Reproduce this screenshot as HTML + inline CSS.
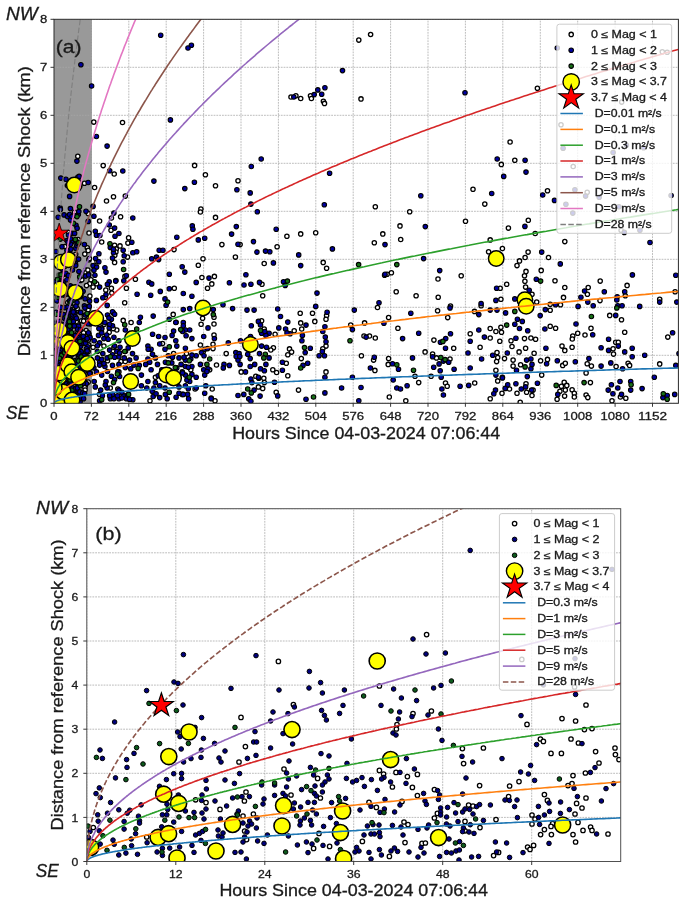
<!DOCTYPE html>
<html><head><meta charset="utf-8"><title>chart</title><style>html,body{margin:0;padding:0;background:#fff}svg{display:block;will-change:transform}</style></head><body>
<svg width="685" height="907" viewBox="0 0 685 907">
<rect width="685" height="907" fill="#fff"/>
<clipPath id="clipA"><rect x="54.0" y="19.3" width="624.4" height="384.0"/></clipPath>
<g clip-path="url(#clipA)">
<rect x="54.0" y="19.3" width="38.0" height="384.0" fill="#808080" opacity="0.8"/>
<line x1="54.0" y1="403.3" x2="54.0" y2="19.3" stroke="#a6a6a6" stroke-width="0.75" stroke-dasharray="1.8 1.0"/>
<line x1="91.4" y1="403.3" x2="91.4" y2="19.3" stroke="#a6a6a6" stroke-width="0.75" stroke-dasharray="1.8 1.0"/>
<line x1="128.8" y1="403.3" x2="128.8" y2="19.3" stroke="#a6a6a6" stroke-width="0.75" stroke-dasharray="1.8 1.0"/>
<line x1="166.2" y1="403.3" x2="166.2" y2="19.3" stroke="#a6a6a6" stroke-width="0.75" stroke-dasharray="1.8 1.0"/>
<line x1="203.6" y1="403.3" x2="203.6" y2="19.3" stroke="#a6a6a6" stroke-width="0.75" stroke-dasharray="1.8 1.0"/>
<line x1="241.0" y1="403.3" x2="241.0" y2="19.3" stroke="#a6a6a6" stroke-width="0.75" stroke-dasharray="1.8 1.0"/>
<line x1="278.4" y1="403.3" x2="278.4" y2="19.3" stroke="#a6a6a6" stroke-width="0.75" stroke-dasharray="1.8 1.0"/>
<line x1="315.8" y1="403.3" x2="315.8" y2="19.3" stroke="#a6a6a6" stroke-width="0.75" stroke-dasharray="1.8 1.0"/>
<line x1="353.2" y1="403.3" x2="353.2" y2="19.3" stroke="#a6a6a6" stroke-width="0.75" stroke-dasharray="1.8 1.0"/>
<line x1="390.6" y1="403.3" x2="390.6" y2="19.3" stroke="#a6a6a6" stroke-width="0.75" stroke-dasharray="1.8 1.0"/>
<line x1="428.0" y1="403.3" x2="428.0" y2="19.3" stroke="#a6a6a6" stroke-width="0.75" stroke-dasharray="1.8 1.0"/>
<line x1="465.4" y1="403.3" x2="465.4" y2="19.3" stroke="#a6a6a6" stroke-width="0.75" stroke-dasharray="1.8 1.0"/>
<line x1="502.8" y1="403.3" x2="502.8" y2="19.3" stroke="#a6a6a6" stroke-width="0.75" stroke-dasharray="1.8 1.0"/>
<line x1="540.3" y1="403.3" x2="540.3" y2="19.3" stroke="#a6a6a6" stroke-width="0.75" stroke-dasharray="1.8 1.0"/>
<line x1="577.7" y1="403.3" x2="577.7" y2="19.3" stroke="#a6a6a6" stroke-width="0.75" stroke-dasharray="1.8 1.0"/>
<line x1="615.1" y1="403.3" x2="615.1" y2="19.3" stroke="#a6a6a6" stroke-width="0.75" stroke-dasharray="1.8 1.0"/>
<line x1="652.5" y1="403.3" x2="652.5" y2="19.3" stroke="#a6a6a6" stroke-width="0.75" stroke-dasharray="1.8 1.0"/>
<line x1="54.0" y1="403.3" x2="678.4" y2="403.3" stroke="#a6a6a6" stroke-width="0.75" stroke-dasharray="1.8 1.0"/>
<line x1="54.0" y1="355.3" x2="678.4" y2="355.3" stroke="#a6a6a6" stroke-width="0.75" stroke-dasharray="1.8 1.0"/>
<line x1="54.0" y1="307.3" x2="678.4" y2="307.3" stroke="#a6a6a6" stroke-width="0.75" stroke-dasharray="1.8 1.0"/>
<line x1="54.0" y1="259.3" x2="678.4" y2="259.3" stroke="#a6a6a6" stroke-width="0.75" stroke-dasharray="1.8 1.0"/>
<line x1="54.0" y1="211.3" x2="678.4" y2="211.3" stroke="#a6a6a6" stroke-width="0.75" stroke-dasharray="1.8 1.0"/>
<line x1="54.0" y1="163.3" x2="678.4" y2="163.3" stroke="#a6a6a6" stroke-width="0.75" stroke-dasharray="1.8 1.0"/>
<line x1="54.0" y1="115.3" x2="678.4" y2="115.3" stroke="#a6a6a6" stroke-width="0.75" stroke-dasharray="1.8 1.0"/>
<line x1="54.0" y1="67.3" x2="678.4" y2="67.3" stroke="#a6a6a6" stroke-width="0.75" stroke-dasharray="1.8 1.0"/>
<line x1="54.0" y1="19.3" x2="678.4" y2="19.3" stroke="#a6a6a6" stroke-width="0.75" stroke-dasharray="1.8 1.0"/>
<circle cx="93.8" cy="122.1" r="2.15" fill="#fff" stroke="#000" stroke-width="1.3"/>
<circle cx="122.5" cy="122.5" r="2.15" fill="#fff" stroke="#000" stroke-width="1.3"/>
<circle cx="103.2" cy="165.6" r="2.15" fill="#fff" stroke="#000" stroke-width="1.3"/>
<circle cx="114.2" cy="174.0" r="2.15" fill="#fff" stroke="#000" stroke-width="1.3"/>
<circle cx="94.6" cy="187.5" r="2.15" fill="#fff" stroke="#000" stroke-width="1.3"/>
<circle cx="113.5" cy="196.8" r="2.15" fill="#fff" stroke="#000" stroke-width="1.3"/>
<circle cx="106.5" cy="201.0" r="2.15" fill="#fff" stroke="#000" stroke-width="1.3"/>
<circle cx="125.3" cy="196.1" r="2.15" fill="#fff" stroke="#000" stroke-width="1.3"/>
<circle cx="194.6" cy="165.4" r="2.15" fill="#fff" stroke="#000" stroke-width="1.3"/>
<circle cx="205.4" cy="174.7" r="2.15" fill="#fff" stroke="#000" stroke-width="1.3"/>
<circle cx="215.5" cy="185.8" r="2.15" fill="#fff" stroke="#000" stroke-width="1.3"/>
<circle cx="200.9" cy="209.0" r="2.15" fill="#fff" stroke="#000" stroke-width="1.3"/>
<circle cx="238.0" cy="180.7" r="2.15" fill="#fff" stroke="#000" stroke-width="1.3"/>
<circle cx="358.8" cy="40.1" r="2.15" fill="#fff" stroke="#000" stroke-width="1.3"/>
<circle cx="370.6" cy="34.5" r="2.15" fill="#fff" stroke="#000" stroke-width="1.3"/>
<circle cx="291.0" cy="97.0" r="2.15" fill="#fff" stroke="#000" stroke-width="1.3"/>
<circle cx="295.9" cy="95.7" r="2.15" fill="#fff" stroke="#000" stroke-width="1.3"/>
<circle cx="300.7" cy="98.5" r="2.15" fill="#fff" stroke="#000" stroke-width="1.3"/>
<circle cx="310.5" cy="95.7" r="2.15" fill="#fff" stroke="#000" stroke-width="1.3"/>
<circle cx="311.4" cy="98.5" r="2.15" fill="#fff" stroke="#000" stroke-width="1.3"/>
<circle cx="323.4" cy="101.3" r="2.15" fill="#fff" stroke="#000" stroke-width="1.3"/>
<circle cx="324.5" cy="103.4" r="2.15" fill="#fff" stroke="#000" stroke-width="1.3"/>
<circle cx="361.0" cy="98.9" r="2.15" fill="#fff" stroke="#000" stroke-width="1.3"/>
<circle cx="375.3" cy="206.8" r="2.15" fill="#fff" stroke="#000" stroke-width="1.3"/>
<circle cx="510.1" cy="142.0" r="2.15" fill="#fff" stroke="#000" stroke-width="1.3"/>
<circle cx="501.3" cy="164.4" r="2.15" fill="#fff" stroke="#000" stroke-width="1.3"/>
<circle cx="514.8" cy="160.3" r="2.15" fill="#fff" stroke="#000" stroke-width="1.3"/>
<circle cx="473.0" cy="189.2" r="2.15" fill="#fff" stroke="#000" stroke-width="1.3"/>
<circle cx="484.8" cy="204.1" r="2.15" fill="#fff" stroke="#000" stroke-width="1.3"/>
<circle cx="409.7" cy="211.8" r="2.15" fill="#fff" stroke="#000" stroke-width="1.3"/>
<circle cx="537.4" cy="88.2" r="2.15" fill="#fff" stroke="#000" stroke-width="1.3"/>
<circle cx="547.5" cy="190.7" r="2.15" fill="#fff" stroke="#000" stroke-width="1.3"/>
<circle cx="662.3" cy="51.7" r="2.15" fill="#fff" stroke="#000" stroke-width="1.3"/>
<circle cx="667.2" cy="52.3" r="2.15" fill="#fff" stroke="#000" stroke-width="1.3"/>
<circle cx="621.7" cy="102.1" r="2.15" fill="#fff" stroke="#000" stroke-width="1.3"/>
<circle cx="561.0" cy="124.7" r="2.15" fill="#fff" stroke="#000" stroke-width="1.3"/>
<circle cx="573.2" cy="166.5" r="2.15" fill="#fff" stroke="#000" stroke-width="1.3"/>
<circle cx="587.2" cy="192.2" r="2.15" fill="#fff" stroke="#000" stroke-width="1.3"/>
<circle cx="99.6" cy="221.0" r="2.15" fill="#fff" stroke="#000" stroke-width="1.3"/>
<circle cx="120.6" cy="216.7" r="2.15" fill="#fff" stroke="#000" stroke-width="1.3"/>
<circle cx="111.4" cy="218.0" r="2.15" fill="#fff" stroke="#000" stroke-width="1.3"/>
<circle cx="215.5" cy="217.4" r="2.15" fill="#fff" stroke="#000" stroke-width="1.3"/>
<circle cx="111.0" cy="230.2" r="2.15" fill="#fff" stroke="#000" stroke-width="1.3"/>
<circle cx="200.4" cy="212.0" r="2.15" fill="#fff" stroke="#000" stroke-width="1.3"/>
<circle cx="128.6" cy="237.8" r="2.15" fill="#fff" stroke="#000" stroke-width="1.3"/>
<circle cx="101.7" cy="242.0" r="2.15" fill="#fff" stroke="#000" stroke-width="1.3"/>
<circle cx="114.6" cy="245.3" r="2.15" fill="#fff" stroke="#000" stroke-width="1.3"/>
<circle cx="120.0" cy="245.9" r="2.15" fill="#fff" stroke="#000" stroke-width="1.3"/>
<circle cx="127.9" cy="243.1" r="2.15" fill="#fff" stroke="#000" stroke-width="1.3"/>
<circle cx="221.9" cy="244.6" r="2.15" fill="#fff" stroke="#000" stroke-width="1.3"/>
<circle cx="174.0" cy="249.6" r="2.15" fill="#fff" stroke="#000" stroke-width="1.3"/>
<circle cx="116.3" cy="248.9" r="2.15" fill="#fff" stroke="#000" stroke-width="1.3"/>
<circle cx="127.5" cy="257.1" r="2.15" fill="#fff" stroke="#000" stroke-width="1.3"/>
<circle cx="114.6" cy="262.4" r="2.15" fill="#fff" stroke="#000" stroke-width="1.3"/>
<circle cx="97.0" cy="261.8" r="2.15" fill="#fff" stroke="#000" stroke-width="1.3"/>
<circle cx="203.0" cy="258.8" r="2.15" fill="#fff" stroke="#000" stroke-width="1.3"/>
<circle cx="198.3" cy="265.2" r="2.15" fill="#fff" stroke="#000" stroke-width="1.3"/>
<circle cx="235.4" cy="257.1" r="2.15" fill="#fff" stroke="#000" stroke-width="1.3"/>
<circle cx="124.9" cy="276.4" r="2.15" fill="#fff" stroke="#000" stroke-width="1.3"/>
<circle cx="135.4" cy="279.2" r="2.15" fill="#fff" stroke="#000" stroke-width="1.3"/>
<circle cx="214.4" cy="276.4" r="2.15" fill="#fff" stroke="#000" stroke-width="1.3"/>
<circle cx="201.9" cy="277.5" r="2.15" fill="#fff" stroke="#000" stroke-width="1.3"/>
<circle cx="111.4" cy="288.2" r="2.15" fill="#fff" stroke="#000" stroke-width="1.3"/>
<circle cx="126.4" cy="288.2" r="2.15" fill="#fff" stroke="#000" stroke-width="1.3"/>
<circle cx="211.8" cy="283.9" r="2.15" fill="#fff" stroke="#000" stroke-width="1.3"/>
<circle cx="207.5" cy="288.2" r="2.15" fill="#fff" stroke="#000" stroke-width="1.3"/>
<circle cx="174.3" cy="288.2" r="2.15" fill="#fff" stroke="#000" stroke-width="1.3"/>
<circle cx="93.1" cy="287.1" r="2.15" fill="#fff" stroke="#000" stroke-width="1.3"/>
<circle cx="111.8" cy="293.1" r="2.15" fill="#fff" stroke="#000" stroke-width="1.3"/>
<circle cx="124.7" cy="302.8" r="2.15" fill="#fff" stroke="#000" stroke-width="1.3"/>
<circle cx="173.2" cy="314.4" r="2.15" fill="#fff" stroke="#000" stroke-width="1.3"/>
<circle cx="202.6" cy="318.2" r="2.15" fill="#fff" stroke="#000" stroke-width="1.3"/>
<circle cx="214.0" cy="317.2" r="2.15" fill="#fff" stroke="#000" stroke-width="1.3"/>
<circle cx="123.2" cy="320.4" r="2.15" fill="#fff" stroke="#000" stroke-width="1.3"/>
<circle cx="131.1" cy="322.5" r="2.15" fill="#fff" stroke="#000" stroke-width="1.3"/>
<circle cx="116.8" cy="330.0" r="2.15" fill="#fff" stroke="#000" stroke-width="1.3"/>
<circle cx="201.1" cy="324.2" r="2.15" fill="#fff" stroke="#000" stroke-width="1.3"/>
<circle cx="214.0" cy="324.0" r="2.15" fill="#fff" stroke="#000" stroke-width="1.3"/>
<circle cx="109.2" cy="332.2" r="2.15" fill="#fff" stroke="#000" stroke-width="1.3"/>
<circle cx="214.0" cy="335.0" r="2.15" fill="#fff" stroke="#000" stroke-width="1.3"/>
<circle cx="103.9" cy="346.1" r="2.15" fill="#fff" stroke="#000" stroke-width="1.3"/>
<circle cx="200.4" cy="345.0" r="2.15" fill="#fff" stroke="#000" stroke-width="1.3"/>
<circle cx="226.2" cy="353.6" r="2.15" fill="#fff" stroke="#000" stroke-width="1.3"/>
<circle cx="173.6" cy="353.6" r="2.15" fill="#fff" stroke="#000" stroke-width="1.3"/>
<circle cx="186.5" cy="353.6" r="2.15" fill="#fff" stroke="#000" stroke-width="1.3"/>
<circle cx="93.1" cy="347.2" r="2.15" fill="#fff" stroke="#000" stroke-width="1.3"/>
<circle cx="118.9" cy="371.9" r="2.15" fill="#fff" stroke="#000" stroke-width="1.3"/>
<circle cx="190.8" cy="369.7" r="2.15" fill="#fff" stroke="#000" stroke-width="1.3"/>
<circle cx="216.5" cy="365.0" r="2.15" fill="#fff" stroke="#000" stroke-width="1.3"/>
<circle cx="182.2" cy="371.9" r="2.15" fill="#fff" stroke="#000" stroke-width="1.3"/>
<circle cx="155.4" cy="377.2" r="2.15" fill="#fff" stroke="#000" stroke-width="1.3"/>
<circle cx="110.3" cy="388.0" r="2.15" fill="#fff" stroke="#000" stroke-width="1.3"/>
<circle cx="99.6" cy="394.4" r="2.15" fill="#fff" stroke="#000" stroke-width="1.3"/>
<circle cx="212.2" cy="389.0" r="2.15" fill="#fff" stroke="#000" stroke-width="1.3"/>
<circle cx="195.1" cy="389.0" r="2.15" fill="#fff" stroke="#000" stroke-width="1.3"/>
<circle cx="150.0" cy="400.8" r="2.15" fill="#fff" stroke="#000" stroke-width="1.3"/>
<circle cx="182.2" cy="394.4" r="2.15" fill="#fff" stroke="#000" stroke-width="1.3"/>
<circle cx="215.0" cy="400.8" r="2.15" fill="#fff" stroke="#000" stroke-width="1.3"/>
<circle cx="117.8" cy="389.0" r="2.15" fill="#fff" stroke="#000" stroke-width="1.3"/>
<circle cx="286.9" cy="236.2" r="2.15" fill="#fff" stroke="#000" stroke-width="1.3"/>
<circle cx="300.7" cy="233.9" r="2.15" fill="#fff" stroke="#000" stroke-width="1.3"/>
<circle cx="315.7" cy="232.8" r="2.15" fill="#fff" stroke="#000" stroke-width="1.3"/>
<circle cx="277.1" cy="246.8" r="2.15" fill="#fff" stroke="#000" stroke-width="1.3"/>
<circle cx="240.1" cy="244.6" r="2.15" fill="#fff" stroke="#000" stroke-width="1.3"/>
<circle cx="374.3" cy="242.7" r="2.15" fill="#fff" stroke="#000" stroke-width="1.3"/>
<circle cx="382.8" cy="233.9" r="2.15" fill="#fff" stroke="#000" stroke-width="1.3"/>
<circle cx="264.2" cy="263.5" r="2.15" fill="#fff" stroke="#000" stroke-width="1.3"/>
<circle cx="323.2" cy="262.4" r="2.15" fill="#fff" stroke="#000" stroke-width="1.3"/>
<circle cx="326.6" cy="268.2" r="2.15" fill="#fff" stroke="#000" stroke-width="1.3"/>
<circle cx="262.0" cy="284.3" r="2.15" fill="#fff" stroke="#000" stroke-width="1.3"/>
<circle cx="262.7" cy="295.7" r="2.15" fill="#fff" stroke="#000" stroke-width="1.3"/>
<circle cx="300.2" cy="313.3" r="2.15" fill="#fff" stroke="#000" stroke-width="1.3"/>
<circle cx="312.5" cy="313.3" r="2.15" fill="#fff" stroke="#000" stroke-width="1.3"/>
<circle cx="326.6" cy="315.6" r="2.15" fill="#fff" stroke="#000" stroke-width="1.3"/>
<circle cx="326.0" cy="319.3" r="2.15" fill="#fff" stroke="#000" stroke-width="1.3"/>
<circle cx="377.5" cy="307.5" r="2.15" fill="#fff" stroke="#000" stroke-width="1.3"/>
<circle cx="261.6" cy="320.8" r="2.15" fill="#fff" stroke="#000" stroke-width="1.3"/>
<circle cx="300.7" cy="322.9" r="2.15" fill="#fff" stroke="#000" stroke-width="1.3"/>
<circle cx="314.8" cy="321.4" r="2.15" fill="#fff" stroke="#000" stroke-width="1.3"/>
<circle cx="350.7" cy="325.1" r="2.15" fill="#fff" stroke="#000" stroke-width="1.3"/>
<circle cx="364.6" cy="322.9" r="2.15" fill="#fff" stroke="#000" stroke-width="1.3"/>
<circle cx="264.2" cy="329.0" r="2.15" fill="#fff" stroke="#000" stroke-width="1.3"/>
<circle cx="294.2" cy="330.7" r="2.15" fill="#fff" stroke="#000" stroke-width="1.3"/>
<circle cx="301.7" cy="329.0" r="2.15" fill="#fff" stroke="#000" stroke-width="1.3"/>
<circle cx="275.1" cy="334.3" r="2.15" fill="#fff" stroke="#000" stroke-width="1.3"/>
<circle cx="326.0" cy="346.1" r="2.15" fill="#fff" stroke="#000" stroke-width="1.3"/>
<circle cx="322.8" cy="348.7" r="2.15" fill="#fff" stroke="#000" stroke-width="1.3"/>
<circle cx="289.5" cy="348.9" r="2.15" fill="#fff" stroke="#000" stroke-width="1.3"/>
<circle cx="273.4" cy="347.8" r="2.15" fill="#fff" stroke="#000" stroke-width="1.3"/>
<circle cx="270.8" cy="350.0" r="2.15" fill="#fff" stroke="#000" stroke-width="1.3"/>
<circle cx="291.6" cy="352.1" r="2.15" fill="#fff" stroke="#000" stroke-width="1.3"/>
<circle cx="287.8" cy="354.7" r="2.15" fill="#fff" stroke="#000" stroke-width="1.3"/>
<circle cx="364.0" cy="336.0" r="2.15" fill="#fff" stroke="#000" stroke-width="1.3"/>
<circle cx="369.5" cy="336.0" r="2.15" fill="#fff" stroke="#000" stroke-width="1.3"/>
<circle cx="375.3" cy="338.0" r="2.15" fill="#fff" stroke="#000" stroke-width="1.3"/>
<circle cx="361.4" cy="355.8" r="2.15" fill="#fff" stroke="#000" stroke-width="1.3"/>
<circle cx="373.6" cy="360.1" r="2.15" fill="#fff" stroke="#000" stroke-width="1.3"/>
<circle cx="301.3" cy="358.6" r="2.15" fill="#fff" stroke="#000" stroke-width="1.3"/>
<circle cx="286.3" cy="363.3" r="2.15" fill="#fff" stroke="#000" stroke-width="1.3"/>
<circle cx="272.8" cy="369.7" r="2.15" fill="#fff" stroke="#000" stroke-width="1.3"/>
<circle cx="276.6" cy="372.5" r="2.15" fill="#fff" stroke="#000" stroke-width="1.3"/>
<circle cx="241.2" cy="371.9" r="2.15" fill="#fff" stroke="#000" stroke-width="1.3"/>
<circle cx="287.8" cy="375.7" r="2.15" fill="#fff" stroke="#000" stroke-width="1.3"/>
<circle cx="326.0" cy="371.9" r="2.15" fill="#fff" stroke="#000" stroke-width="1.3"/>
<circle cx="374.9" cy="370.4" r="2.15" fill="#fff" stroke="#000" stroke-width="1.3"/>
<circle cx="255.8" cy="376.2" r="2.15" fill="#fff" stroke="#000" stroke-width="1.3"/>
<circle cx="258.8" cy="378.3" r="2.15" fill="#fff" stroke="#000" stroke-width="1.3"/>
<circle cx="263.8" cy="378.3" r="2.15" fill="#fff" stroke="#000" stroke-width="1.3"/>
<circle cx="264.4" cy="382.6" r="2.15" fill="#fff" stroke="#000" stroke-width="1.3"/>
<circle cx="258.4" cy="386.9" r="2.15" fill="#fff" stroke="#000" stroke-width="1.3"/>
<circle cx="262.7" cy="388.4" r="2.15" fill="#fff" stroke="#000" stroke-width="1.3"/>
<circle cx="298.5" cy="390.1" r="2.15" fill="#fff" stroke="#000" stroke-width="1.3"/>
<circle cx="276.2" cy="392.3" r="2.15" fill="#fff" stroke="#000" stroke-width="1.3"/>
<circle cx="400.0" cy="225.9" r="2.15" fill="#fff" stroke="#000" stroke-width="1.3"/>
<circle cx="400.7" cy="239.5" r="2.15" fill="#fff" stroke="#000" stroke-width="1.3"/>
<circle cx="465.5" cy="221.2" r="2.15" fill="#fff" stroke="#000" stroke-width="1.3"/>
<circle cx="508.4" cy="228.1" r="2.15" fill="#fff" stroke="#000" stroke-width="1.3"/>
<circle cx="528.3" cy="220.2" r="2.15" fill="#fff" stroke="#000" stroke-width="1.3"/>
<circle cx="490.2" cy="239.9" r="2.15" fill="#fff" stroke="#000" stroke-width="1.3"/>
<circle cx="488.6" cy="251.7" r="2.15" fill="#fff" stroke="#000" stroke-width="1.3"/>
<circle cx="502.4" cy="248.5" r="2.15" fill="#fff" stroke="#000" stroke-width="1.3"/>
<circle cx="528.1" cy="252.1" r="2.15" fill="#fff" stroke="#000" stroke-width="1.3"/>
<circle cx="525.1" cy="257.5" r="2.15" fill="#fff" stroke="#000" stroke-width="1.3"/>
<circle cx="519.5" cy="260.9" r="2.15" fill="#fff" stroke="#000" stroke-width="1.3"/>
<circle cx="517.0" cy="265.6" r="2.15" fill="#fff" stroke="#000" stroke-width="1.3"/>
<circle cx="526.0" cy="271.4" r="2.15" fill="#fff" stroke="#000" stroke-width="1.3"/>
<circle cx="524.5" cy="275.7" r="2.15" fill="#fff" stroke="#000" stroke-width="1.3"/>
<circle cx="524.9" cy="281.3" r="2.15" fill="#fff" stroke="#000" stroke-width="1.3"/>
<circle cx="525.6" cy="287.1" r="2.15" fill="#fff" stroke="#000" stroke-width="1.3"/>
<circle cx="506.7" cy="284.3" r="2.15" fill="#fff" stroke="#000" stroke-width="1.3"/>
<circle cx="500.2" cy="288.2" r="2.15" fill="#fff" stroke="#000" stroke-width="1.3"/>
<circle cx="500.9" cy="299.3" r="2.15" fill="#fff" stroke="#000" stroke-width="1.3"/>
<circle cx="391.4" cy="272.7" r="2.15" fill="#fff" stroke="#000" stroke-width="1.3"/>
<circle cx="387.1" cy="274.2" r="2.15" fill="#fff" stroke="#000" stroke-width="1.3"/>
<circle cx="384.6" cy="275.3" r="2.15" fill="#fff" stroke="#000" stroke-width="1.3"/>
<circle cx="438.0" cy="279.0" r="2.15" fill="#fff" stroke="#000" stroke-width="1.3"/>
<circle cx="461.2" cy="275.7" r="2.15" fill="#fff" stroke="#000" stroke-width="1.3"/>
<circle cx="396.2" cy="291.8" r="2.15" fill="#fff" stroke="#000" stroke-width="1.3"/>
<circle cx="416.1" cy="295.7" r="2.15" fill="#fff" stroke="#000" stroke-width="1.3"/>
<circle cx="438.2" cy="297.2" r="2.15" fill="#fff" stroke="#000" stroke-width="1.3"/>
<circle cx="450.5" cy="306.0" r="2.15" fill="#fff" stroke="#000" stroke-width="1.3"/>
<circle cx="437.6" cy="310.7" r="2.15" fill="#fff" stroke="#000" stroke-width="1.3"/>
<circle cx="447.7" cy="317.6" r="2.15" fill="#fff" stroke="#000" stroke-width="1.3"/>
<circle cx="388.6" cy="317.6" r="2.15" fill="#fff" stroke="#000" stroke-width="1.3"/>
<circle cx="481.1" cy="305.8" r="2.15" fill="#fff" stroke="#000" stroke-width="1.3"/>
<circle cx="474.5" cy="311.4" r="2.15" fill="#fff" stroke="#000" stroke-width="1.3"/>
<circle cx="397.9" cy="328.3" r="2.15" fill="#fff" stroke="#000" stroke-width="1.3"/>
<circle cx="490.2" cy="328.5" r="2.15" fill="#fff" stroke="#000" stroke-width="1.3"/>
<circle cx="495.9" cy="331.5" r="2.15" fill="#fff" stroke="#000" stroke-width="1.3"/>
<circle cx="500.9" cy="327.2" r="2.15" fill="#fff" stroke="#000" stroke-width="1.3"/>
<circle cx="501.5" cy="332.2" r="2.15" fill="#fff" stroke="#000" stroke-width="1.3"/>
<circle cx="470.2" cy="333.7" r="2.15" fill="#fff" stroke="#000" stroke-width="1.3"/>
<circle cx="490.2" cy="338.0" r="2.15" fill="#fff" stroke="#000" stroke-width="1.3"/>
<circle cx="499.8" cy="341.2" r="2.15" fill="#fff" stroke="#000" stroke-width="1.3"/>
<circle cx="511.0" cy="340.8" r="2.15" fill="#fff" stroke="#000" stroke-width="1.3"/>
<circle cx="524.5" cy="338.6" r="2.15" fill="#fff" stroke="#000" stroke-width="1.3"/>
<circle cx="530.9" cy="338.0" r="2.15" fill="#fff" stroke="#000" stroke-width="1.3"/>
<circle cx="433.9" cy="340.1" r="2.15" fill="#fff" stroke="#000" stroke-width="1.3"/>
<circle cx="453.7" cy="348.3" r="2.15" fill="#fff" stroke="#000" stroke-width="1.3"/>
<circle cx="480.1" cy="347.2" r="2.15" fill="#fff" stroke="#000" stroke-width="1.3"/>
<circle cx="512.0" cy="346.5" r="2.15" fill="#fff" stroke="#000" stroke-width="1.3"/>
<circle cx="525.6" cy="348.3" r="2.15" fill="#fff" stroke="#000" stroke-width="1.3"/>
<circle cx="519.1" cy="351.9" r="2.15" fill="#fff" stroke="#000" stroke-width="1.3"/>
<circle cx="497.0" cy="352.6" r="2.15" fill="#fff" stroke="#000" stroke-width="1.3"/>
<circle cx="425.1" cy="351.9" r="2.15" fill="#fff" stroke="#000" stroke-width="1.3"/>
<circle cx="432.6" cy="354.1" r="2.15" fill="#fff" stroke="#000" stroke-width="1.3"/>
<circle cx="436.5" cy="357.9" r="2.15" fill="#fff" stroke="#000" stroke-width="1.3"/>
<circle cx="450.0" cy="359.0" r="2.15" fill="#fff" stroke="#000" stroke-width="1.3"/>
<circle cx="388.6" cy="358.6" r="2.15" fill="#fff" stroke="#000" stroke-width="1.3"/>
<circle cx="388.2" cy="364.4" r="2.15" fill="#fff" stroke="#000" stroke-width="1.3"/>
<circle cx="497.7" cy="357.5" r="2.15" fill="#fff" stroke="#000" stroke-width="1.3"/>
<circle cx="504.5" cy="358.6" r="2.15" fill="#fff" stroke="#000" stroke-width="1.3"/>
<circle cx="513.1" cy="360.1" r="2.15" fill="#fff" stroke="#000" stroke-width="1.3"/>
<circle cx="496.6" cy="361.6" r="2.15" fill="#fff" stroke="#000" stroke-width="1.3"/>
<circle cx="513.1" cy="366.1" r="2.15" fill="#fff" stroke="#000" stroke-width="1.3"/>
<circle cx="520.6" cy="364.8" r="2.15" fill="#fff" stroke="#000" stroke-width="1.3"/>
<circle cx="495.9" cy="370.2" r="2.15" fill="#fff" stroke="#000" stroke-width="1.3"/>
<circle cx="415.0" cy="376.2" r="2.15" fill="#fff" stroke="#000" stroke-width="1.3"/>
<circle cx="431.1" cy="376.2" r="2.15" fill="#fff" stroke="#000" stroke-width="1.3"/>
<circle cx="418.7" cy="382.6" r="2.15" fill="#fff" stroke="#000" stroke-width="1.3"/>
<circle cx="445.5" cy="383.0" r="2.15" fill="#fff" stroke="#000" stroke-width="1.3"/>
<circle cx="447.2" cy="386.2" r="2.15" fill="#fff" stroke="#000" stroke-width="1.3"/>
<circle cx="474.7" cy="383.0" r="2.15" fill="#fff" stroke="#000" stroke-width="1.3"/>
<circle cx="497.7" cy="380.9" r="2.15" fill="#fff" stroke="#000" stroke-width="1.3"/>
<circle cx="502.4" cy="377.2" r="2.15" fill="#fff" stroke="#000" stroke-width="1.3"/>
<circle cx="389.3" cy="397.0" r="2.15" fill="#fff" stroke="#000" stroke-width="1.3"/>
<circle cx="405.8" cy="400.8" r="2.15" fill="#fff" stroke="#000" stroke-width="1.3"/>
<circle cx="490.2" cy="398.7" r="2.15" fill="#fff" stroke="#000" stroke-width="1.3"/>
<circle cx="502.0" cy="393.3" r="2.15" fill="#fff" stroke="#000" stroke-width="1.3"/>
<circle cx="509.5" cy="389.0" r="2.15" fill="#fff" stroke="#000" stroke-width="1.3"/>
<circle cx="517.0" cy="393.3" r="2.15" fill="#fff" stroke="#000" stroke-width="1.3"/>
<circle cx="526.0" cy="383.7" r="2.15" fill="#fff" stroke="#000" stroke-width="1.3"/>
<circle cx="526.6" cy="392.3" r="2.15" fill="#fff" stroke="#000" stroke-width="1.3"/>
<circle cx="520.2" cy="402.3" r="2.15" fill="#fff" stroke="#000" stroke-width="1.3"/>
<circle cx="532.0" cy="395.5" r="2.15" fill="#fff" stroke="#000" stroke-width="1.3"/>
<circle cx="621.1" cy="230.2" r="2.15" fill="#fff" stroke="#000" stroke-width="1.3"/>
<circle cx="535.2" cy="233.5" r="2.15" fill="#fff" stroke="#000" stroke-width="1.3"/>
<circle cx="564.8" cy="241.6" r="2.15" fill="#fff" stroke="#000" stroke-width="1.3"/>
<circle cx="548.5" cy="257.5" r="2.15" fill="#fff" stroke="#000" stroke-width="1.3"/>
<circle cx="541.2" cy="270.4" r="2.15" fill="#fff" stroke="#000" stroke-width="1.3"/>
<circle cx="555.0" cy="280.7" r="2.15" fill="#fff" stroke="#000" stroke-width="1.3"/>
<circle cx="564.8" cy="287.5" r="2.15" fill="#fff" stroke="#000" stroke-width="1.3"/>
<circle cx="600.2" cy="281.1" r="2.15" fill="#fff" stroke="#000" stroke-width="1.3"/>
<circle cx="588.2" cy="287.5" r="2.15" fill="#fff" stroke="#000" stroke-width="1.3"/>
<circle cx="627.1" cy="285.4" r="2.15" fill="#fff" stroke="#000" stroke-width="1.3"/>
<circle cx="587.4" cy="294.2" r="2.15" fill="#fff" stroke="#000" stroke-width="1.3"/>
<circle cx="563.5" cy="297.4" r="2.15" fill="#fff" stroke="#000" stroke-width="1.3"/>
<circle cx="625.3" cy="295.7" r="2.15" fill="#fff" stroke="#000" stroke-width="1.3"/>
<circle cx="600.0" cy="300.6" r="2.15" fill="#fff" stroke="#000" stroke-width="1.3"/>
<circle cx="675.1" cy="291.8" r="2.15" fill="#fff" stroke="#000" stroke-width="1.3"/>
<circle cx="659.7" cy="299.3" r="2.15" fill="#fff" stroke="#000" stroke-width="1.3"/>
<circle cx="532.0" cy="294.2" r="2.15" fill="#fff" stroke="#000" stroke-width="1.3"/>
<circle cx="536.7" cy="302.1" r="2.15" fill="#fff" stroke="#000" stroke-width="1.3"/>
<circle cx="550.2" cy="304.3" r="2.15" fill="#fff" stroke="#000" stroke-width="1.3"/>
<circle cx="560.5" cy="304.7" r="2.15" fill="#fff" stroke="#000" stroke-width="1.3"/>
<circle cx="550.2" cy="310.3" r="2.15" fill="#fff" stroke="#000" stroke-width="1.3"/>
<circle cx="609.7" cy="315.4" r="2.15" fill="#fff" stroke="#000" stroke-width="1.3"/>
<circle cx="621.5" cy="319.7" r="2.15" fill="#fff" stroke="#000" stroke-width="1.3"/>
<circle cx="550.2" cy="326.2" r="2.15" fill="#fff" stroke="#000" stroke-width="1.3"/>
<circle cx="555.6" cy="328.3" r="2.15" fill="#fff" stroke="#000" stroke-width="1.3"/>
<circle cx="591.0" cy="328.3" r="2.15" fill="#fff" stroke="#000" stroke-width="1.3"/>
<circle cx="577.7" cy="333.2" r="2.15" fill="#fff" stroke="#000" stroke-width="1.3"/>
<circle cx="585.0" cy="335.0" r="2.15" fill="#fff" stroke="#000" stroke-width="1.3"/>
<circle cx="572.8" cy="336.0" r="2.15" fill="#fff" stroke="#000" stroke-width="1.3"/>
<circle cx="572.3" cy="339.0" r="2.15" fill="#fff" stroke="#000" stroke-width="1.3"/>
<circle cx="624.7" cy="332.2" r="2.15" fill="#fff" stroke="#000" stroke-width="1.3"/>
<circle cx="535.6" cy="339.3" r="2.15" fill="#fff" stroke="#000" stroke-width="1.3"/>
<circle cx="667.8" cy="337.1" r="2.15" fill="#fff" stroke="#000" stroke-width="1.3"/>
<circle cx="562.0" cy="346.1" r="2.15" fill="#fff" stroke="#000" stroke-width="1.3"/>
<circle cx="564.8" cy="350.4" r="2.15" fill="#fff" stroke="#000" stroke-width="1.3"/>
<circle cx="572.1" cy="347.2" r="2.15" fill="#fff" stroke="#000" stroke-width="1.3"/>
<circle cx="615.7" cy="342.3" r="2.15" fill="#fff" stroke="#000" stroke-width="1.3"/>
<circle cx="618.3" cy="342.3" r="2.15" fill="#fff" stroke="#000" stroke-width="1.3"/>
<circle cx="613.1" cy="348.7" r="2.15" fill="#fff" stroke="#000" stroke-width="1.3"/>
<circle cx="613.5" cy="354.1" r="2.15" fill="#fff" stroke="#000" stroke-width="1.3"/>
<circle cx="534.1" cy="353.2" r="2.15" fill="#fff" stroke="#000" stroke-width="1.3"/>
<circle cx="540.6" cy="360.7" r="2.15" fill="#fff" stroke="#000" stroke-width="1.3"/>
<circle cx="547.5" cy="359.4" r="2.15" fill="#fff" stroke="#000" stroke-width="1.3"/>
<circle cx="562.7" cy="365.4" r="2.15" fill="#fff" stroke="#000" stroke-width="1.3"/>
<circle cx="565.3" cy="363.3" r="2.15" fill="#fff" stroke="#000" stroke-width="1.3"/>
<circle cx="587.2" cy="363.7" r="2.15" fill="#fff" stroke="#000" stroke-width="1.3"/>
<circle cx="591.4" cy="366.1" r="2.15" fill="#fff" stroke="#000" stroke-width="1.3"/>
<circle cx="616.1" cy="366.5" r="2.15" fill="#fff" stroke="#000" stroke-width="1.3"/>
<circle cx="628.1" cy="363.3" r="2.15" fill="#fff" stroke="#000" stroke-width="1.3"/>
<circle cx="629.6" cy="365.4" r="2.15" fill="#fff" stroke="#000" stroke-width="1.3"/>
<circle cx="659.7" cy="363.9" r="2.15" fill="#fff" stroke="#000" stroke-width="1.3"/>
<circle cx="586.1" cy="372.9" r="2.15" fill="#fff" stroke="#000" stroke-width="1.3"/>
<circle cx="541.7" cy="375.1" r="2.15" fill="#fff" stroke="#000" stroke-width="1.3"/>
<circle cx="564.2" cy="382.2" r="2.15" fill="#fff" stroke="#000" stroke-width="1.3"/>
<circle cx="566.8" cy="385.4" r="2.15" fill="#fff" stroke="#000" stroke-width="1.3"/>
<circle cx="561.4" cy="386.2" r="2.15" fill="#fff" stroke="#000" stroke-width="1.3"/>
<circle cx="565.3" cy="390.1" r="2.15" fill="#fff" stroke="#000" stroke-width="1.3"/>
<circle cx="559.9" cy="391.2" r="2.15" fill="#fff" stroke="#000" stroke-width="1.3"/>
<circle cx="572.1" cy="389.7" r="2.15" fill="#fff" stroke="#000" stroke-width="1.3"/>
<circle cx="590.4" cy="382.6" r="2.15" fill="#fff" stroke="#000" stroke-width="1.3"/>
<circle cx="574.3" cy="393.3" r="2.15" fill="#fff" stroke="#000" stroke-width="1.3"/>
<circle cx="564.6" cy="396.1" r="2.15" fill="#fff" stroke="#000" stroke-width="1.3"/>
<circle cx="574.3" cy="397.0" r="2.15" fill="#fff" stroke="#000" stroke-width="1.3"/>
<circle cx="586.1" cy="395.0" r="2.15" fill="#fff" stroke="#000" stroke-width="1.3"/>
<circle cx="587.8" cy="397.6" r="2.15" fill="#fff" stroke="#000" stroke-width="1.3"/>
<circle cx="557.1" cy="399.3" r="2.15" fill="#fff" stroke="#000" stroke-width="1.3"/>
<circle cx="533.1" cy="390.1" r="2.15" fill="#fff" stroke="#000" stroke-width="1.3"/>
<circle cx="620.4" cy="397.0" r="2.15" fill="#fff" stroke="#000" stroke-width="1.3"/>
<circle cx="625.8" cy="398.3" r="2.15" fill="#fff" stroke="#000" stroke-width="1.3"/>
<circle cx="612.0" cy="400.8" r="2.15" fill="#fff" stroke="#000" stroke-width="1.3"/>
<circle cx="176.1" cy="322.2" r="2.15" fill="#fff" stroke="#000" stroke-width="1.3"/>
<circle cx="113.2" cy="328.6" r="2.15" fill="#fff" stroke="#000" stroke-width="1.3"/>
<circle cx="113.9" cy="347.5" r="2.15" fill="#fff" stroke="#000" stroke-width="1.3"/>
<circle cx="113.2" cy="312.9" r="2.15" fill="#fff" stroke="#000" stroke-width="1.3"/>
<circle cx="101.7" cy="327.9" r="2.15" fill="#fff" stroke="#000" stroke-width="1.3"/>
<circle cx="104.2" cy="324.3" r="2.15" fill="#fff" stroke="#000" stroke-width="1.3"/>
<circle cx="162.5" cy="343.6" r="2.15" fill="#fff" stroke="#000" stroke-width="1.3"/>
<circle cx="121.0" cy="361.5" r="2.15" fill="#fff" stroke="#000" stroke-width="1.3"/>
<circle cx="125.3" cy="361.5" r="2.15" fill="#fff" stroke="#000" stroke-width="1.3"/>
<circle cx="107.5" cy="360.8" r="2.15" fill="#fff" stroke="#000" stroke-width="1.3"/>
<circle cx="213.0" cy="344.3" r="2.15" fill="#fff" stroke="#000" stroke-width="1.3"/>
<circle cx="213.0" cy="348.6" r="2.15" fill="#fff" stroke="#000" stroke-width="1.3"/>
<circle cx="203.3" cy="351.5" r="2.15" fill="#fff" stroke="#000" stroke-width="1.3"/>
<circle cx="209.7" cy="369.8" r="2.15" fill="#fff" stroke="#000" stroke-width="1.3"/>
<circle cx="211.2" cy="398.0" r="2.15" fill="#fff" stroke="#000" stroke-width="1.3"/>
<circle cx="115.9" cy="252.0" r="2.15" fill="#fff" stroke="#000" stroke-width="1.3"/>
<circle cx="114.8" cy="255.2" r="2.15" fill="#fff" stroke="#000" stroke-width="1.3"/>
<circle cx="115.9" cy="280.6" r="2.15" fill="#fff" stroke="#000" stroke-width="1.3"/>
<circle cx="105.8" cy="290.0" r="2.15" fill="#fff" stroke="#000" stroke-width="1.3"/>
<circle cx="105.3" cy="297.3" r="2.15" fill="#fff" stroke="#000" stroke-width="1.3"/>
<circle cx="96.6" cy="283.8" r="2.15" fill="#fff" stroke="#000" stroke-width="1.3"/>
<circle cx="67.4" cy="185.5" r="2.15" fill="#fff" stroke="#000" stroke-width="1.3"/>
<circle cx="77.8" cy="156.3" r="2.15" fill="#fff" stroke="#000" stroke-width="1.3"/>
<circle cx="84.5" cy="183.3" r="2.15" fill="#fff" stroke="#000" stroke-width="1.3"/>
<circle cx="88.2" cy="213.4" r="2.15" fill="#fff" stroke="#000" stroke-width="1.3"/>
<circle cx="89.0" cy="233.0" r="2.15" fill="#fff" stroke="#000" stroke-width="1.3"/>
<circle cx="84.8" cy="254.1" r="2.15" fill="#fff" stroke="#000" stroke-width="1.3"/>
<circle cx="87.3" cy="247.8" r="2.15" fill="#fff" stroke="#000" stroke-width="1.3"/>
<circle cx="88.2" cy="250.4" r="2.15" fill="#fff" stroke="#000" stroke-width="1.3"/>
<circle cx="61.6" cy="336.1" r="2.15" fill="#fff" stroke="#000" stroke-width="1.3"/>
<circle cx="62.4" cy="339.2" r="2.15" fill="#fff" stroke="#000" stroke-width="1.3"/>
<circle cx="63.3" cy="346.6" r="2.15" fill="#fff" stroke="#000" stroke-width="1.3"/>
<circle cx="54.5" cy="366.3" r="2.15" fill="#fff" stroke="#000" stroke-width="1.3"/>
<circle cx="58.2" cy="376.7" r="2.15" fill="#fff" stroke="#000" stroke-width="1.3"/>
<circle cx="64.8" cy="246.5" r="2.15" fill="#fff" stroke="#000" stroke-width="1.3"/>
<circle cx="68.5" cy="232.5" r="2.15" fill="#fff" stroke="#000" stroke-width="1.3"/>
<circle cx="65.1" cy="278.2" r="2.15" fill="#fff" stroke="#000" stroke-width="1.3"/>
<circle cx="64.7" cy="295.0" r="2.15" fill="#fff" stroke="#000" stroke-width="1.3"/>
<circle cx="67.8" cy="302.6" r="2.15" fill="#fff" stroke="#000" stroke-width="1.3"/>
<circle cx="70.2" cy="312.9" r="2.15" fill="#fff" stroke="#000" stroke-width="1.3"/>
<circle cx="65.2" cy="327.7" r="2.15" fill="#fff" stroke="#000" stroke-width="1.3"/>
<circle cx="65.0" cy="337.4" r="2.15" fill="#fff" stroke="#000" stroke-width="1.3"/>
<circle cx="68.3" cy="330.9" r="2.15" fill="#fff" stroke="#000" stroke-width="1.3"/>
<circle cx="70.4" cy="334.2" r="2.15" fill="#fff" stroke="#000" stroke-width="1.3"/>
<circle cx="65.7" cy="351.6" r="2.15" fill="#fff" stroke="#000" stroke-width="1.3"/>
<circle cx="64.9" cy="353.8" r="2.15" fill="#fff" stroke="#000" stroke-width="1.3"/>
<circle cx="65.1" cy="370.1" r="2.15" fill="#fff" stroke="#000" stroke-width="1.3"/>
<circle cx="65.2" cy="379.5" r="2.15" fill="#fff" stroke="#000" stroke-width="1.3"/>
<circle cx="70.3" cy="372.7" r="2.15" fill="#fff" stroke="#000" stroke-width="1.3"/>
<circle cx="69.9" cy="389.0" r="2.15" fill="#fff" stroke="#000" stroke-width="1.3"/>
<circle cx="71.0" cy="386.9" r="2.15" fill="#fff" stroke="#000" stroke-width="1.3"/>
<circle cx="74.5" cy="212.3" r="2.15" fill="#fff" stroke="#000" stroke-width="1.3"/>
<circle cx="78.1" cy="239.5" r="2.15" fill="#fff" stroke="#000" stroke-width="1.3"/>
<circle cx="76.9" cy="242.3" r="2.15" fill="#fff" stroke="#000" stroke-width="1.3"/>
<circle cx="75.7" cy="254.3" r="2.15" fill="#fff" stroke="#000" stroke-width="1.3"/>
<circle cx="75.7" cy="259.1" r="2.15" fill="#fff" stroke="#000" stroke-width="1.3"/>
<circle cx="80.3" cy="280.4" r="2.15" fill="#fff" stroke="#000" stroke-width="1.3"/>
<circle cx="81.8" cy="279.8" r="2.15" fill="#fff" stroke="#000" stroke-width="1.3"/>
<circle cx="80.4" cy="296.7" r="2.15" fill="#fff" stroke="#000" stroke-width="1.3"/>
<circle cx="74.5" cy="304.1" r="2.15" fill="#fff" stroke="#000" stroke-width="1.3"/>
<circle cx="74.8" cy="308.1" r="2.15" fill="#fff" stroke="#000" stroke-width="1.3"/>
<circle cx="75.7" cy="306.3" r="2.15" fill="#fff" stroke="#000" stroke-width="1.3"/>
<circle cx="76.5" cy="310.9" r="2.15" fill="#fff" stroke="#000" stroke-width="1.3"/>
<circle cx="77.2" cy="308.5" r="2.15" fill="#fff" stroke="#000" stroke-width="1.3"/>
<circle cx="75.4" cy="322.2" r="2.15" fill="#fff" stroke="#000" stroke-width="1.3"/>
<circle cx="76.8" cy="322.6" r="2.15" fill="#fff" stroke="#000" stroke-width="1.3"/>
<circle cx="78.4" cy="325.0" r="2.15" fill="#fff" stroke="#000" stroke-width="1.3"/>
<circle cx="81.5" cy="320.7" r="2.15" fill="#fff" stroke="#000" stroke-width="1.3"/>
<circle cx="77.2" cy="331.6" r="2.15" fill="#fff" stroke="#000" stroke-width="1.3"/>
<circle cx="76.1" cy="337.9" r="2.15" fill="#fff" stroke="#000" stroke-width="1.3"/>
<circle cx="73.8" cy="339.0" r="2.15" fill="#fff" stroke="#000" stroke-width="1.3"/>
<circle cx="74.3" cy="344.4" r="2.15" fill="#fff" stroke="#000" stroke-width="1.3"/>
<circle cx="80.7" cy="341.8" r="2.15" fill="#fff" stroke="#000" stroke-width="1.3"/>
<circle cx="78.6" cy="350.9" r="2.15" fill="#fff" stroke="#000" stroke-width="1.3"/>
<circle cx="78.4" cy="356.0" r="2.15" fill="#fff" stroke="#000" stroke-width="1.3"/>
<circle cx="76.2" cy="360.3" r="2.15" fill="#fff" stroke="#000" stroke-width="1.3"/>
<circle cx="76.5" cy="363.1" r="2.15" fill="#fff" stroke="#000" stroke-width="1.3"/>
<circle cx="80.5" cy="359.7" r="2.15" fill="#fff" stroke="#000" stroke-width="1.3"/>
<circle cx="81.5" cy="366.4" r="2.15" fill="#fff" stroke="#000" stroke-width="1.3"/>
<circle cx="82.7" cy="357.7" r="2.15" fill="#fff" stroke="#000" stroke-width="1.3"/>
<circle cx="73.3" cy="381.4" r="2.15" fill="#fff" stroke="#000" stroke-width="1.3"/>
<circle cx="76.3" cy="382.7" r="2.15" fill="#fff" stroke="#000" stroke-width="1.3"/>
<circle cx="77.5" cy="383.6" r="2.15" fill="#fff" stroke="#000" stroke-width="1.3"/>
<circle cx="75.2" cy="397.7" r="2.15" fill="#fff" stroke="#000" stroke-width="1.3"/>
<circle cx="82.5" cy="396.9" r="2.15" fill="#fff" stroke="#000" stroke-width="1.3"/>
<circle cx="88.9" cy="259.7" r="2.15" fill="#fff" stroke="#000" stroke-width="1.3"/>
<circle cx="89.4" cy="258.6" r="2.15" fill="#fff" stroke="#000" stroke-width="1.3"/>
<circle cx="85.8" cy="270.0" r="2.15" fill="#fff" stroke="#000" stroke-width="1.3"/>
<circle cx="86.0" cy="272.6" r="2.15" fill="#fff" stroke="#000" stroke-width="1.3"/>
<circle cx="87.9" cy="270.0" r="2.15" fill="#fff" stroke="#000" stroke-width="1.3"/>
<circle cx="88.4" cy="274.3" r="2.15" fill="#fff" stroke="#000" stroke-width="1.3"/>
<circle cx="91.0" cy="279.8" r="2.15" fill="#fff" stroke="#000" stroke-width="1.3"/>
<circle cx="89.6" cy="283.7" r="2.15" fill="#fff" stroke="#000" stroke-width="1.3"/>
<circle cx="86.5" cy="285.6" r="2.15" fill="#fff" stroke="#000" stroke-width="1.3"/>
<circle cx="89.9" cy="296.1" r="2.15" fill="#fff" stroke="#000" stroke-width="1.3"/>
<circle cx="88.9" cy="307.0" r="2.15" fill="#fff" stroke="#000" stroke-width="1.3"/>
<circle cx="88.1" cy="309.8" r="2.15" fill="#fff" stroke="#000" stroke-width="1.3"/>
<circle cx="88.0" cy="318.5" r="2.15" fill="#fff" stroke="#000" stroke-width="1.3"/>
<circle cx="87.7" cy="320.7" r="2.15" fill="#fff" stroke="#000" stroke-width="1.3"/>
<circle cx="84.3" cy="316.3" r="2.15" fill="#fff" stroke="#000" stroke-width="1.3"/>
<circle cx="83.6" cy="321.1" r="2.15" fill="#fff" stroke="#000" stroke-width="1.3"/>
<circle cx="86.1" cy="330.5" r="2.15" fill="#fff" stroke="#000" stroke-width="1.3"/>
<circle cx="83.6" cy="332.7" r="2.15" fill="#fff" stroke="#000" stroke-width="1.3"/>
<circle cx="86.3" cy="336.8" r="2.15" fill="#fff" stroke="#000" stroke-width="1.3"/>
<circle cx="89.0" cy="334.2" r="2.15" fill="#fff" stroke="#000" stroke-width="1.3"/>
<circle cx="88.3" cy="340.1" r="2.15" fill="#fff" stroke="#000" stroke-width="1.3"/>
<circle cx="88.7" cy="345.1" r="2.15" fill="#fff" stroke="#000" stroke-width="1.3"/>
<circle cx="88.2" cy="351.6" r="2.15" fill="#fff" stroke="#000" stroke-width="1.3"/>
<circle cx="85.2" cy="352.7" r="2.15" fill="#fff" stroke="#000" stroke-width="1.3"/>
<circle cx="85.4" cy="357.0" r="2.15" fill="#fff" stroke="#000" stroke-width="1.3"/>
<circle cx="85.2" cy="362.5" r="2.15" fill="#fff" stroke="#000" stroke-width="1.3"/>
<circle cx="88.4" cy="360.7" r="2.15" fill="#fff" stroke="#000" stroke-width="1.3"/>
<circle cx="86.6" cy="362.0" r="2.15" fill="#fff" stroke="#000" stroke-width="1.3"/>
<circle cx="86.5" cy="365.1" r="2.15" fill="#fff" stroke="#000" stroke-width="1.3"/>
<circle cx="86.1" cy="368.6" r="2.15" fill="#fff" stroke="#000" stroke-width="1.3"/>
<circle cx="85.8" cy="374.0" r="2.15" fill="#fff" stroke="#000" stroke-width="1.3"/>
<circle cx="88.1" cy="374.0" r="2.15" fill="#fff" stroke="#000" stroke-width="1.3"/>
<circle cx="88.8" cy="369.4" r="2.15" fill="#fff" stroke="#000" stroke-width="1.3"/>
<circle cx="89.3" cy="365.7" r="2.15" fill="#fff" stroke="#000" stroke-width="1.3"/>
<circle cx="90.5" cy="373.4" r="2.15" fill="#fff" stroke="#000" stroke-width="1.3"/>
<circle cx="88.2" cy="382.1" r="2.15" fill="#fff" stroke="#000" stroke-width="1.3"/>
<circle cx="85.3" cy="385.8" r="2.15" fill="#fff" stroke="#000" stroke-width="1.3"/>
<circle cx="84.9" cy="387.5" r="2.15" fill="#fff" stroke="#000" stroke-width="1.3"/>
<circle cx="85.1" cy="390.1" r="2.15" fill="#fff" stroke="#000" stroke-width="1.3"/>
<circle cx="82.9" cy="393.4" r="2.15" fill="#fff" stroke="#000" stroke-width="1.3"/>
<circle cx="80.5" cy="369.9" r="2.15" fill="#fff" stroke="#000" stroke-width="1.3"/>
<circle cx="160.7" cy="35.2" r="2.25" fill="#0000a4" stroke="#000" stroke-width="1.1"/>
<circle cx="191.4" cy="45.3" r="2.25" fill="#0000a4" stroke="#000" stroke-width="1.1"/>
<circle cx="188.0" cy="48.0" r="2.25" fill="#0000a4" stroke="#000" stroke-width="1.1"/>
<circle cx="91.6" cy="86.0" r="2.25" fill="#0000a4" stroke="#000" stroke-width="1.1"/>
<circle cx="170.4" cy="119.9" r="2.25" fill="#0000a4" stroke="#000" stroke-width="1.1"/>
<circle cx="96.4" cy="136.5" r="2.25" fill="#0000a4" stroke="#000" stroke-width="1.1"/>
<circle cx="107.1" cy="146.1" r="2.25" fill="#0000a4" stroke="#000" stroke-width="1.1"/>
<circle cx="109.7" cy="170.8" r="2.25" fill="#0000a4" stroke="#000" stroke-width="1.1"/>
<circle cx="122.8" cy="171.0" r="2.25" fill="#0000a4" stroke="#000" stroke-width="1.1"/>
<circle cx="153.9" cy="181.1" r="2.25" fill="#0000a4" stroke="#000" stroke-width="1.1"/>
<circle cx="184.8" cy="188.6" r="2.25" fill="#0000a4" stroke="#000" stroke-width="1.1"/>
<circle cx="194.4" cy="182.2" r="2.25" fill="#0000a4" stroke="#000" stroke-width="1.1"/>
<circle cx="236.9" cy="189.7" r="2.25" fill="#0000a4" stroke="#000" stroke-width="1.1"/>
<circle cx="93.1" cy="206.4" r="2.25" fill="#0000a4" stroke="#000" stroke-width="1.1"/>
<circle cx="342.5" cy="70.6" r="2.25" fill="#0000a4" stroke="#000" stroke-width="1.1"/>
<circle cx="324.9" cy="87.7" r="2.25" fill="#0000a4" stroke="#000" stroke-width="1.1"/>
<circle cx="317.8" cy="89.9" r="2.25" fill="#0000a4" stroke="#000" stroke-width="1.1"/>
<circle cx="321.7" cy="94.2" r="2.25" fill="#0000a4" stroke="#000" stroke-width="1.1"/>
<circle cx="314.2" cy="94.6" r="2.25" fill="#0000a4" stroke="#000" stroke-width="1.1"/>
<circle cx="293.8" cy="97.0" r="2.25" fill="#0000a4" stroke="#000" stroke-width="1.1"/>
<circle cx="261.2" cy="159.0" r="2.25" fill="#0000a4" stroke="#000" stroke-width="1.1"/>
<circle cx="251.3" cy="166.5" r="2.25" fill="#0000a4" stroke="#000" stroke-width="1.1"/>
<circle cx="329.6" cy="173.2" r="2.25" fill="#0000a4" stroke="#000" stroke-width="1.1"/>
<circle cx="250.2" cy="192.9" r="2.25" fill="#0000a4" stroke="#000" stroke-width="1.1"/>
<circle cx="250.9" cy="204.1" r="2.25" fill="#0000a4" stroke="#000" stroke-width="1.1"/>
<circle cx="324.3" cy="204.7" r="2.25" fill="#0000a4" stroke="#000" stroke-width="1.1"/>
<circle cx="257.3" cy="211.8" r="2.25" fill="#0000a4" stroke="#000" stroke-width="1.1"/>
<circle cx="465.0" cy="92.7" r="2.25" fill="#0000a4" stroke="#000" stroke-width="1.1"/>
<circle cx="497.2" cy="159.0" r="2.25" fill="#0000a4" stroke="#000" stroke-width="1.1"/>
<circle cx="525.1" cy="160.3" r="2.25" fill="#0000a4" stroke="#000" stroke-width="1.1"/>
<circle cx="526.0" cy="172.1" r="2.25" fill="#0000a4" stroke="#000" stroke-width="1.1"/>
<circle cx="503.7" cy="176.4" r="2.25" fill="#0000a4" stroke="#000" stroke-width="1.1"/>
<circle cx="491.7" cy="193.5" r="2.25" fill="#0000a4" stroke="#000" stroke-width="1.1"/>
<circle cx="420.8" cy="195.7" r="2.25" fill="#0000a4" stroke="#000" stroke-width="1.1"/>
<circle cx="542.7" cy="195.0" r="2.25" fill="#0000a4" stroke="#000" stroke-width="1.1"/>
<circle cx="554.5" cy="200.4" r="2.25" fill="#0000a4" stroke="#000" stroke-width="1.1"/>
<circle cx="671.1" cy="195.5" r="2.25" fill="#0000a4" stroke="#000" stroke-width="1.1"/>
<circle cx="557.3" cy="48.0" r="2.25" fill="#0000a4" stroke="#000" stroke-width="1.1"/>
<circle cx="563.1" cy="148.3" r="2.25" fill="#0000a4" stroke="#000" stroke-width="1.1"/>
<circle cx="613.1" cy="152.5" r="2.25" fill="#0000a4" stroke="#000" stroke-width="1.1"/>
<circle cx="626.4" cy="145.3" r="2.25" fill="#0000a4" stroke="#000" stroke-width="1.1"/>
<circle cx="643.6" cy="147.8" r="2.25" fill="#0000a4" stroke="#000" stroke-width="1.1"/>
<circle cx="574.9" cy="189.7" r="2.25" fill="#0000a4" stroke="#000" stroke-width="1.1"/>
<circle cx="585.6" cy="196.1" r="2.25" fill="#0000a4" stroke="#000" stroke-width="1.1"/>
<circle cx="599.2" cy="197.2" r="2.25" fill="#0000a4" stroke="#000" stroke-width="1.1"/>
<circle cx="565.9" cy="204.3" r="2.25" fill="#0000a4" stroke="#000" stroke-width="1.1"/>
<circle cx="618.9" cy="206.8" r="2.25" fill="#0000a4" stroke="#000" stroke-width="1.1"/>
<circle cx="132.8" cy="218.0" r="2.25" fill="#0000a4" stroke="#000" stroke-width="1.1"/>
<circle cx="114.6" cy="228.1" r="2.25" fill="#0000a4" stroke="#000" stroke-width="1.1"/>
<circle cx="95.3" cy="231.3" r="2.25" fill="#0000a4" stroke="#000" stroke-width="1.1"/>
<circle cx="118.9" cy="233.5" r="2.25" fill="#0000a4" stroke="#000" stroke-width="1.1"/>
<circle cx="192.3" cy="225.9" r="2.25" fill="#0000a4" stroke="#000" stroke-width="1.1"/>
<circle cx="192.9" cy="229.2" r="2.25" fill="#0000a4" stroke="#000" stroke-width="1.1"/>
<circle cx="236.3" cy="226.6" r="2.25" fill="#0000a4" stroke="#000" stroke-width="1.1"/>
<circle cx="231.6" cy="234.1" r="2.25" fill="#0000a4" stroke="#000" stroke-width="1.1"/>
<circle cx="96.4" cy="235.2" r="2.25" fill="#0000a4" stroke="#000" stroke-width="1.1"/>
<circle cx="176.8" cy="237.3" r="2.25" fill="#0000a4" stroke="#000" stroke-width="1.1"/>
<circle cx="198.3" cy="239.9" r="2.25" fill="#0000a4" stroke="#000" stroke-width="1.1"/>
<circle cx="204.7" cy="238.2" r="2.25" fill="#0000a4" stroke="#000" stroke-width="1.1"/>
<circle cx="110.3" cy="247.4" r="2.25" fill="#0000a4" stroke="#000" stroke-width="1.1"/>
<circle cx="123.2" cy="250.2" r="2.25" fill="#0000a4" stroke="#000" stroke-width="1.1"/>
<circle cx="113.5" cy="252.8" r="2.25" fill="#0000a4" stroke="#000" stroke-width="1.1"/>
<circle cx="98.9" cy="253.8" r="2.25" fill="#0000a4" stroke="#000" stroke-width="1.1"/>
<circle cx="132.8" cy="252.8" r="2.25" fill="#0000a4" stroke="#000" stroke-width="1.1"/>
<circle cx="136.7" cy="251.7" r="2.25" fill="#0000a4" stroke="#000" stroke-width="1.1"/>
<circle cx="159.2" cy="250.2" r="2.25" fill="#0000a4" stroke="#000" stroke-width="1.1"/>
<circle cx="162.9" cy="250.2" r="2.25" fill="#0000a4" stroke="#000" stroke-width="1.1"/>
<circle cx="238.0" cy="244.2" r="2.25" fill="#0000a4" stroke="#000" stroke-width="1.1"/>
<circle cx="112.5" cy="258.1" r="2.25" fill="#0000a4" stroke="#000" stroke-width="1.1"/>
<circle cx="123.2" cy="261.8" r="2.25" fill="#0000a4" stroke="#000" stroke-width="1.1"/>
<circle cx="151.7" cy="258.8" r="2.25" fill="#0000a4" stroke="#000" stroke-width="1.1"/>
<circle cx="156.5" cy="257.1" r="2.25" fill="#0000a4" stroke="#000" stroke-width="1.1"/>
<circle cx="158.6" cy="259.6" r="2.25" fill="#0000a4" stroke="#000" stroke-width="1.1"/>
<circle cx="93.1" cy="265.6" r="2.25" fill="#0000a4" stroke="#000" stroke-width="1.1"/>
<circle cx="104.9" cy="267.8" r="2.25" fill="#0000a4" stroke="#000" stroke-width="1.1"/>
<circle cx="106.0" cy="272.1" r="2.25" fill="#0000a4" stroke="#000" stroke-width="1.1"/>
<circle cx="182.2" cy="266.7" r="2.25" fill="#0000a4" stroke="#000" stroke-width="1.1"/>
<circle cx="184.8" cy="272.1" r="2.25" fill="#0000a4" stroke="#000" stroke-width="1.1"/>
<circle cx="94.9" cy="275.3" r="2.25" fill="#0000a4" stroke="#000" stroke-width="1.1"/>
<circle cx="169.3" cy="274.2" r="2.25" fill="#0000a4" stroke="#000" stroke-width="1.1"/>
<circle cx="123.8" cy="280.7" r="2.25" fill="#0000a4" stroke="#000" stroke-width="1.1"/>
<circle cx="109.2" cy="281.7" r="2.25" fill="#0000a4" stroke="#000" stroke-width="1.1"/>
<circle cx="115.7" cy="281.1" r="2.25" fill="#0000a4" stroke="#000" stroke-width="1.1"/>
<circle cx="148.9" cy="282.2" r="2.25" fill="#0000a4" stroke="#000" stroke-width="1.1"/>
<circle cx="151.7" cy="283.9" r="2.25" fill="#0000a4" stroke="#000" stroke-width="1.1"/>
<circle cx="196.2" cy="282.4" r="2.25" fill="#0000a4" stroke="#000" stroke-width="1.1"/>
<circle cx="209.0" cy="278.1" r="2.25" fill="#0000a4" stroke="#000" stroke-width="1.1"/>
<circle cx="229.4" cy="282.8" r="2.25" fill="#0000a4" stroke="#000" stroke-width="1.1"/>
<circle cx="99.6" cy="287.1" r="2.25" fill="#0000a4" stroke="#000" stroke-width="1.1"/>
<circle cx="169.3" cy="288.8" r="2.25" fill="#0000a4" stroke="#000" stroke-width="1.1"/>
<circle cx="160.3" cy="291.4" r="2.25" fill="#0000a4" stroke="#000" stroke-width="1.1"/>
<circle cx="137.1" cy="294.2" r="2.25" fill="#0000a4" stroke="#000" stroke-width="1.1"/>
<circle cx="150.7" cy="295.3" r="2.25" fill="#0000a4" stroke="#000" stroke-width="1.1"/>
<circle cx="183.3" cy="293.5" r="2.25" fill="#0000a4" stroke="#000" stroke-width="1.1"/>
<circle cx="191.9" cy="296.3" r="2.25" fill="#0000a4" stroke="#000" stroke-width="1.1"/>
<circle cx="106.0" cy="294.6" r="2.25" fill="#0000a4" stroke="#000" stroke-width="1.1"/>
<circle cx="96.4" cy="300.4" r="2.25" fill="#0000a4" stroke="#000" stroke-width="1.1"/>
<circle cx="102.8" cy="297.8" r="2.25" fill="#0000a4" stroke="#000" stroke-width="1.1"/>
<circle cx="165.0" cy="298.9" r="2.25" fill="#0000a4" stroke="#000" stroke-width="1.1"/>
<circle cx="166.1" cy="305.3" r="2.25" fill="#0000a4" stroke="#000" stroke-width="1.1"/>
<circle cx="183.3" cy="309.6" r="2.25" fill="#0000a4" stroke="#000" stroke-width="1.1"/>
<circle cx="189.7" cy="308.6" r="2.25" fill="#0000a4" stroke="#000" stroke-width="1.1"/>
<circle cx="223.0" cy="304.7" r="2.25" fill="#0000a4" stroke="#000" stroke-width="1.1"/>
<circle cx="232.6" cy="308.6" r="2.25" fill="#0000a4" stroke="#000" stroke-width="1.1"/>
<circle cx="112.5" cy="311.8" r="2.25" fill="#0000a4" stroke="#000" stroke-width="1.1"/>
<circle cx="107.5" cy="315.0" r="2.25" fill="#0000a4" stroke="#000" stroke-width="1.1"/>
<circle cx="140.4" cy="317.2" r="2.25" fill="#0000a4" stroke="#000" stroke-width="1.1"/>
<circle cx="153.2" cy="316.1" r="2.25" fill="#0000a4" stroke="#000" stroke-width="1.1"/>
<circle cx="213.3" cy="309.6" r="2.25" fill="#0000a4" stroke="#000" stroke-width="1.1"/>
<circle cx="111.4" cy="319.3" r="2.25" fill="#0000a4" stroke="#000" stroke-width="1.1"/>
<circle cx="104.9" cy="322.5" r="2.25" fill="#0000a4" stroke="#000" stroke-width="1.1"/>
<circle cx="139.3" cy="322.5" r="2.25" fill="#0000a4" stroke="#000" stroke-width="1.1"/>
<circle cx="169.3" cy="319.3" r="2.25" fill="#0000a4" stroke="#000" stroke-width="1.1"/>
<circle cx="175.8" cy="322.5" r="2.25" fill="#0000a4" stroke="#000" stroke-width="1.1"/>
<circle cx="183.3" cy="322.5" r="2.25" fill="#0000a4" stroke="#000" stroke-width="1.1"/>
<circle cx="183.3" cy="325.7" r="2.25" fill="#0000a4" stroke="#000" stroke-width="1.1"/>
<circle cx="208.0" cy="327.9" r="2.25" fill="#0000a4" stroke="#000" stroke-width="1.1"/>
<circle cx="101.7" cy="329.0" r="2.25" fill="#0000a4" stroke="#000" stroke-width="1.1"/>
<circle cx="109.2" cy="327.9" r="2.25" fill="#0000a4" stroke="#000" stroke-width="1.1"/>
<circle cx="112.5" cy="325.7" r="2.25" fill="#0000a4" stroke="#000" stroke-width="1.1"/>
<circle cx="185.4" cy="330.0" r="2.25" fill="#0000a4" stroke="#000" stroke-width="1.1"/>
<circle cx="189.7" cy="330.0" r="2.25" fill="#0000a4" stroke="#000" stroke-width="1.1"/>
<circle cx="173.6" cy="331.1" r="2.25" fill="#0000a4" stroke="#000" stroke-width="1.1"/>
<circle cx="152.6" cy="334.3" r="2.25" fill="#0000a4" stroke="#000" stroke-width="1.1"/>
<circle cx="158.6" cy="336.5" r="2.25" fill="#0000a4" stroke="#000" stroke-width="1.1"/>
<circle cx="165.0" cy="337.5" r="2.25" fill="#0000a4" stroke="#000" stroke-width="1.1"/>
<circle cx="98.5" cy="335.4" r="2.25" fill="#0000a4" stroke="#000" stroke-width="1.1"/>
<circle cx="103.9" cy="338.6" r="2.25" fill="#0000a4" stroke="#000" stroke-width="1.1"/>
<circle cx="203.7" cy="336.5" r="2.25" fill="#0000a4" stroke="#000" stroke-width="1.1"/>
<circle cx="214.4" cy="338.6" r="2.25" fill="#0000a4" stroke="#000" stroke-width="1.1"/>
<circle cx="191.9" cy="338.6" r="2.25" fill="#0000a4" stroke="#000" stroke-width="1.1"/>
<circle cx="175.8" cy="340.8" r="2.25" fill="#0000a4" stroke="#000" stroke-width="1.1"/>
<circle cx="172.1" cy="335.4" r="2.25" fill="#0000a4" stroke="#000" stroke-width="1.1"/>
<circle cx="118.9" cy="340.8" r="2.25" fill="#0000a4" stroke="#000" stroke-width="1.1"/>
<circle cx="94.2" cy="340.8" r="2.25" fill="#0000a4" stroke="#000" stroke-width="1.1"/>
<circle cx="99.6" cy="342.9" r="2.25" fill="#0000a4" stroke="#000" stroke-width="1.1"/>
<circle cx="114.6" cy="346.1" r="2.25" fill="#0000a4" stroke="#000" stroke-width="1.1"/>
<circle cx="120.0" cy="347.2" r="2.25" fill="#0000a4" stroke="#000" stroke-width="1.1"/>
<circle cx="147.9" cy="346.1" r="2.25" fill="#0000a4" stroke="#000" stroke-width="1.1"/>
<circle cx="151.1" cy="349.3" r="2.25" fill="#0000a4" stroke="#000" stroke-width="1.1"/>
<circle cx="159.7" cy="344.0" r="2.25" fill="#0000a4" stroke="#000" stroke-width="1.1"/>
<circle cx="165.0" cy="349.3" r="2.25" fill="#0000a4" stroke="#000" stroke-width="1.1"/>
<circle cx="176.8" cy="346.1" r="2.25" fill="#0000a4" stroke="#000" stroke-width="1.1"/>
<circle cx="185.4" cy="348.3" r="2.25" fill="#0000a4" stroke="#000" stroke-width="1.1"/>
<circle cx="201.5" cy="352.6" r="2.25" fill="#0000a4" stroke="#000" stroke-width="1.1"/>
<circle cx="204.7" cy="349.3" r="2.25" fill="#0000a4" stroke="#000" stroke-width="1.1"/>
<circle cx="97.4" cy="351.5" r="2.25" fill="#0000a4" stroke="#000" stroke-width="1.1"/>
<circle cx="102.8" cy="353.6" r="2.25" fill="#0000a4" stroke="#000" stroke-width="1.1"/>
<circle cx="107.1" cy="357.9" r="2.25" fill="#0000a4" stroke="#000" stroke-width="1.1"/>
<circle cx="112.5" cy="354.7" r="2.25" fill="#0000a4" stroke="#000" stroke-width="1.1"/>
<circle cx="118.9" cy="356.8" r="2.25" fill="#0000a4" stroke="#000" stroke-width="1.1"/>
<circle cx="124.3" cy="357.9" r="2.25" fill="#0000a4" stroke="#000" stroke-width="1.1"/>
<circle cx="129.6" cy="360.1" r="2.25" fill="#0000a4" stroke="#000" stroke-width="1.1"/>
<circle cx="136.1" cy="357.9" r="2.25" fill="#0000a4" stroke="#000" stroke-width="1.1"/>
<circle cx="147.9" cy="359.0" r="2.25" fill="#0000a4" stroke="#000" stroke-width="1.1"/>
<circle cx="155.4" cy="357.9" r="2.25" fill="#0000a4" stroke="#000" stroke-width="1.1"/>
<circle cx="168.3" cy="355.8" r="2.25" fill="#0000a4" stroke="#000" stroke-width="1.1"/>
<circle cx="179.0" cy="357.9" r="2.25" fill="#0000a4" stroke="#000" stroke-width="1.1"/>
<circle cx="185.4" cy="360.1" r="2.25" fill="#0000a4" stroke="#000" stroke-width="1.1"/>
<circle cx="190.8" cy="359.0" r="2.25" fill="#0000a4" stroke="#000" stroke-width="1.1"/>
<circle cx="196.2" cy="355.8" r="2.25" fill="#0000a4" stroke="#000" stroke-width="1.1"/>
<circle cx="228.3" cy="342.9" r="2.25" fill="#0000a4" stroke="#000" stroke-width="1.1"/>
<circle cx="235.8" cy="352.6" r="2.25" fill="#0000a4" stroke="#000" stroke-width="1.1"/>
<circle cx="238.0" cy="360.1" r="2.25" fill="#0000a4" stroke="#000" stroke-width="1.1"/>
<circle cx="99.6" cy="362.2" r="2.25" fill="#0000a4" stroke="#000" stroke-width="1.1"/>
<circle cx="104.9" cy="366.5" r="2.25" fill="#0000a4" stroke="#000" stroke-width="1.1"/>
<circle cx="112.5" cy="365.4" r="2.25" fill="#0000a4" stroke="#000" stroke-width="1.1"/>
<circle cx="118.9" cy="364.4" r="2.25" fill="#0000a4" stroke="#000" stroke-width="1.1"/>
<circle cx="125.3" cy="367.6" r="2.25" fill="#0000a4" stroke="#000" stroke-width="1.1"/>
<circle cx="130.7" cy="368.7" r="2.25" fill="#0000a4" stroke="#000" stroke-width="1.1"/>
<circle cx="139.3" cy="365.4" r="2.25" fill="#0000a4" stroke="#000" stroke-width="1.1"/>
<circle cx="145.7" cy="364.4" r="2.25" fill="#0000a4" stroke="#000" stroke-width="1.1"/>
<circle cx="151.1" cy="369.7" r="2.25" fill="#0000a4" stroke="#000" stroke-width="1.1"/>
<circle cx="157.5" cy="364.4" r="2.25" fill="#0000a4" stroke="#000" stroke-width="1.1"/>
<circle cx="161.8" cy="369.7" r="2.25" fill="#0000a4" stroke="#000" stroke-width="1.1"/>
<circle cx="181.1" cy="364.4" r="2.25" fill="#0000a4" stroke="#000" stroke-width="1.1"/>
<circle cx="185.4" cy="366.5" r="2.25" fill="#0000a4" stroke="#000" stroke-width="1.1"/>
<circle cx="191.9" cy="366.5" r="2.25" fill="#0000a4" stroke="#000" stroke-width="1.1"/>
<circle cx="200.4" cy="364.4" r="2.25" fill="#0000a4" stroke="#000" stroke-width="1.1"/>
<circle cx="203.7" cy="369.7" r="2.25" fill="#0000a4" stroke="#000" stroke-width="1.1"/>
<circle cx="208.0" cy="368.7" r="2.25" fill="#0000a4" stroke="#000" stroke-width="1.1"/>
<circle cx="224.0" cy="364.4" r="2.25" fill="#0000a4" stroke="#000" stroke-width="1.1"/>
<circle cx="229.4" cy="365.4" r="2.25" fill="#0000a4" stroke="#000" stroke-width="1.1"/>
<circle cx="96.4" cy="371.9" r="2.25" fill="#0000a4" stroke="#000" stroke-width="1.1"/>
<circle cx="101.7" cy="375.1" r="2.25" fill="#0000a4" stroke="#000" stroke-width="1.1"/>
<circle cx="111.4" cy="376.2" r="2.25" fill="#0000a4" stroke="#000" stroke-width="1.1"/>
<circle cx="117.8" cy="371.9" r="2.25" fill="#0000a4" stroke="#000" stroke-width="1.1"/>
<circle cx="141.4" cy="375.1" r="2.25" fill="#0000a4" stroke="#000" stroke-width="1.1"/>
<circle cx="147.9" cy="381.5" r="2.25" fill="#0000a4" stroke="#000" stroke-width="1.1"/>
<circle cx="155.4" cy="382.6" r="2.25" fill="#0000a4" stroke="#000" stroke-width="1.1"/>
<circle cx="185.4" cy="375.1" r="2.25" fill="#0000a4" stroke="#000" stroke-width="1.1"/>
<circle cx="189.7" cy="381.5" r="2.25" fill="#0000a4" stroke="#000" stroke-width="1.1"/>
<circle cx="196.2" cy="377.2" r="2.25" fill="#0000a4" stroke="#000" stroke-width="1.1"/>
<circle cx="204.7" cy="375.1" r="2.25" fill="#0000a4" stroke="#000" stroke-width="1.1"/>
<circle cx="94.2" cy="381.5" r="2.25" fill="#0000a4" stroke="#000" stroke-width="1.1"/>
<circle cx="106.0" cy="381.5" r="2.25" fill="#0000a4" stroke="#000" stroke-width="1.1"/>
<circle cx="114.6" cy="379.4" r="2.25" fill="#0000a4" stroke="#000" stroke-width="1.1"/>
<circle cx="95.3" cy="386.9" r="2.25" fill="#0000a4" stroke="#000" stroke-width="1.1"/>
<circle cx="100.7" cy="390.1" r="2.25" fill="#0000a4" stroke="#000" stroke-width="1.1"/>
<circle cx="107.1" cy="388.0" r="2.25" fill="#0000a4" stroke="#000" stroke-width="1.1"/>
<circle cx="112.5" cy="394.4" r="2.25" fill="#0000a4" stroke="#000" stroke-width="1.1"/>
<circle cx="118.9" cy="390.1" r="2.25" fill="#0000a4" stroke="#000" stroke-width="1.1"/>
<circle cx="123.2" cy="395.5" r="2.25" fill="#0000a4" stroke="#000" stroke-width="1.1"/>
<circle cx="141.4" cy="385.8" r="2.25" fill="#0000a4" stroke="#000" stroke-width="1.1"/>
<circle cx="146.8" cy="388.0" r="2.25" fill="#0000a4" stroke="#000" stroke-width="1.1"/>
<circle cx="152.2" cy="391.2" r="2.25" fill="#0000a4" stroke="#000" stroke-width="1.1"/>
<circle cx="159.7" cy="385.8" r="2.25" fill="#0000a4" stroke="#000" stroke-width="1.1"/>
<circle cx="165.0" cy="388.0" r="2.25" fill="#0000a4" stroke="#000" stroke-width="1.1"/>
<circle cx="153.2" cy="396.5" r="2.25" fill="#0000a4" stroke="#000" stroke-width="1.1"/>
<circle cx="159.7" cy="397.6" r="2.25" fill="#0000a4" stroke="#000" stroke-width="1.1"/>
<circle cx="167.2" cy="398.7" r="2.25" fill="#0000a4" stroke="#000" stroke-width="1.1"/>
<circle cx="179.0" cy="386.9" r="2.25" fill="#0000a4" stroke="#000" stroke-width="1.1"/>
<circle cx="185.4" cy="385.8" r="2.25" fill="#0000a4" stroke="#000" stroke-width="1.1"/>
<circle cx="196.2" cy="388.0" r="2.25" fill="#0000a4" stroke="#000" stroke-width="1.1"/>
<circle cx="205.8" cy="385.8" r="2.25" fill="#0000a4" stroke="#000" stroke-width="1.1"/>
<circle cx="179.0" cy="393.3" r="2.25" fill="#0000a4" stroke="#000" stroke-width="1.1"/>
<circle cx="187.6" cy="394.4" r="2.25" fill="#0000a4" stroke="#000" stroke-width="1.1"/>
<circle cx="204.7" cy="393.3" r="2.25" fill="#0000a4" stroke="#000" stroke-width="1.1"/>
<circle cx="110.3" cy="398.7" r="2.25" fill="#0000a4" stroke="#000" stroke-width="1.1"/>
<circle cx="118.9" cy="398.7" r="2.25" fill="#0000a4" stroke="#000" stroke-width="1.1"/>
<circle cx="132.8" cy="399.8" r="2.25" fill="#0000a4" stroke="#000" stroke-width="1.1"/>
<circle cx="126.4" cy="398.7" r="2.25" fill="#0000a4" stroke="#000" stroke-width="1.1"/>
<circle cx="188.6" cy="398.7" r="2.25" fill="#0000a4" stroke="#000" stroke-width="1.1"/>
<circle cx="238.0" cy="395.5" r="2.25" fill="#0000a4" stroke="#000" stroke-width="1.1"/>
<circle cx="211.2" cy="398.7" r="2.25" fill="#0000a4" stroke="#000" stroke-width="1.1"/>
<circle cx="276.2" cy="229.2" r="2.25" fill="#0000a4" stroke="#000" stroke-width="1.1"/>
<circle cx="253.5" cy="241.6" r="2.25" fill="#0000a4" stroke="#000" stroke-width="1.1"/>
<circle cx="256.9" cy="252.1" r="2.25" fill="#0000a4" stroke="#000" stroke-width="1.1"/>
<circle cx="265.5" cy="251.1" r="2.25" fill="#0000a4" stroke="#000" stroke-width="1.1"/>
<circle cx="269.8" cy="251.7" r="2.25" fill="#0000a4" stroke="#000" stroke-width="1.1"/>
<circle cx="332.4" cy="248.9" r="2.25" fill="#0000a4" stroke="#000" stroke-width="1.1"/>
<circle cx="298.7" cy="254.9" r="2.25" fill="#0000a4" stroke="#000" stroke-width="1.1"/>
<circle cx="273.4" cy="262.9" r="2.25" fill="#0000a4" stroke="#000" stroke-width="1.1"/>
<circle cx="300.7" cy="265.6" r="2.25" fill="#0000a4" stroke="#000" stroke-width="1.1"/>
<circle cx="245.9" cy="274.7" r="2.25" fill="#0000a4" stroke="#000" stroke-width="1.1"/>
<circle cx="385.0" cy="274.2" r="2.25" fill="#0000a4" stroke="#000" stroke-width="1.1"/>
<circle cx="244.0" cy="285.0" r="2.25" fill="#0000a4" stroke="#000" stroke-width="1.1"/>
<circle cx="250.9" cy="284.3" r="2.25" fill="#0000a4" stroke="#000" stroke-width="1.1"/>
<circle cx="259.5" cy="282.4" r="2.25" fill="#0000a4" stroke="#000" stroke-width="1.1"/>
<circle cx="283.5" cy="281.7" r="2.25" fill="#0000a4" stroke="#000" stroke-width="1.1"/>
<circle cx="285.2" cy="285.4" r="2.25" fill="#0000a4" stroke="#000" stroke-width="1.1"/>
<circle cx="317.0" cy="293.1" r="2.25" fill="#0000a4" stroke="#000" stroke-width="1.1"/>
<circle cx="385.0" cy="244.6" r="2.25" fill="#0000a4" stroke="#000" stroke-width="1.1"/>
<circle cx="247.0" cy="310.1" r="2.25" fill="#0000a4" stroke="#000" stroke-width="1.1"/>
<circle cx="254.1" cy="310.1" r="2.25" fill="#0000a4" stroke="#000" stroke-width="1.1"/>
<circle cx="277.7" cy="309.0" r="2.25" fill="#0000a4" stroke="#000" stroke-width="1.1"/>
<circle cx="315.7" cy="306.4" r="2.25" fill="#0000a4" stroke="#000" stroke-width="1.1"/>
<circle cx="354.3" cy="310.1" r="2.25" fill="#0000a4" stroke="#000" stroke-width="1.1"/>
<circle cx="379.0" cy="302.8" r="2.25" fill="#0000a4" stroke="#000" stroke-width="1.1"/>
<circle cx="280.5" cy="316.5" r="2.25" fill="#0000a4" stroke="#000" stroke-width="1.1"/>
<circle cx="327.1" cy="312.2" r="2.25" fill="#0000a4" stroke="#000" stroke-width="1.1"/>
<circle cx="258.4" cy="321.4" r="2.25" fill="#0000a4" stroke="#000" stroke-width="1.1"/>
<circle cx="287.8" cy="322.1" r="2.25" fill="#0000a4" stroke="#000" stroke-width="1.1"/>
<circle cx="251.3" cy="325.7" r="2.25" fill="#0000a4" stroke="#000" stroke-width="1.1"/>
<circle cx="306.0" cy="325.1" r="2.25" fill="#0000a4" stroke="#000" stroke-width="1.1"/>
<circle cx="278.8" cy="327.9" r="2.25" fill="#0000a4" stroke="#000" stroke-width="1.1"/>
<circle cx="285.6" cy="329.0" r="2.25" fill="#0000a4" stroke="#000" stroke-width="1.1"/>
<circle cx="324.9" cy="326.8" r="2.25" fill="#0000a4" stroke="#000" stroke-width="1.1"/>
<circle cx="322.8" cy="331.5" r="2.25" fill="#0000a4" stroke="#000" stroke-width="1.1"/>
<circle cx="352.4" cy="329.6" r="2.25" fill="#0000a4" stroke="#000" stroke-width="1.1"/>
<circle cx="383.9" cy="323.2" r="2.25" fill="#0000a4" stroke="#000" stroke-width="1.1"/>
<circle cx="261.6" cy="333.2" r="2.25" fill="#0000a4" stroke="#000" stroke-width="1.1"/>
<circle cx="269.1" cy="333.2" r="2.25" fill="#0000a4" stroke="#000" stroke-width="1.1"/>
<circle cx="265.9" cy="335.4" r="2.25" fill="#0000a4" stroke="#000" stroke-width="1.1"/>
<circle cx="290.1" cy="333.7" r="2.25" fill="#0000a4" stroke="#000" stroke-width="1.1"/>
<circle cx="302.4" cy="335.4" r="2.25" fill="#0000a4" stroke="#000" stroke-width="1.1"/>
<circle cx="325.3" cy="337.1" r="2.25" fill="#0000a4" stroke="#000" stroke-width="1.1"/>
<circle cx="366.1" cy="337.1" r="2.25" fill="#0000a4" stroke="#000" stroke-width="1.1"/>
<circle cx="301.9" cy="340.8" r="2.25" fill="#0000a4" stroke="#000" stroke-width="1.1"/>
<circle cx="326.0" cy="341.8" r="2.25" fill="#0000a4" stroke="#000" stroke-width="1.1"/>
<circle cx="261.6" cy="346.1" r="2.25" fill="#0000a4" stroke="#000" stroke-width="1.1"/>
<circle cx="266.5" cy="347.2" r="2.25" fill="#0000a4" stroke="#000" stroke-width="1.1"/>
<circle cx="310.3" cy="348.3" r="2.25" fill="#0000a4" stroke="#000" stroke-width="1.1"/>
<circle cx="305.2" cy="352.6" r="2.25" fill="#0000a4" stroke="#000" stroke-width="1.1"/>
<circle cx="322.3" cy="351.5" r="2.25" fill="#0000a4" stroke="#000" stroke-width="1.1"/>
<circle cx="319.1" cy="355.8" r="2.25" fill="#0000a4" stroke="#000" stroke-width="1.1"/>
<circle cx="324.5" cy="355.8" r="2.25" fill="#0000a4" stroke="#000" stroke-width="1.1"/>
<circle cx="239.1" cy="353.6" r="2.25" fill="#0000a4" stroke="#000" stroke-width="1.1"/>
<circle cx="250.2" cy="358.6" r="2.25" fill="#0000a4" stroke="#000" stroke-width="1.1"/>
<circle cx="259.5" cy="353.6" r="2.25" fill="#0000a4" stroke="#000" stroke-width="1.1"/>
<circle cx="269.1" cy="357.9" r="2.25" fill="#0000a4" stroke="#000" stroke-width="1.1"/>
<circle cx="282.4" cy="362.2" r="2.25" fill="#0000a4" stroke="#000" stroke-width="1.1"/>
<circle cx="240.1" cy="364.4" r="2.25" fill="#0000a4" stroke="#000" stroke-width="1.1"/>
<circle cx="254.7" cy="364.4" r="2.25" fill="#0000a4" stroke="#000" stroke-width="1.1"/>
<circle cx="250.2" cy="366.5" r="2.25" fill="#0000a4" stroke="#000" stroke-width="1.1"/>
<circle cx="265.9" cy="364.4" r="2.25" fill="#0000a4" stroke="#000" stroke-width="1.1"/>
<circle cx="260.5" cy="368.7" r="2.25" fill="#0000a4" stroke="#000" stroke-width="1.1"/>
<circle cx="264.4" cy="370.8" r="2.25" fill="#0000a4" stroke="#000" stroke-width="1.1"/>
<circle cx="303.0" cy="365.4" r="2.25" fill="#0000a4" stroke="#000" stroke-width="1.1"/>
<circle cx="307.7" cy="363.3" r="2.25" fill="#0000a4" stroke="#000" stroke-width="1.1"/>
<circle cx="282.4" cy="370.2" r="2.25" fill="#0000a4" stroke="#000" stroke-width="1.1"/>
<circle cx="245.5" cy="371.9" r="2.25" fill="#0000a4" stroke="#000" stroke-width="1.1"/>
<circle cx="374.3" cy="357.3" r="2.25" fill="#0000a4" stroke="#000" stroke-width="1.1"/>
<circle cx="370.4" cy="368.0" r="2.25" fill="#0000a4" stroke="#000" stroke-width="1.1"/>
<circle cx="250.9" cy="379.0" r="2.25" fill="#0000a4" stroke="#000" stroke-width="1.1"/>
<circle cx="251.9" cy="382.6" r="2.25" fill="#0000a4" stroke="#000" stroke-width="1.1"/>
<circle cx="274.5" cy="382.2" r="2.25" fill="#0000a4" stroke="#000" stroke-width="1.1"/>
<circle cx="324.9" cy="377.2" r="2.25" fill="#0000a4" stroke="#000" stroke-width="1.1"/>
<circle cx="352.4" cy="377.2" r="2.25" fill="#0000a4" stroke="#000" stroke-width="1.1"/>
<circle cx="341.6" cy="388.0" r="2.25" fill="#0000a4" stroke="#000" stroke-width="1.1"/>
<circle cx="361.0" cy="387.5" r="2.25" fill="#0000a4" stroke="#000" stroke-width="1.1"/>
<circle cx="324.9" cy="392.9" r="2.25" fill="#0000a4" stroke="#000" stroke-width="1.1"/>
<circle cx="243.8" cy="394.4" r="2.25" fill="#0000a4" stroke="#000" stroke-width="1.1"/>
<circle cx="260.1" cy="396.1" r="2.25" fill="#0000a4" stroke="#000" stroke-width="1.1"/>
<circle cx="277.7" cy="395.9" r="2.25" fill="#0000a4" stroke="#000" stroke-width="1.1"/>
<circle cx="248.7" cy="398.7" r="2.25" fill="#0000a4" stroke="#000" stroke-width="1.1"/>
<circle cx="250.9" cy="401.3" r="2.25" fill="#0000a4" stroke="#000" stroke-width="1.1"/>
<circle cx="306.0" cy="399.3" r="2.25" fill="#0000a4" stroke="#000" stroke-width="1.1"/>
<circle cx="358.8" cy="400.8" r="2.25" fill="#0000a4" stroke="#000" stroke-width="1.1"/>
<circle cx="254.1" cy="390.1" r="2.25" fill="#0000a4" stroke="#000" stroke-width="1.1"/>
<circle cx="425.3" cy="226.6" r="2.25" fill="#0000a4" stroke="#000" stroke-width="1.1"/>
<circle cx="524.9" cy="226.4" r="2.25" fill="#0000a4" stroke="#000" stroke-width="1.1"/>
<circle cx="423.6" cy="258.6" r="2.25" fill="#0000a4" stroke="#000" stroke-width="1.1"/>
<circle cx="439.7" cy="270.6" r="2.25" fill="#0000a4" stroke="#000" stroke-width="1.1"/>
<circle cx="410.8" cy="313.3" r="2.25" fill="#0000a4" stroke="#000" stroke-width="1.1"/>
<circle cx="450.0" cy="307.9" r="2.25" fill="#0000a4" stroke="#000" stroke-width="1.1"/>
<circle cx="481.1" cy="303.6" r="2.25" fill="#0000a4" stroke="#000" stroke-width="1.1"/>
<circle cx="478.8" cy="314.6" r="2.25" fill="#0000a4" stroke="#000" stroke-width="1.1"/>
<circle cx="496.6" cy="288.2" r="2.25" fill="#0000a4" stroke="#000" stroke-width="1.1"/>
<circle cx="495.9" cy="300.4" r="2.25" fill="#0000a4" stroke="#000" stroke-width="1.1"/>
<circle cx="497.0" cy="310.1" r="2.25" fill="#0000a4" stroke="#000" stroke-width="1.1"/>
<circle cx="505.6" cy="312.9" r="2.25" fill="#0000a4" stroke="#000" stroke-width="1.1"/>
<circle cx="514.8" cy="298.9" r="2.25" fill="#0000a4" stroke="#000" stroke-width="1.1"/>
<circle cx="490.2" cy="310.1" r="2.25" fill="#0000a4" stroke="#000" stroke-width="1.1"/>
<circle cx="529.2" cy="290.3" r="2.25" fill="#0000a4" stroke="#000" stroke-width="1.1"/>
<circle cx="517.4" cy="319.3" r="2.25" fill="#0000a4" stroke="#000" stroke-width="1.1"/>
<circle cx="522.3" cy="321.4" r="2.25" fill="#0000a4" stroke="#000" stroke-width="1.1"/>
<circle cx="514.8" cy="324.2" r="2.25" fill="#0000a4" stroke="#000" stroke-width="1.1"/>
<circle cx="519.5" cy="328.5" r="2.25" fill="#0000a4" stroke="#000" stroke-width="1.1"/>
<circle cx="418.7" cy="333.2" r="2.25" fill="#0000a4" stroke="#000" stroke-width="1.1"/>
<circle cx="402.6" cy="338.6" r="2.25" fill="#0000a4" stroke="#000" stroke-width="1.1"/>
<circle cx="450.5" cy="333.7" r="2.25" fill="#0000a4" stroke="#000" stroke-width="1.1"/>
<circle cx="445.7" cy="338.6" r="2.25" fill="#0000a4" stroke="#000" stroke-width="1.1"/>
<circle cx="440.4" cy="342.3" r="2.25" fill="#0000a4" stroke="#000" stroke-width="1.1"/>
<circle cx="445.5" cy="348.3" r="2.25" fill="#0000a4" stroke="#000" stroke-width="1.1"/>
<circle cx="478.8" cy="330.0" r="2.25" fill="#0000a4" stroke="#000" stroke-width="1.1"/>
<circle cx="470.2" cy="341.2" r="2.25" fill="#0000a4" stroke="#000" stroke-width="1.1"/>
<circle cx="484.4" cy="337.1" r="2.25" fill="#0000a4" stroke="#000" stroke-width="1.1"/>
<circle cx="468.0" cy="353.0" r="2.25" fill="#0000a4" stroke="#000" stroke-width="1.1"/>
<circle cx="515.9" cy="338.2" r="2.25" fill="#0000a4" stroke="#000" stroke-width="1.1"/>
<circle cx="527.7" cy="330.7" r="2.25" fill="#0000a4" stroke="#000" stroke-width="1.1"/>
<circle cx="507.3" cy="353.0" r="2.25" fill="#0000a4" stroke="#000" stroke-width="1.1"/>
<circle cx="492.7" cy="355.3" r="2.25" fill="#0000a4" stroke="#000" stroke-width="1.1"/>
<circle cx="481.6" cy="359.0" r="2.25" fill="#0000a4" stroke="#000" stroke-width="1.1"/>
<circle cx="412.5" cy="357.9" r="2.25" fill="#0000a4" stroke="#000" stroke-width="1.1"/>
<circle cx="432.6" cy="356.8" r="2.25" fill="#0000a4" stroke="#000" stroke-width="1.1"/>
<circle cx="439.1" cy="363.9" r="2.25" fill="#0000a4" stroke="#000" stroke-width="1.1"/>
<circle cx="443.4" cy="361.1" r="2.25" fill="#0000a4" stroke="#000" stroke-width="1.1"/>
<circle cx="448.7" cy="362.2" r="2.25" fill="#0000a4" stroke="#000" stroke-width="1.1"/>
<circle cx="433.7" cy="367.2" r="2.25" fill="#0000a4" stroke="#000" stroke-width="1.1"/>
<circle cx="440.2" cy="370.8" r="2.25" fill="#0000a4" stroke="#000" stroke-width="1.1"/>
<circle cx="454.1" cy="369.3" r="2.25" fill="#0000a4" stroke="#000" stroke-width="1.1"/>
<circle cx="470.2" cy="368.0" r="2.25" fill="#0000a4" stroke="#000" stroke-width="1.1"/>
<circle cx="392.5" cy="363.7" r="2.25" fill="#0000a4" stroke="#000" stroke-width="1.1"/>
<circle cx="398.5" cy="369.3" r="2.25" fill="#0000a4" stroke="#000" stroke-width="1.1"/>
<circle cx="393.2" cy="380.0" r="2.25" fill="#0000a4" stroke="#000" stroke-width="1.1"/>
<circle cx="441.2" cy="377.2" r="2.25" fill="#0000a4" stroke="#000" stroke-width="1.1"/>
<circle cx="495.9" cy="375.1" r="2.25" fill="#0000a4" stroke="#000" stroke-width="1.1"/>
<circle cx="516.5" cy="370.2" r="2.25" fill="#0000a4" stroke="#000" stroke-width="1.1"/>
<circle cx="502.4" cy="377.9" r="2.25" fill="#0000a4" stroke="#000" stroke-width="1.1"/>
<circle cx="527.3" cy="376.6" r="2.25" fill="#0000a4" stroke="#000" stroke-width="1.1"/>
<circle cx="526.6" cy="360.1" r="2.25" fill="#0000a4" stroke="#000" stroke-width="1.1"/>
<circle cx="530.9" cy="359.0" r="2.25" fill="#0000a4" stroke="#000" stroke-width="1.1"/>
<circle cx="396.8" cy="388.0" r="2.25" fill="#0000a4" stroke="#000" stroke-width="1.1"/>
<circle cx="400.5" cy="389.0" r="2.25" fill="#0000a4" stroke="#000" stroke-width="1.1"/>
<circle cx="407.1" cy="385.8" r="2.25" fill="#0000a4" stroke="#000" stroke-width="1.1"/>
<circle cx="441.9" cy="389.0" r="2.25" fill="#0000a4" stroke="#000" stroke-width="1.1"/>
<circle cx="443.4" cy="395.0" r="2.25" fill="#0000a4" stroke="#000" stroke-width="1.1"/>
<circle cx="460.1" cy="386.2" r="2.25" fill="#0000a4" stroke="#000" stroke-width="1.1"/>
<circle cx="468.7" cy="385.4" r="2.25" fill="#0000a4" stroke="#000" stroke-width="1.1"/>
<circle cx="495.5" cy="390.1" r="2.25" fill="#0000a4" stroke="#000" stroke-width="1.1"/>
<circle cx="493.8" cy="393.8" r="2.25" fill="#0000a4" stroke="#000" stroke-width="1.1"/>
<circle cx="507.7" cy="384.7" r="2.25" fill="#0000a4" stroke="#000" stroke-width="1.1"/>
<circle cx="505.2" cy="388.4" r="2.25" fill="#0000a4" stroke="#000" stroke-width="1.1"/>
<circle cx="515.9" cy="383.7" r="2.25" fill="#0000a4" stroke="#000" stroke-width="1.1"/>
<circle cx="525.6" cy="386.9" r="2.25" fill="#0000a4" stroke="#000" stroke-width="1.1"/>
<circle cx="521.3" cy="389.0" r="2.25" fill="#0000a4" stroke="#000" stroke-width="1.1"/>
<circle cx="531.6" cy="390.1" r="2.25" fill="#0000a4" stroke="#000" stroke-width="1.1"/>
<circle cx="530.9" cy="368.7" r="2.25" fill="#0000a4" stroke="#000" stroke-width="1.1"/>
<circle cx="572.8" cy="213.1" r="2.25" fill="#0000a4" stroke="#000" stroke-width="1.1"/>
<circle cx="624.3" cy="232.4" r="2.25" fill="#0000a4" stroke="#000" stroke-width="1.1"/>
<circle cx="639.9" cy="230.2" r="2.25" fill="#0000a4" stroke="#000" stroke-width="1.1"/>
<circle cx="541.7" cy="252.1" r="2.25" fill="#0000a4" stroke="#000" stroke-width="1.1"/>
<circle cx="560.3" cy="263.9" r="2.25" fill="#0000a4" stroke="#000" stroke-width="1.1"/>
<circle cx="650.0" cy="242.5" r="2.25" fill="#0000a4" stroke="#000" stroke-width="1.1"/>
<circle cx="632.4" cy="274.9" r="2.25" fill="#0000a4" stroke="#000" stroke-width="1.1"/>
<circle cx="675.8" cy="275.3" r="2.25" fill="#0000a4" stroke="#000" stroke-width="1.1"/>
<circle cx="536.3" cy="279.2" r="2.25" fill="#0000a4" stroke="#000" stroke-width="1.1"/>
<circle cx="584.6" cy="291.0" r="2.25" fill="#0000a4" stroke="#000" stroke-width="1.1"/>
<circle cx="604.3" cy="291.8" r="2.25" fill="#0000a4" stroke="#000" stroke-width="1.1"/>
<circle cx="624.7" cy="291.8" r="2.25" fill="#0000a4" stroke="#000" stroke-width="1.1"/>
<circle cx="617.2" cy="296.8" r="2.25" fill="#0000a4" stroke="#000" stroke-width="1.1"/>
<circle cx="580.9" cy="297.2" r="2.25" fill="#0000a4" stroke="#000" stroke-width="1.1"/>
<circle cx="587.8" cy="302.1" r="2.25" fill="#0000a4" stroke="#000" stroke-width="1.1"/>
<circle cx="593.2" cy="305.8" r="2.25" fill="#0000a4" stroke="#000" stroke-width="1.1"/>
<circle cx="616.8" cy="300.0" r="2.25" fill="#0000a4" stroke="#000" stroke-width="1.1"/>
<circle cx="617.8" cy="305.8" r="2.25" fill="#0000a4" stroke="#000" stroke-width="1.1"/>
<circle cx="622.1" cy="305.8" r="2.25" fill="#0000a4" stroke="#000" stroke-width="1.1"/>
<circle cx="639.7" cy="306.4" r="2.25" fill="#0000a4" stroke="#000" stroke-width="1.1"/>
<circle cx="659.7" cy="302.1" r="2.25" fill="#0000a4" stroke="#000" stroke-width="1.1"/>
<circle cx="676.8" cy="302.1" r="2.25" fill="#0000a4" stroke="#000" stroke-width="1.1"/>
<circle cx="545.3" cy="309.6" r="2.25" fill="#0000a4" stroke="#000" stroke-width="1.1"/>
<circle cx="555.6" cy="304.7" r="2.25" fill="#0000a4" stroke="#000" stroke-width="1.1"/>
<circle cx="578.1" cy="306.4" r="2.25" fill="#0000a4" stroke="#000" stroke-width="1.1"/>
<circle cx="540.2" cy="315.6" r="2.25" fill="#0000a4" stroke="#000" stroke-width="1.1"/>
<circle cx="615.7" cy="315.4" r="2.25" fill="#0000a4" stroke="#000" stroke-width="1.1"/>
<circle cx="576.0" cy="324.0" r="2.25" fill="#0000a4" stroke="#000" stroke-width="1.1"/>
<circle cx="544.9" cy="329.0" r="2.25" fill="#0000a4" stroke="#000" stroke-width="1.1"/>
<circle cx="592.7" cy="334.7" r="2.25" fill="#0000a4" stroke="#000" stroke-width="1.1"/>
<circle cx="608.6" cy="339.3" r="2.25" fill="#0000a4" stroke="#000" stroke-width="1.1"/>
<circle cx="672.6" cy="332.8" r="2.25" fill="#0000a4" stroke="#000" stroke-width="1.1"/>
<circle cx="545.9" cy="348.3" r="2.25" fill="#0000a4" stroke="#000" stroke-width="1.1"/>
<circle cx="601.1" cy="347.8" r="2.25" fill="#0000a4" stroke="#000" stroke-width="1.1"/>
<circle cx="608.6" cy="350.4" r="2.25" fill="#0000a4" stroke="#000" stroke-width="1.1"/>
<circle cx="618.3" cy="346.1" r="2.25" fill="#0000a4" stroke="#000" stroke-width="1.1"/>
<circle cx="632.2" cy="348.3" r="2.25" fill="#0000a4" stroke="#000" stroke-width="1.1"/>
<circle cx="624.7" cy="351.9" r="2.25" fill="#0000a4" stroke="#000" stroke-width="1.1"/>
<circle cx="632.2" cy="356.8" r="2.25" fill="#0000a4" stroke="#000" stroke-width="1.1"/>
<circle cx="644.7" cy="355.3" r="2.25" fill="#0000a4" stroke="#000" stroke-width="1.1"/>
<circle cx="588.9" cy="358.6" r="2.25" fill="#0000a4" stroke="#000" stroke-width="1.1"/>
<circle cx="557.3" cy="360.7" r="2.25" fill="#0000a4" stroke="#000" stroke-width="1.1"/>
<circle cx="546.6" cy="363.7" r="2.25" fill="#0000a4" stroke="#000" stroke-width="1.1"/>
<circle cx="575.3" cy="361.8" r="2.25" fill="#0000a4" stroke="#000" stroke-width="1.1"/>
<circle cx="601.1" cy="366.1" r="2.25" fill="#0000a4" stroke="#000" stroke-width="1.1"/>
<circle cx="610.8" cy="362.9" r="2.25" fill="#0000a4" stroke="#000" stroke-width="1.1"/>
<circle cx="622.6" cy="368.7" r="2.25" fill="#0000a4" stroke="#000" stroke-width="1.1"/>
<circle cx="675.8" cy="365.4" r="2.25" fill="#0000a4" stroke="#000" stroke-width="1.1"/>
<circle cx="654.3" cy="377.2" r="2.25" fill="#0000a4" stroke="#000" stroke-width="1.1"/>
<circle cx="537.4" cy="383.2" r="2.25" fill="#0000a4" stroke="#000" stroke-width="1.1"/>
<circle cx="611.4" cy="384.7" r="2.25" fill="#0000a4" stroke="#000" stroke-width="1.1"/>
<circle cx="620.0" cy="381.5" r="2.25" fill="#0000a4" stroke="#000" stroke-width="1.1"/>
<circle cx="630.7" cy="381.5" r="2.25" fill="#0000a4" stroke="#000" stroke-width="1.1"/>
<circle cx="617.8" cy="388.0" r="2.25" fill="#0000a4" stroke="#000" stroke-width="1.1"/>
<circle cx="608.2" cy="390.1" r="2.25" fill="#0000a4" stroke="#000" stroke-width="1.1"/>
<circle cx="612.9" cy="393.8" r="2.25" fill="#0000a4" stroke="#000" stroke-width="1.1"/>
<circle cx="630.7" cy="390.1" r="2.25" fill="#0000a4" stroke="#000" stroke-width="1.1"/>
<circle cx="642.1" cy="388.6" r="2.25" fill="#0000a4" stroke="#000" stroke-width="1.1"/>
<circle cx="557.8" cy="394.4" r="2.25" fill="#0000a4" stroke="#000" stroke-width="1.1"/>
<circle cx="621.5" cy="394.4" r="2.25" fill="#0000a4" stroke="#000" stroke-width="1.1"/>
<circle cx="674.7" cy="394.4" r="2.25" fill="#0000a4" stroke="#000" stroke-width="1.1"/>
<circle cx="662.9" cy="397.6" r="2.25" fill="#0000a4" stroke="#000" stroke-width="1.1"/>
<circle cx="667.2" cy="395.5" r="2.25" fill="#0000a4" stroke="#000" stroke-width="1.1"/>
<circle cx="532.0" cy="364.4" r="2.25" fill="#0000a4" stroke="#000" stroke-width="1.1"/>
<circle cx="679.0" cy="353.6" r="2.25" fill="#0000a4" stroke="#000" stroke-width="1.1"/>
<circle cx="108.9" cy="317.9" r="2.25" fill="#0000a4" stroke="#000" stroke-width="1.1"/>
<circle cx="114.6" cy="314.3" r="2.25" fill="#0000a4" stroke="#000" stroke-width="1.1"/>
<circle cx="109.6" cy="324.3" r="2.25" fill="#0000a4" stroke="#000" stroke-width="1.1"/>
<circle cx="98.9" cy="328.6" r="2.25" fill="#0000a4" stroke="#000" stroke-width="1.1"/>
<circle cx="125.3" cy="330.0" r="2.25" fill="#0000a4" stroke="#000" stroke-width="1.1"/>
<circle cx="101.7" cy="332.9" r="2.25" fill="#0000a4" stroke="#000" stroke-width="1.1"/>
<circle cx="106.7" cy="335.0" r="2.25" fill="#0000a4" stroke="#000" stroke-width="1.1"/>
<circle cx="182.6" cy="331.5" r="2.25" fill="#0000a4" stroke="#000" stroke-width="1.1"/>
<circle cx="186.1" cy="335.8" r="2.25" fill="#0000a4" stroke="#000" stroke-width="1.1"/>
<circle cx="113.9" cy="337.2" r="2.25" fill="#0000a4" stroke="#000" stroke-width="1.1"/>
<circle cx="108.2" cy="339.3" r="2.25" fill="#0000a4" stroke="#000" stroke-width="1.1"/>
<circle cx="97.4" cy="345.8" r="2.25" fill="#0000a4" stroke="#000" stroke-width="1.1"/>
<circle cx="148.2" cy="349.3" r="2.25" fill="#0000a4" stroke="#000" stroke-width="1.1"/>
<circle cx="109.6" cy="350.1" r="2.25" fill="#0000a4" stroke="#000" stroke-width="1.1"/>
<circle cx="116.8" cy="351.5" r="2.25" fill="#0000a4" stroke="#000" stroke-width="1.1"/>
<circle cx="119.6" cy="352.9" r="2.25" fill="#0000a4" stroke="#000" stroke-width="1.1"/>
<circle cx="125.3" cy="351.5" r="2.25" fill="#0000a4" stroke="#000" stroke-width="1.1"/>
<circle cx="132.5" cy="353.6" r="2.25" fill="#0000a4" stroke="#000" stroke-width="1.1"/>
<circle cx="152.5" cy="354.3" r="2.25" fill="#0000a4" stroke="#000" stroke-width="1.1"/>
<circle cx="128.2" cy="347.9" r="2.25" fill="#0000a4" stroke="#000" stroke-width="1.1"/>
<circle cx="97.4" cy="357.9" r="2.25" fill="#0000a4" stroke="#000" stroke-width="1.1"/>
<circle cx="101.7" cy="359.4" r="2.25" fill="#0000a4" stroke="#000" stroke-width="1.1"/>
<circle cx="114.6" cy="357.2" r="2.25" fill="#0000a4" stroke="#000" stroke-width="1.1"/>
<circle cx="172.5" cy="357.2" r="2.25" fill="#0000a4" stroke="#000" stroke-width="1.1"/>
<circle cx="184.0" cy="357.2" r="2.25" fill="#0000a4" stroke="#000" stroke-width="1.1"/>
<circle cx="103.9" cy="363.6" r="2.25" fill="#0000a4" stroke="#000" stroke-width="1.1"/>
<circle cx="99.6" cy="365.1" r="2.25" fill="#0000a4" stroke="#000" stroke-width="1.1"/>
<circle cx="133.9" cy="365.1" r="2.25" fill="#0000a4" stroke="#000" stroke-width="1.1"/>
<circle cx="149.7" cy="362.2" r="2.25" fill="#0000a4" stroke="#000" stroke-width="1.1"/>
<circle cx="165.4" cy="362.2" r="2.25" fill="#0000a4" stroke="#000" stroke-width="1.1"/>
<circle cx="171.8" cy="362.9" r="2.25" fill="#0000a4" stroke="#000" stroke-width="1.1"/>
<circle cx="188.3" cy="367.2" r="2.25" fill="#0000a4" stroke="#000" stroke-width="1.1"/>
<circle cx="93.9" cy="367.9" r="2.25" fill="#0000a4" stroke="#000" stroke-width="1.1"/>
<circle cx="107.5" cy="371.5" r="2.25" fill="#0000a4" stroke="#000" stroke-width="1.1"/>
<circle cx="119.6" cy="376.5" r="2.25" fill="#0000a4" stroke="#000" stroke-width="1.1"/>
<circle cx="158.2" cy="375.8" r="2.25" fill="#0000a4" stroke="#000" stroke-width="1.1"/>
<circle cx="176.8" cy="367.9" r="2.25" fill="#0000a4" stroke="#000" stroke-width="1.1"/>
<circle cx="182.6" cy="372.9" r="2.25" fill="#0000a4" stroke="#000" stroke-width="1.1"/>
<circle cx="186.9" cy="380.1" r="2.25" fill="#0000a4" stroke="#000" stroke-width="1.1"/>
<circle cx="105.3" cy="385.1" r="2.25" fill="#0000a4" stroke="#000" stroke-width="1.1"/>
<circle cx="121.8" cy="392.3" r="2.25" fill="#0000a4" stroke="#000" stroke-width="1.1"/>
<circle cx="153.9" cy="388.0" r="2.25" fill="#0000a4" stroke="#000" stroke-width="1.1"/>
<circle cx="156.1" cy="393.7" r="2.25" fill="#0000a4" stroke="#000" stroke-width="1.1"/>
<circle cx="188.3" cy="388.7" r="2.25" fill="#0000a4" stroke="#000" stroke-width="1.1"/>
<circle cx="183.3" cy="394.4" r="2.25" fill="#0000a4" stroke="#000" stroke-width="1.1"/>
<circle cx="165.4" cy="394.4" r="2.25" fill="#0000a4" stroke="#000" stroke-width="1.1"/>
<circle cx="109.6" cy="395.8" r="2.25" fill="#0000a4" stroke="#000" stroke-width="1.1"/>
<circle cx="117.5" cy="395.8" r="2.25" fill="#0000a4" stroke="#000" stroke-width="1.1"/>
<circle cx="127.5" cy="395.1" r="2.25" fill="#0000a4" stroke="#000" stroke-width="1.1"/>
<circle cx="102.4" cy="395.8" r="2.25" fill="#0000a4" stroke="#000" stroke-width="1.1"/>
<circle cx="113.9" cy="398.7" r="2.25" fill="#0000a4" stroke="#000" stroke-width="1.1"/>
<circle cx="121.8" cy="398.0" r="2.25" fill="#0000a4" stroke="#000" stroke-width="1.1"/>
<circle cx="129.6" cy="399.4" r="2.25" fill="#0000a4" stroke="#000" stroke-width="1.1"/>
<circle cx="176.1" cy="397.3" r="2.25" fill="#0000a4" stroke="#000" stroke-width="1.1"/>
<circle cx="99.6" cy="400.8" r="2.25" fill="#0000a4" stroke="#000" stroke-width="1.1"/>
<circle cx="260.5" cy="325.0" r="2.25" fill="#0000a4" stroke="#000" stroke-width="1.1"/>
<circle cx="264.8" cy="331.5" r="2.25" fill="#0000a4" stroke="#000" stroke-width="1.1"/>
<circle cx="240.5" cy="340.8" r="2.25" fill="#0000a4" stroke="#000" stroke-width="1.1"/>
<circle cx="250.5" cy="336.5" r="2.25" fill="#0000a4" stroke="#000" stroke-width="1.1"/>
<circle cx="207.6" cy="348.6" r="2.25" fill="#0000a4" stroke="#000" stroke-width="1.1"/>
<circle cx="204.0" cy="355.8" r="2.25" fill="#0000a4" stroke="#000" stroke-width="1.1"/>
<circle cx="236.2" cy="356.5" r="2.25" fill="#0000a4" stroke="#000" stroke-width="1.1"/>
<circle cx="239.8" cy="356.5" r="2.25" fill="#0000a4" stroke="#000" stroke-width="1.1"/>
<circle cx="247.7" cy="354.3" r="2.25" fill="#0000a4" stroke="#000" stroke-width="1.1"/>
<circle cx="191.9" cy="355.1" r="2.25" fill="#0000a4" stroke="#000" stroke-width="1.1"/>
<circle cx="223.3" cy="367.9" r="2.25" fill="#0000a4" stroke="#000" stroke-width="1.1"/>
<circle cx="206.9" cy="371.5" r="2.25" fill="#0000a4" stroke="#000" stroke-width="1.1"/>
<circle cx="191.9" cy="374.4" r="2.25" fill="#0000a4" stroke="#000" stroke-width="1.1"/>
<circle cx="258.4" cy="377.2" r="2.25" fill="#0000a4" stroke="#000" stroke-width="1.1"/>
<circle cx="287.0" cy="332.9" r="2.25" fill="#0000a4" stroke="#000" stroke-width="1.1"/>
<circle cx="93.9" cy="216.3" r="2.25" fill="#0000a4" stroke="#000" stroke-width="1.1"/>
<circle cx="109.3" cy="225.0" r="2.25" fill="#0000a4" stroke="#000" stroke-width="1.1"/>
<circle cx="99.9" cy="235.5" r="2.25" fill="#0000a4" stroke="#000" stroke-width="1.1"/>
<circle cx="115.0" cy="236.3" r="2.25" fill="#0000a4" stroke="#000" stroke-width="1.1"/>
<circle cx="131.8" cy="242.2" r="2.25" fill="#0000a4" stroke="#000" stroke-width="1.1"/>
<circle cx="113.4" cy="249.3" r="2.25" fill="#0000a4" stroke="#000" stroke-width="1.1"/>
<circle cx="124.2" cy="255.8" r="2.25" fill="#0000a4" stroke="#000" stroke-width="1.1"/>
<circle cx="95.6" cy="258.5" r="2.25" fill="#0000a4" stroke="#000" stroke-width="1.1"/>
<circle cx="98.8" cy="261.7" r="2.25" fill="#0000a4" stroke="#000" stroke-width="1.1"/>
<circle cx="96.6" cy="267.1" r="2.25" fill="#0000a4" stroke="#000" stroke-width="1.1"/>
<circle cx="93.9" cy="270.3" r="2.25" fill="#0000a4" stroke="#000" stroke-width="1.1"/>
<circle cx="126.3" cy="275.7" r="2.25" fill="#0000a4" stroke="#000" stroke-width="1.1"/>
<circle cx="107.4" cy="284.4" r="2.25" fill="#0000a4" stroke="#000" stroke-width="1.1"/>
<circle cx="107.2" cy="305.4" r="2.25" fill="#0000a4" stroke="#000" stroke-width="1.1"/>
<circle cx="113.9" cy="213.1" r="2.25" fill="#0000a4" stroke="#000" stroke-width="1.1"/>
<circle cx="60.8" cy="178.1" r="2.25" fill="#0000a4" stroke="#000" stroke-width="1.1"/>
<circle cx="65.9" cy="179.2" r="2.25" fill="#0000a4" stroke="#000" stroke-width="1.1"/>
<circle cx="69.6" cy="196.4" r="2.25" fill="#0000a4" stroke="#000" stroke-width="1.1"/>
<circle cx="80.9" cy="64.7" r="2.25" fill="#0000a4" stroke="#000" stroke-width="1.1"/>
<circle cx="76.9" cy="161.1" r="2.25" fill="#0000a4" stroke="#000" stroke-width="1.1"/>
<circle cx="77.8" cy="177.4" r="2.25" fill="#0000a4" stroke="#000" stroke-width="1.1"/>
<circle cx="79.1" cy="176.4" r="2.25" fill="#0000a4" stroke="#000" stroke-width="1.1"/>
<circle cx="88.2" cy="182.5" r="2.25" fill="#0000a4" stroke="#000" stroke-width="1.1"/>
<circle cx="86.0" cy="211.2" r="2.25" fill="#0000a4" stroke="#000" stroke-width="1.1"/>
<circle cx="88.2" cy="221.4" r="2.25" fill="#0000a4" stroke="#000" stroke-width="1.1"/>
<circle cx="84.4" cy="244.5" r="2.25" fill="#0000a4" stroke="#000" stroke-width="1.1"/>
<circle cx="60.1" cy="207.9" r="2.25" fill="#0000a4" stroke="#000" stroke-width="1.1"/>
<circle cx="60.4" cy="209.4" r="2.25" fill="#0000a4" stroke="#000" stroke-width="1.1"/>
<circle cx="58.2" cy="217.3" r="2.25" fill="#0000a4" stroke="#000" stroke-width="1.1"/>
<circle cx="60.7" cy="233.0" r="2.25" fill="#0000a4" stroke="#000" stroke-width="1.1"/>
<circle cx="55.9" cy="251.5" r="2.25" fill="#0000a4" stroke="#000" stroke-width="1.1"/>
<circle cx="62.0" cy="246.7" r="2.25" fill="#0000a4" stroke="#000" stroke-width="1.1"/>
<circle cx="61.6" cy="257.3" r="2.25" fill="#0000a4" stroke="#000" stroke-width="1.1"/>
<circle cx="60.4" cy="262.3" r="2.25" fill="#0000a4" stroke="#000" stroke-width="1.1"/>
<circle cx="60.5" cy="267.4" r="2.25" fill="#0000a4" stroke="#000" stroke-width="1.1"/>
<circle cx="62.2" cy="269.3" r="2.25" fill="#0000a4" stroke="#000" stroke-width="1.1"/>
<circle cx="63.0" cy="274.8" r="2.25" fill="#0000a4" stroke="#000" stroke-width="1.1"/>
<circle cx="54.9" cy="281.9" r="2.25" fill="#0000a4" stroke="#000" stroke-width="1.1"/>
<circle cx="55.1" cy="291.1" r="2.25" fill="#0000a4" stroke="#000" stroke-width="1.1"/>
<circle cx="57.3" cy="285.6" r="2.25" fill="#0000a4" stroke="#000" stroke-width="1.1"/>
<circle cx="56.8" cy="292.4" r="2.25" fill="#0000a4" stroke="#000" stroke-width="1.1"/>
<circle cx="56.8" cy="300.9" r="2.25" fill="#0000a4" stroke="#000" stroke-width="1.1"/>
<circle cx="60.6" cy="280.9" r="2.25" fill="#0000a4" stroke="#000" stroke-width="1.1"/>
<circle cx="62.0" cy="281.9" r="2.25" fill="#0000a4" stroke="#000" stroke-width="1.1"/>
<circle cx="62.0" cy="290.0" r="2.25" fill="#0000a4" stroke="#000" stroke-width="1.1"/>
<circle cx="63.3" cy="290.6" r="2.25" fill="#0000a4" stroke="#000" stroke-width="1.1"/>
<circle cx="63.4" cy="295.0" r="2.25" fill="#0000a4" stroke="#000" stroke-width="1.1"/>
<circle cx="60.8" cy="295.0" r="2.25" fill="#0000a4" stroke="#000" stroke-width="1.1"/>
<circle cx="61.3" cy="291.3" r="2.25" fill="#0000a4" stroke="#000" stroke-width="1.1"/>
<circle cx="60.6" cy="307.4" r="2.25" fill="#0000a4" stroke="#000" stroke-width="1.1"/>
<circle cx="60.6" cy="313.1" r="2.25" fill="#0000a4" stroke="#000" stroke-width="1.1"/>
<circle cx="62.4" cy="315.0" r="2.25" fill="#0000a4" stroke="#000" stroke-width="1.1"/>
<circle cx="62.4" cy="324.4" r="2.25" fill="#0000a4" stroke="#000" stroke-width="1.1"/>
<circle cx="60.4" cy="330.9" r="2.25" fill="#0000a4" stroke="#000" stroke-width="1.1"/>
<circle cx="62.1" cy="330.9" r="2.25" fill="#0000a4" stroke="#000" stroke-width="1.1"/>
<circle cx="62.0" cy="336.8" r="2.25" fill="#0000a4" stroke="#000" stroke-width="1.1"/>
<circle cx="60.9" cy="348.3" r="2.25" fill="#0000a4" stroke="#000" stroke-width="1.1"/>
<circle cx="61.5" cy="349.9" r="2.25" fill="#0000a4" stroke="#000" stroke-width="1.1"/>
<circle cx="62.4" cy="346.2" r="2.25" fill="#0000a4" stroke="#000" stroke-width="1.1"/>
<circle cx="62.2" cy="357.0" r="2.25" fill="#0000a4" stroke="#000" stroke-width="1.1"/>
<circle cx="60.6" cy="370.5" r="2.25" fill="#0000a4" stroke="#000" stroke-width="1.1"/>
<circle cx="61.6" cy="374.5" r="2.25" fill="#0000a4" stroke="#000" stroke-width="1.1"/>
<circle cx="61.9" cy="372.7" r="2.25" fill="#0000a4" stroke="#000" stroke-width="1.1"/>
<circle cx="62.1" cy="370.5" r="2.25" fill="#0000a4" stroke="#000" stroke-width="1.1"/>
<circle cx="63.2" cy="369.0" r="2.25" fill="#0000a4" stroke="#000" stroke-width="1.1"/>
<circle cx="62.0" cy="380.3" r="2.25" fill="#0000a4" stroke="#000" stroke-width="1.1"/>
<circle cx="63.2" cy="375.5" r="2.25" fill="#0000a4" stroke="#000" stroke-width="1.1"/>
<circle cx="60.5" cy="387.5" r="2.25" fill="#0000a4" stroke="#000" stroke-width="1.1"/>
<circle cx="61.4" cy="385.8" r="2.25" fill="#0000a4" stroke="#000" stroke-width="1.1"/>
<circle cx="61.5" cy="393.4" r="2.25" fill="#0000a4" stroke="#000" stroke-width="1.1"/>
<circle cx="56.0" cy="312.3" r="2.25" fill="#0000a4" stroke="#000" stroke-width="1.1"/>
<circle cx="54.9" cy="323.2" r="2.25" fill="#0000a4" stroke="#000" stroke-width="1.1"/>
<circle cx="54.6" cy="329.4" r="2.25" fill="#0000a4" stroke="#000" stroke-width="1.1"/>
<circle cx="54.9" cy="333.7" r="2.25" fill="#0000a4" stroke="#000" stroke-width="1.1"/>
<circle cx="55.7" cy="339.1" r="2.25" fill="#0000a4" stroke="#000" stroke-width="1.1"/>
<circle cx="56.2" cy="347.0" r="2.25" fill="#0000a4" stroke="#000" stroke-width="1.1"/>
<circle cx="57.8" cy="341.7" r="2.25" fill="#0000a4" stroke="#000" stroke-width="1.1"/>
<circle cx="56.8" cy="350.8" r="2.25" fill="#0000a4" stroke="#000" stroke-width="1.1"/>
<circle cx="55.5" cy="350.8" r="2.25" fill="#0000a4" stroke="#000" stroke-width="1.1"/>
<circle cx="54.8" cy="352.5" r="2.25" fill="#0000a4" stroke="#000" stroke-width="1.1"/>
<circle cx="54.8" cy="359.5" r="2.25" fill="#0000a4" stroke="#000" stroke-width="1.1"/>
<circle cx="57.6" cy="354.0" r="2.25" fill="#0000a4" stroke="#000" stroke-width="1.1"/>
<circle cx="57.7" cy="359.0" r="2.25" fill="#0000a4" stroke="#000" stroke-width="1.1"/>
<circle cx="57.7" cy="361.5" r="2.25" fill="#0000a4" stroke="#000" stroke-width="1.1"/>
<circle cx="56.6" cy="359.7" r="2.25" fill="#0000a4" stroke="#000" stroke-width="1.1"/>
<circle cx="56.6" cy="368.0" r="2.25" fill="#0000a4" stroke="#000" stroke-width="1.1"/>
<circle cx="54.9" cy="369.9" r="2.25" fill="#0000a4" stroke="#000" stroke-width="1.1"/>
<circle cx="57.4" cy="373.0" r="2.25" fill="#0000a4" stroke="#000" stroke-width="1.1"/>
<circle cx="57.1" cy="378.8" r="2.25" fill="#0000a4" stroke="#000" stroke-width="1.1"/>
<circle cx="55.8" cy="380.0" r="2.25" fill="#0000a4" stroke="#000" stroke-width="1.1"/>
<circle cx="55.9" cy="384.6" r="2.25" fill="#0000a4" stroke="#000" stroke-width="1.1"/>
<circle cx="57.1" cy="386.1" r="2.25" fill="#0000a4" stroke="#000" stroke-width="1.1"/>
<circle cx="58.2" cy="382.9" r="2.25" fill="#0000a4" stroke="#000" stroke-width="1.1"/>
<circle cx="56.7" cy="394.2" r="2.25" fill="#0000a4" stroke="#000" stroke-width="1.1"/>
<circle cx="56.2" cy="396.2" r="2.25" fill="#0000a4" stroke="#000" stroke-width="1.1"/>
<circle cx="57.6" cy="395.5" r="2.25" fill="#0000a4" stroke="#000" stroke-width="1.1"/>
<circle cx="58.9" cy="393.0" r="2.25" fill="#0000a4" stroke="#000" stroke-width="1.1"/>
<circle cx="59.3" cy="389.0" r="2.25" fill="#0000a4" stroke="#000" stroke-width="1.1"/>
<circle cx="59.3" cy="396.6" r="2.25" fill="#0000a4" stroke="#000" stroke-width="1.1"/>
<circle cx="59.6" cy="314.2" r="2.25" fill="#0000a4" stroke="#000" stroke-width="1.1"/>
<circle cx="59.1" cy="321.4" r="2.25" fill="#0000a4" stroke="#000" stroke-width="1.1"/>
<circle cx="59.6" cy="340.9" r="2.25" fill="#0000a4" stroke="#000" stroke-width="1.1"/>
<circle cx="59.7" cy="346.7" r="2.25" fill="#0000a4" stroke="#000" stroke-width="1.1"/>
<circle cx="59.3" cy="352.5" r="2.25" fill="#0000a4" stroke="#000" stroke-width="1.1"/>
<circle cx="60.1" cy="360.5" r="2.25" fill="#0000a4" stroke="#000" stroke-width="1.1"/>
<circle cx="59.2" cy="365.5" r="2.25" fill="#0000a4" stroke="#000" stroke-width="1.1"/>
<circle cx="54.1" cy="377.1" r="2.25" fill="#0000a4" stroke="#000" stroke-width="1.1"/>
<circle cx="64.1" cy="214.9" r="2.25" fill="#0000a4" stroke="#000" stroke-width="1.1"/>
<circle cx="67.5" cy="216.6" r="2.25" fill="#0000a4" stroke="#000" stroke-width="1.1"/>
<circle cx="69.6" cy="214.5" r="2.25" fill="#0000a4" stroke="#000" stroke-width="1.1"/>
<circle cx="70.4" cy="208.6" r="2.25" fill="#0000a4" stroke="#000" stroke-width="1.1"/>
<circle cx="70.5" cy="219.9" r="2.25" fill="#0000a4" stroke="#000" stroke-width="1.1"/>
<circle cx="72.0" cy="216.6" r="2.25" fill="#0000a4" stroke="#000" stroke-width="1.1"/>
<circle cx="71.9" cy="233.4" r="2.25" fill="#0000a4" stroke="#000" stroke-width="1.1"/>
<circle cx="71.7" cy="242.1" r="2.25" fill="#0000a4" stroke="#000" stroke-width="1.1"/>
<circle cx="70.5" cy="238.8" r="2.25" fill="#0000a4" stroke="#000" stroke-width="1.1"/>
<circle cx="70.6" cy="244.3" r="2.25" fill="#0000a4" stroke="#000" stroke-width="1.1"/>
<circle cx="70.8" cy="249.3" r="2.25" fill="#0000a4" stroke="#000" stroke-width="1.1"/>
<circle cx="68.5" cy="235.1" r="2.25" fill="#0000a4" stroke="#000" stroke-width="1.1"/>
<circle cx="67.0" cy="240.6" r="2.25" fill="#0000a4" stroke="#000" stroke-width="1.1"/>
<circle cx="68.1" cy="242.3" r="2.25" fill="#0000a4" stroke="#000" stroke-width="1.1"/>
<circle cx="66.9" cy="250.4" r="2.25" fill="#0000a4" stroke="#000" stroke-width="1.1"/>
<circle cx="65.8" cy="261.9" r="2.25" fill="#0000a4" stroke="#000" stroke-width="1.1"/>
<circle cx="65.7" cy="273.2" r="2.25" fill="#0000a4" stroke="#000" stroke-width="1.1"/>
<circle cx="67.7" cy="264.1" r="2.25" fill="#0000a4" stroke="#000" stroke-width="1.1"/>
<circle cx="68.4" cy="275.4" r="2.25" fill="#0000a4" stroke="#000" stroke-width="1.1"/>
<circle cx="66.9" cy="279.8" r="2.25" fill="#0000a4" stroke="#000" stroke-width="1.1"/>
<circle cx="63.7" cy="283.0" r="2.25" fill="#0000a4" stroke="#000" stroke-width="1.1"/>
<circle cx="65.9" cy="287.8" r="2.25" fill="#0000a4" stroke="#000" stroke-width="1.1"/>
<circle cx="65.3" cy="291.1" r="2.25" fill="#0000a4" stroke="#000" stroke-width="1.1"/>
<circle cx="68.2" cy="293.9" r="2.25" fill="#0000a4" stroke="#000" stroke-width="1.1"/>
<circle cx="70.4" cy="285.9" r="2.25" fill="#0000a4" stroke="#000" stroke-width="1.1"/>
<circle cx="71.0" cy="288.5" r="2.25" fill="#0000a4" stroke="#000" stroke-width="1.1"/>
<circle cx="72.5" cy="270.0" r="2.25" fill="#0000a4" stroke="#000" stroke-width="1.1"/>
<circle cx="72.2" cy="296.5" r="2.25" fill="#0000a4" stroke="#000" stroke-width="1.1"/>
<circle cx="64.7" cy="307.6" r="2.25" fill="#0000a4" stroke="#000" stroke-width="1.1"/>
<circle cx="69.7" cy="300.9" r="2.25" fill="#0000a4" stroke="#000" stroke-width="1.1"/>
<circle cx="69.9" cy="309.2" r="2.25" fill="#0000a4" stroke="#000" stroke-width="1.1"/>
<circle cx="68.0" cy="307.0" r="2.25" fill="#0000a4" stroke="#000" stroke-width="1.1"/>
<circle cx="68.1" cy="313.5" r="2.25" fill="#0000a4" stroke="#000" stroke-width="1.1"/>
<circle cx="68.7" cy="310.2" r="2.25" fill="#0000a4" stroke="#000" stroke-width="1.1"/>
<circle cx="71.0" cy="313.5" r="2.25" fill="#0000a4" stroke="#000" stroke-width="1.1"/>
<circle cx="70.7" cy="316.8" r="2.25" fill="#0000a4" stroke="#000" stroke-width="1.1"/>
<circle cx="70.5" cy="320.0" r="2.25" fill="#0000a4" stroke="#000" stroke-width="1.1"/>
<circle cx="72.2" cy="312.9" r="2.25" fill="#0000a4" stroke="#000" stroke-width="1.1"/>
<circle cx="72.6" cy="316.8" r="2.25" fill="#0000a4" stroke="#000" stroke-width="1.1"/>
<circle cx="72.9" cy="315.0" r="2.25" fill="#0000a4" stroke="#000" stroke-width="1.1"/>
<circle cx="63.7" cy="314.6" r="2.25" fill="#0000a4" stroke="#000" stroke-width="1.1"/>
<circle cx="64.3" cy="318.3" r="2.25" fill="#0000a4" stroke="#000" stroke-width="1.1"/>
<circle cx="66.2" cy="320.0" r="2.25" fill="#0000a4" stroke="#000" stroke-width="1.1"/>
<circle cx="68.0" cy="322.2" r="2.25" fill="#0000a4" stroke="#000" stroke-width="1.1"/>
<circle cx="69.0" cy="325.0" r="2.25" fill="#0000a4" stroke="#000" stroke-width="1.1"/>
<circle cx="70.0" cy="321.1" r="2.25" fill="#0000a4" stroke="#000" stroke-width="1.1"/>
<circle cx="69.9" cy="329.2" r="2.25" fill="#0000a4" stroke="#000" stroke-width="1.1"/>
<circle cx="70.1" cy="332.0" r="2.25" fill="#0000a4" stroke="#000" stroke-width="1.1"/>
<circle cx="70.5" cy="327.7" r="2.25" fill="#0000a4" stroke="#000" stroke-width="1.1"/>
<circle cx="67.2" cy="331.4" r="2.25" fill="#0000a4" stroke="#000" stroke-width="1.1"/>
<circle cx="67.7" cy="329.2" r="2.25" fill="#0000a4" stroke="#000" stroke-width="1.1"/>
<circle cx="64.2" cy="334.2" r="2.25" fill="#0000a4" stroke="#000" stroke-width="1.1"/>
<circle cx="64.9" cy="332.7" r="2.25" fill="#0000a4" stroke="#000" stroke-width="1.1"/>
<circle cx="66.4" cy="335.3" r="2.25" fill="#0000a4" stroke="#000" stroke-width="1.1"/>
<circle cx="66.3" cy="340.7" r="2.25" fill="#0000a4" stroke="#000" stroke-width="1.1"/>
<circle cx="63.8" cy="342.9" r="2.25" fill="#0000a4" stroke="#000" stroke-width="1.1"/>
<circle cx="64.6" cy="348.3" r="2.25" fill="#0000a4" stroke="#000" stroke-width="1.1"/>
<circle cx="64.5" cy="351.6" r="2.25" fill="#0000a4" stroke="#000" stroke-width="1.1"/>
<circle cx="68.5" cy="339.6" r="2.25" fill="#0000a4" stroke="#000" stroke-width="1.1"/>
<circle cx="68.5" cy="346.2" r="2.25" fill="#0000a4" stroke="#000" stroke-width="1.1"/>
<circle cx="69.0" cy="344.0" r="2.25" fill="#0000a4" stroke="#000" stroke-width="1.1"/>
<circle cx="69.9" cy="339.0" r="2.25" fill="#0000a4" stroke="#000" stroke-width="1.1"/>
<circle cx="69.8" cy="347.2" r="2.25" fill="#0000a4" stroke="#000" stroke-width="1.1"/>
<circle cx="70.1" cy="351.6" r="2.25" fill="#0000a4" stroke="#000" stroke-width="1.1"/>
<circle cx="71.2" cy="339.2" r="2.25" fill="#0000a4" stroke="#000" stroke-width="1.1"/>
<circle cx="72.1" cy="334.6" r="2.25" fill="#0000a4" stroke="#000" stroke-width="1.1"/>
<circle cx="71.1" cy="355.5" r="2.25" fill="#0000a4" stroke="#000" stroke-width="1.1"/>
<circle cx="73.1" cy="347.2" r="2.25" fill="#0000a4" stroke="#000" stroke-width="1.1"/>
<circle cx="65.9" cy="356.0" r="2.25" fill="#0000a4" stroke="#000" stroke-width="1.1"/>
<circle cx="65.4" cy="359.2" r="2.25" fill="#0000a4" stroke="#000" stroke-width="1.1"/>
<circle cx="65.5" cy="362.5" r="2.25" fill="#0000a4" stroke="#000" stroke-width="1.1"/>
<circle cx="65.3" cy="364.7" r="2.25" fill="#0000a4" stroke="#000" stroke-width="1.1"/>
<circle cx="65.9" cy="366.8" r="2.25" fill="#0000a4" stroke="#000" stroke-width="1.1"/>
<circle cx="64.9" cy="361.4" r="2.25" fill="#0000a4" stroke="#000" stroke-width="1.1"/>
<circle cx="69.0" cy="359.2" r="2.25" fill="#0000a4" stroke="#000" stroke-width="1.1"/>
<circle cx="68.9" cy="363.6" r="2.25" fill="#0000a4" stroke="#000" stroke-width="1.1"/>
<circle cx="69.2" cy="356.0" r="2.25" fill="#0000a4" stroke="#000" stroke-width="1.1"/>
<circle cx="70.6" cy="365.1" r="2.25" fill="#0000a4" stroke="#000" stroke-width="1.1"/>
<circle cx="71.5" cy="362.0" r="2.25" fill="#0000a4" stroke="#000" stroke-width="1.1"/>
<circle cx="65.2" cy="371.2" r="2.25" fill="#0000a4" stroke="#000" stroke-width="1.1"/>
<circle cx="65.1" cy="376.6" r="2.25" fill="#0000a4" stroke="#000" stroke-width="1.1"/>
<circle cx="64.9" cy="382.1" r="2.25" fill="#0000a4" stroke="#000" stroke-width="1.1"/>
<circle cx="66.7" cy="374.5" r="2.25" fill="#0000a4" stroke="#000" stroke-width="1.1"/>
<circle cx="68.1" cy="375.5" r="2.25" fill="#0000a4" stroke="#000" stroke-width="1.1"/>
<circle cx="66.0" cy="381.0" r="2.25" fill="#0000a4" stroke="#000" stroke-width="1.1"/>
<circle cx="66.4" cy="383.6" r="2.25" fill="#0000a4" stroke="#000" stroke-width="1.1"/>
<circle cx="69.4" cy="382.1" r="2.25" fill="#0000a4" stroke="#000" stroke-width="1.1"/>
<circle cx="69.8" cy="384.3" r="2.25" fill="#0000a4" stroke="#000" stroke-width="1.1"/>
<circle cx="68.8" cy="385.3" r="2.25" fill="#0000a4" stroke="#000" stroke-width="1.1"/>
<circle cx="70.5" cy="385.8" r="2.25" fill="#0000a4" stroke="#000" stroke-width="1.1"/>
<circle cx="71.5" cy="383.2" r="2.25" fill="#0000a4" stroke="#000" stroke-width="1.1"/>
<circle cx="64.4" cy="393.4" r="2.25" fill="#0000a4" stroke="#000" stroke-width="1.1"/>
<circle cx="65.2" cy="400.6" r="2.25" fill="#0000a4" stroke="#000" stroke-width="1.1"/>
<circle cx="69.5" cy="393.6" r="2.25" fill="#0000a4" stroke="#000" stroke-width="1.1"/>
<circle cx="70.9" cy="400.6" r="2.25" fill="#0000a4" stroke="#000" stroke-width="1.1"/>
<circle cx="72.9" cy="388.0" r="2.25" fill="#0000a4" stroke="#000" stroke-width="1.1"/>
<circle cx="73.1" cy="391.9" r="2.25" fill="#0000a4" stroke="#000" stroke-width="1.1"/>
<circle cx="63.5" cy="372.3" r="2.25" fill="#0000a4" stroke="#000" stroke-width="1.1"/>
<circle cx="75.5" cy="215.5" r="2.25" fill="#0000a4" stroke="#000" stroke-width="1.1"/>
<circle cx="76.0" cy="225.3" r="2.25" fill="#0000a4" stroke="#000" stroke-width="1.1"/>
<circle cx="77.1" cy="228.2" r="2.25" fill="#0000a4" stroke="#000" stroke-width="1.1"/>
<circle cx="78.3" cy="214.5" r="2.25" fill="#0000a4" stroke="#000" stroke-width="1.1"/>
<circle cx="78.8" cy="211.6" r="2.25" fill="#0000a4" stroke="#000" stroke-width="1.1"/>
<circle cx="74.6" cy="233.4" r="2.25" fill="#0000a4" stroke="#000" stroke-width="1.1"/>
<circle cx="75.9" cy="240.6" r="2.25" fill="#0000a4" stroke="#000" stroke-width="1.1"/>
<circle cx="75.8" cy="248.2" r="2.25" fill="#0000a4" stroke="#000" stroke-width="1.1"/>
<circle cx="76.8" cy="245.6" r="2.25" fill="#0000a4" stroke="#000" stroke-width="1.1"/>
<circle cx="77.9" cy="243.8" r="2.25" fill="#0000a4" stroke="#000" stroke-width="1.1"/>
<circle cx="78.6" cy="259.1" r="2.25" fill="#0000a4" stroke="#000" stroke-width="1.1"/>
<circle cx="75.5" cy="263.4" r="2.25" fill="#0000a4" stroke="#000" stroke-width="1.1"/>
<circle cx="75.7" cy="265.6" r="2.25" fill="#0000a4" stroke="#000" stroke-width="1.1"/>
<circle cx="78.9" cy="271.5" r="2.25" fill="#0000a4" stroke="#000" stroke-width="1.1"/>
<circle cx="76.4" cy="291.3" r="2.25" fill="#0000a4" stroke="#000" stroke-width="1.1"/>
<circle cx="80.3" cy="288.9" r="2.25" fill="#0000a4" stroke="#000" stroke-width="1.1"/>
<circle cx="81.0" cy="295.0" r="2.25" fill="#0000a4" stroke="#000" stroke-width="1.1"/>
<circle cx="77.0" cy="302.6" r="2.25" fill="#0000a4" stroke="#000" stroke-width="1.1"/>
<circle cx="75.9" cy="306.3" r="2.25" fill="#0000a4" stroke="#000" stroke-width="1.1"/>
<circle cx="74.8" cy="311.8" r="2.25" fill="#0000a4" stroke="#000" stroke-width="1.1"/>
<circle cx="74.7" cy="313.5" r="2.25" fill="#0000a4" stroke="#000" stroke-width="1.1"/>
<circle cx="73.3" cy="312.0" r="2.25" fill="#0000a4" stroke="#000" stroke-width="1.1"/>
<circle cx="75.3" cy="316.8" r="2.25" fill="#0000a4" stroke="#000" stroke-width="1.1"/>
<circle cx="76.4" cy="318.3" r="2.25" fill="#0000a4" stroke="#000" stroke-width="1.1"/>
<circle cx="73.4" cy="321.6" r="2.25" fill="#0000a4" stroke="#000" stroke-width="1.1"/>
<circle cx="74.4" cy="325.9" r="2.25" fill="#0000a4" stroke="#000" stroke-width="1.1"/>
<circle cx="80.6" cy="312.4" r="2.25" fill="#0000a4" stroke="#000" stroke-width="1.1"/>
<circle cx="78.6" cy="326.1" r="2.25" fill="#0000a4" stroke="#000" stroke-width="1.1"/>
<circle cx="78.7" cy="330.9" r="2.25" fill="#0000a4" stroke="#000" stroke-width="1.1"/>
<circle cx="78.6" cy="335.7" r="2.25" fill="#0000a4" stroke="#000" stroke-width="1.1"/>
<circle cx="77.6" cy="329.2" r="2.25" fill="#0000a4" stroke="#000" stroke-width="1.1"/>
<circle cx="80.3" cy="329.8" r="2.25" fill="#0000a4" stroke="#000" stroke-width="1.1"/>
<circle cx="77.7" cy="337.4" r="2.25" fill="#0000a4" stroke="#000" stroke-width="1.1"/>
<circle cx="77.8" cy="341.2" r="2.25" fill="#0000a4" stroke="#000" stroke-width="1.1"/>
<circle cx="74.9" cy="335.7" r="2.25" fill="#0000a4" stroke="#000" stroke-width="1.1"/>
<circle cx="73.9" cy="343.3" r="2.25" fill="#0000a4" stroke="#000" stroke-width="1.1"/>
<circle cx="74.5" cy="349.9" r="2.25" fill="#0000a4" stroke="#000" stroke-width="1.1"/>
<circle cx="74.9" cy="346.2" r="2.25" fill="#0000a4" stroke="#000" stroke-width="1.1"/>
<circle cx="75.9" cy="341.8" r="2.25" fill="#0000a4" stroke="#000" stroke-width="1.1"/>
<circle cx="78.8" cy="345.1" r="2.25" fill="#0000a4" stroke="#000" stroke-width="1.1"/>
<circle cx="78.8" cy="349.4" r="2.25" fill="#0000a4" stroke="#000" stroke-width="1.1"/>
<circle cx="79.2" cy="354.9" r="2.25" fill="#0000a4" stroke="#000" stroke-width="1.1"/>
<circle cx="79.7" cy="339.2" r="2.25" fill="#0000a4" stroke="#000" stroke-width="1.1"/>
<circle cx="79.8" cy="350.5" r="2.25" fill="#0000a4" stroke="#000" stroke-width="1.1"/>
<circle cx="80.5" cy="346.2" r="2.25" fill="#0000a4" stroke="#000" stroke-width="1.1"/>
<circle cx="81.1" cy="351.6" r="2.25" fill="#0000a4" stroke="#000" stroke-width="1.1"/>
<circle cx="81.3" cy="343.5" r="2.25" fill="#0000a4" stroke="#000" stroke-width="1.1"/>
<circle cx="81.5" cy="341.4" r="2.25" fill="#0000a4" stroke="#000" stroke-width="1.1"/>
<circle cx="81.8" cy="358.6" r="2.25" fill="#0000a4" stroke="#000" stroke-width="1.1"/>
<circle cx="80.0" cy="359.9" r="2.25" fill="#0000a4" stroke="#000" stroke-width="1.1"/>
<circle cx="79.2" cy="362.5" r="2.25" fill="#0000a4" stroke="#000" stroke-width="1.1"/>
<circle cx="79.4" cy="364.7" r="2.25" fill="#0000a4" stroke="#000" stroke-width="1.1"/>
<circle cx="73.7" cy="364.7" r="2.25" fill="#0000a4" stroke="#000" stroke-width="1.1"/>
<circle cx="74.1" cy="363.1" r="2.25" fill="#0000a4" stroke="#000" stroke-width="1.1"/>
<circle cx="75.4" cy="364.0" r="2.25" fill="#0000a4" stroke="#000" stroke-width="1.1"/>
<circle cx="76.0" cy="365.7" r="2.25" fill="#0000a4" stroke="#000" stroke-width="1.1"/>
<circle cx="77.2" cy="368.4" r="2.25" fill="#0000a4" stroke="#000" stroke-width="1.1"/>
<circle cx="77.8" cy="366.8" r="2.25" fill="#0000a4" stroke="#000" stroke-width="1.1"/>
<circle cx="77.9" cy="363.6" r="2.25" fill="#0000a4" stroke="#000" stroke-width="1.1"/>
<circle cx="80.4" cy="366.8" r="2.25" fill="#0000a4" stroke="#000" stroke-width="1.1"/>
<circle cx="80.3" cy="370.8" r="2.25" fill="#0000a4" stroke="#000" stroke-width="1.1"/>
<circle cx="81.1" cy="372.7" r="2.25" fill="#0000a4" stroke="#000" stroke-width="1.1"/>
<circle cx="73.4" cy="374.5" r="2.25" fill="#0000a4" stroke="#000" stroke-width="1.1"/>
<circle cx="74.1" cy="373.4" r="2.25" fill="#0000a4" stroke="#000" stroke-width="1.1"/>
<circle cx="74.5" cy="371.8" r="2.25" fill="#0000a4" stroke="#000" stroke-width="1.1"/>
<circle cx="74.5" cy="376.2" r="2.25" fill="#0000a4" stroke="#000" stroke-width="1.1"/>
<circle cx="76.2" cy="374.5" r="2.25" fill="#0000a4" stroke="#000" stroke-width="1.1"/>
<circle cx="79.4" cy="378.8" r="2.25" fill="#0000a4" stroke="#000" stroke-width="1.1"/>
<circle cx="80.1" cy="381.6" r="2.25" fill="#0000a4" stroke="#000" stroke-width="1.1"/>
<circle cx="82.6" cy="382.1" r="2.25" fill="#0000a4" stroke="#000" stroke-width="1.1"/>
<circle cx="74.5" cy="390.3" r="2.25" fill="#0000a4" stroke="#000" stroke-width="1.1"/>
<circle cx="75.3" cy="391.9" r="2.25" fill="#0000a4" stroke="#000" stroke-width="1.1"/>
<circle cx="75.6" cy="388.6" r="2.25" fill="#0000a4" stroke="#000" stroke-width="1.1"/>
<circle cx="76.6" cy="393.0" r="2.25" fill="#0000a4" stroke="#000" stroke-width="1.1"/>
<circle cx="77.4" cy="388.0" r="2.25" fill="#0000a4" stroke="#000" stroke-width="1.1"/>
<circle cx="77.6" cy="394.0" r="2.25" fill="#0000a4" stroke="#000" stroke-width="1.1"/>
<circle cx="77.2" cy="398.4" r="2.25" fill="#0000a4" stroke="#000" stroke-width="1.1"/>
<circle cx="73.8" cy="393.4" r="2.25" fill="#0000a4" stroke="#000" stroke-width="1.1"/>
<circle cx="74.6" cy="396.2" r="2.25" fill="#0000a4" stroke="#000" stroke-width="1.1"/>
<circle cx="73.9" cy="400.6" r="2.25" fill="#0000a4" stroke="#000" stroke-width="1.1"/>
<circle cx="79.2" cy="393.4" r="2.25" fill="#0000a4" stroke="#000" stroke-width="1.1"/>
<circle cx="79.9" cy="391.9" r="2.25" fill="#0000a4" stroke="#000" stroke-width="1.1"/>
<circle cx="78.7" cy="397.7" r="2.25" fill="#0000a4" stroke="#000" stroke-width="1.1"/>
<circle cx="80.1" cy="401.7" r="2.25" fill="#0000a4" stroke="#000" stroke-width="1.1"/>
<circle cx="81.0" cy="398.4" r="2.25" fill="#0000a4" stroke="#000" stroke-width="1.1"/>
<circle cx="82.7" cy="393.0" r="2.25" fill="#0000a4" stroke="#000" stroke-width="1.1"/>
<circle cx="85.5" cy="276.1" r="2.25" fill="#0000a4" stroke="#000" stroke-width="1.1"/>
<circle cx="88.7" cy="275.0" r="2.25" fill="#0000a4" stroke="#000" stroke-width="1.1"/>
<circle cx="83.1" cy="291.3" r="2.25" fill="#0000a4" stroke="#000" stroke-width="1.1"/>
<circle cx="85.1" cy="298.7" r="2.25" fill="#0000a4" stroke="#000" stroke-width="1.1"/>
<circle cx="84.4" cy="305.9" r="2.25" fill="#0000a4" stroke="#000" stroke-width="1.1"/>
<circle cx="84.9" cy="308.1" r="2.25" fill="#0000a4" stroke="#000" stroke-width="1.1"/>
<circle cx="85.4" cy="315.0" r="2.25" fill="#0000a4" stroke="#000" stroke-width="1.1"/>
<circle cx="89.6" cy="301.1" r="2.25" fill="#0000a4" stroke="#000" stroke-width="1.1"/>
<circle cx="89.3" cy="306.3" r="2.25" fill="#0000a4" stroke="#000" stroke-width="1.1"/>
<circle cx="90.9" cy="318.5" r="2.25" fill="#0000a4" stroke="#000" stroke-width="1.1"/>
<circle cx="90.4" cy="324.0" r="2.25" fill="#0000a4" stroke="#000" stroke-width="1.1"/>
<circle cx="88.1" cy="323.7" r="2.25" fill="#0000a4" stroke="#000" stroke-width="1.1"/>
<circle cx="88.4" cy="332.7" r="2.25" fill="#0000a4" stroke="#000" stroke-width="1.1"/>
<circle cx="90.1" cy="337.4" r="2.25" fill="#0000a4" stroke="#000" stroke-width="1.1"/>
<circle cx="83.3" cy="336.4" r="2.25" fill="#0000a4" stroke="#000" stroke-width="1.1"/>
<circle cx="84.0" cy="343.5" r="2.25" fill="#0000a4" stroke="#000" stroke-width="1.1"/>
<circle cx="85.6" cy="343.3" r="2.25" fill="#0000a4" stroke="#000" stroke-width="1.1"/>
<circle cx="86.4" cy="339.6" r="2.25" fill="#0000a4" stroke="#000" stroke-width="1.1"/>
<circle cx="87.2" cy="338.5" r="2.25" fill="#0000a4" stroke="#000" stroke-width="1.1"/>
<circle cx="87.8" cy="346.8" r="2.25" fill="#0000a4" stroke="#000" stroke-width="1.1"/>
<circle cx="86.4" cy="348.8" r="2.25" fill="#0000a4" stroke="#000" stroke-width="1.1"/>
<circle cx="86.1" cy="352.7" r="2.25" fill="#0000a4" stroke="#000" stroke-width="1.1"/>
<circle cx="87.2" cy="350.9" r="2.25" fill="#0000a4" stroke="#000" stroke-width="1.1"/>
<circle cx="85.7" cy="355.3" r="2.25" fill="#0000a4" stroke="#000" stroke-width="1.1"/>
<circle cx="84.2" cy="355.5" r="2.25" fill="#0000a4" stroke="#000" stroke-width="1.1"/>
<circle cx="85.7" cy="362.9" r="2.25" fill="#0000a4" stroke="#000" stroke-width="1.1"/>
<circle cx="89.7" cy="373.4" r="2.25" fill="#0000a4" stroke="#000" stroke-width="1.1"/>
<circle cx="86.4" cy="383.6" r="2.25" fill="#0000a4" stroke="#000" stroke-width="1.1"/>
<circle cx="83.4" cy="383.2" r="2.25" fill="#0000a4" stroke="#000" stroke-width="1.1"/>
<circle cx="84.6" cy="393.6" r="2.25" fill="#0000a4" stroke="#000" stroke-width="1.1"/>
<circle cx="83.6" cy="398.8" r="2.25" fill="#0000a4" stroke="#000" stroke-width="1.1"/>
<circle cx="78.8" cy="352.7" r="2.25" fill="#0000a4" stroke="#000" stroke-width="1.1"/>
<circle cx="80.9" cy="363.2" r="2.25" fill="#0000a4" stroke="#000" stroke-width="1.1"/>
<circle cx="109.9" cy="243.8" r="2.25" fill="#167016" stroke="#000" stroke-width="1.1"/>
<circle cx="123.6" cy="269.5" r="2.25" fill="#167016" stroke="#000" stroke-width="1.1"/>
<circle cx="94.6" cy="281.7" r="2.25" fill="#167016" stroke="#000" stroke-width="1.1"/>
<circle cx="167.6" cy="302.1" r="2.25" fill="#167016" stroke="#000" stroke-width="1.1"/>
<circle cx="213.3" cy="314.6" r="2.25" fill="#167016" stroke="#000" stroke-width="1.1"/>
<circle cx="124.7" cy="324.7" r="2.25" fill="#167016" stroke="#000" stroke-width="1.1"/>
<circle cx="136.7" cy="329.0" r="2.25" fill="#167016" stroke="#000" stroke-width="1.1"/>
<circle cx="180.7" cy="329.6" r="2.25" fill="#167016" stroke="#000" stroke-width="1.1"/>
<circle cx="169.3" cy="346.8" r="2.25" fill="#167016" stroke="#000" stroke-width="1.1"/>
<circle cx="124.7" cy="351.5" r="2.25" fill="#167016" stroke="#000" stroke-width="1.1"/>
<circle cx="110.3" cy="356.8" r="2.25" fill="#167016" stroke="#000" stroke-width="1.1"/>
<circle cx="189.3" cy="360.7" r="2.25" fill="#167016" stroke="#000" stroke-width="1.1"/>
<circle cx="209.7" cy="359.0" r="2.25" fill="#167016" stroke="#000" stroke-width="1.1"/>
<circle cx="175.3" cy="367.6" r="2.25" fill="#167016" stroke="#000" stroke-width="1.1"/>
<circle cx="206.9" cy="364.4" r="2.25" fill="#167016" stroke="#000" stroke-width="1.1"/>
<circle cx="117.4" cy="374.0" r="2.25" fill="#167016" stroke="#000" stroke-width="1.1"/>
<circle cx="189.3" cy="377.2" r="2.25" fill="#167016" stroke="#000" stroke-width="1.1"/>
<circle cx="113.5" cy="382.6" r="2.25" fill="#167016" stroke="#000" stroke-width="1.1"/>
<circle cx="101.7" cy="399.8" r="2.25" fill="#167016" stroke="#000" stroke-width="1.1"/>
<circle cx="169.3" cy="392.3" r="2.25" fill="#167016" stroke="#000" stroke-width="1.1"/>
<circle cx="128.6" cy="394.4" r="2.25" fill="#167016" stroke="#000" stroke-width="1.1"/>
<circle cx="287.4" cy="281.1" r="2.25" fill="#167016" stroke="#000" stroke-width="1.1"/>
<circle cx="358.6" cy="264.6" r="2.25" fill="#167016" stroke="#000" stroke-width="1.1"/>
<circle cx="260.5" cy="330.5" r="2.25" fill="#167016" stroke="#000" stroke-width="1.1"/>
<circle cx="350.0" cy="340.8" r="2.25" fill="#167016" stroke="#000" stroke-width="1.1"/>
<circle cx="304.5" cy="347.6" r="2.25" fill="#167016" stroke="#000" stroke-width="1.1"/>
<circle cx="265.3" cy="354.3" r="2.25" fill="#167016" stroke="#000" stroke-width="1.1"/>
<circle cx="263.8" cy="357.9" r="2.25" fill="#167016" stroke="#000" stroke-width="1.1"/>
<circle cx="300.7" cy="368.0" r="2.25" fill="#167016" stroke="#000" stroke-width="1.1"/>
<circle cx="247.7" cy="389.0" r="2.25" fill="#167016" stroke="#000" stroke-width="1.1"/>
<circle cx="251.3" cy="392.9" r="2.25" fill="#167016" stroke="#000" stroke-width="1.1"/>
<circle cx="313.5" cy="397.0" r="2.25" fill="#167016" stroke="#000" stroke-width="1.1"/>
<circle cx="396.8" cy="264.6" r="2.25" fill="#167016" stroke="#000" stroke-width="1.1"/>
<circle cx="442.9" cy="341.4" r="2.25" fill="#167016" stroke="#000" stroke-width="1.1"/>
<circle cx="440.8" cy="357.5" r="2.25" fill="#167016" stroke="#000" stroke-width="1.1"/>
<circle cx="445.1" cy="359.6" r="2.25" fill="#167016" stroke="#000" stroke-width="1.1"/>
<circle cx="396.8" cy="364.8" r="2.25" fill="#167016" stroke="#000" stroke-width="1.1"/>
<circle cx="413.5" cy="370.2" r="2.25" fill="#167016" stroke="#000" stroke-width="1.1"/>
<circle cx="506.7" cy="325.1" r="2.25" fill="#167016" stroke="#000" stroke-width="1.1"/>
<circle cx="514.8" cy="311.4" r="2.25" fill="#167016" stroke="#000" stroke-width="1.1"/>
<circle cx="525.1" cy="366.9" r="2.25" fill="#167016" stroke="#000" stroke-width="1.1"/>
<circle cx="540.6" cy="281.1" r="2.25" fill="#167016" stroke="#000" stroke-width="1.1"/>
<circle cx="591.4" cy="316.5" r="2.25" fill="#167016" stroke="#000" stroke-width="1.1"/>
<circle cx="616.8" cy="307.9" r="2.25" fill="#167016" stroke="#000" stroke-width="1.1"/>
<circle cx="556.2" cy="385.4" r="2.25" fill="#167016" stroke="#000" stroke-width="1.1"/>
<circle cx="584.1" cy="382.6" r="2.25" fill="#167016" stroke="#000" stroke-width="1.1"/>
<circle cx="631.1" cy="384.7" r="2.25" fill="#167016" stroke="#000" stroke-width="1.1"/>
<circle cx="663.3" cy="393.8" r="2.25" fill="#167016" stroke="#000" stroke-width="1.1"/>
<circle cx="667.2" cy="399.3" r="2.25" fill="#167016" stroke="#000" stroke-width="1.1"/>
<circle cx="138.2" cy="368.4" r="2.25" fill="#167016" stroke="#000" stroke-width="1.1"/>
<circle cx="168.3" cy="362.9" r="2.25" fill="#167016" stroke="#000" stroke-width="1.1"/>
<circle cx="58.4" cy="231.2" r="2.25" fill="#167016" stroke="#000" stroke-width="1.1"/>
<circle cx="60.3" cy="239.1" r="2.25" fill="#167016" stroke="#000" stroke-width="1.1"/>
<circle cx="57.5" cy="279.3" r="2.25" fill="#167016" stroke="#000" stroke-width="1.1"/>
<circle cx="59.1" cy="275.0" r="2.25" fill="#167016" stroke="#000" stroke-width="1.1"/>
<circle cx="54.7" cy="290.0" r="2.25" fill="#167016" stroke="#000" stroke-width="1.1"/>
<circle cx="57.9" cy="297.2" r="2.25" fill="#167016" stroke="#000" stroke-width="1.1"/>
<circle cx="61.1" cy="274.8" r="2.25" fill="#167016" stroke="#000" stroke-width="1.1"/>
<circle cx="60.5" cy="354.9" r="2.25" fill="#167016" stroke="#000" stroke-width="1.1"/>
<circle cx="61.6" cy="355.5" r="2.25" fill="#167016" stroke="#000" stroke-width="1.1"/>
<circle cx="62.3" cy="368.4" r="2.25" fill="#167016" stroke="#000" stroke-width="1.1"/>
<circle cx="62.3" cy="383.6" r="2.25" fill="#167016" stroke="#000" stroke-width="1.1"/>
<circle cx="56.7" cy="314.2" r="2.25" fill="#167016" stroke="#000" stroke-width="1.1"/>
<circle cx="55.6" cy="358.3" r="2.25" fill="#167016" stroke="#000" stroke-width="1.1"/>
<circle cx="57.4" cy="367.7" r="2.25" fill="#167016" stroke="#000" stroke-width="1.1"/>
<circle cx="55.1" cy="375.2" r="2.25" fill="#167016" stroke="#000" stroke-width="1.1"/>
<circle cx="56.6" cy="387.9" r="2.25" fill="#167016" stroke="#000" stroke-width="1.1"/>
<circle cx="55.4" cy="391.1" r="2.25" fill="#167016" stroke="#000" stroke-width="1.1"/>
<circle cx="59.5" cy="358.3" r="2.25" fill="#167016" stroke="#000" stroke-width="1.1"/>
<circle cx="59.3" cy="393.0" r="2.25" fill="#167016" stroke="#000" stroke-width="1.1"/>
<circle cx="54.1" cy="364.8" r="2.25" fill="#167016" stroke="#000" stroke-width="1.1"/>
<circle cx="64.4" cy="257.3" r="2.25" fill="#167016" stroke="#000" stroke-width="1.1"/>
<circle cx="70.0" cy="303.7" r="2.25" fill="#167016" stroke="#000" stroke-width="1.1"/>
<circle cx="71.0" cy="302.0" r="2.25" fill="#167016" stroke="#000" stroke-width="1.1"/>
<circle cx="67.2" cy="317.9" r="2.25" fill="#167016" stroke="#000" stroke-width="1.1"/>
<circle cx="66.3" cy="316.8" r="2.25" fill="#167016" stroke="#000" stroke-width="1.1"/>
<circle cx="69.4" cy="321.8" r="2.25" fill="#167016" stroke="#000" stroke-width="1.1"/>
<circle cx="69.7" cy="326.1" r="2.25" fill="#167016" stroke="#000" stroke-width="1.1"/>
<circle cx="71.6" cy="332.7" r="2.25" fill="#167016" stroke="#000" stroke-width="1.1"/>
<circle cx="71.7" cy="337.4" r="2.25" fill="#167016" stroke="#000" stroke-width="1.1"/>
<circle cx="64.6" cy="333.1" r="2.25" fill="#167016" stroke="#000" stroke-width="1.1"/>
<circle cx="65.8" cy="343.3" r="2.25" fill="#167016" stroke="#000" stroke-width="1.1"/>
<circle cx="64.6" cy="352.7" r="2.25" fill="#167016" stroke="#000" stroke-width="1.1"/>
<circle cx="68.7" cy="353.8" r="2.25" fill="#167016" stroke="#000" stroke-width="1.1"/>
<circle cx="69.4" cy="351.6" r="2.25" fill="#167016" stroke="#000" stroke-width="1.1"/>
<circle cx="70.1" cy="379.9" r="2.25" fill="#167016" stroke="#000" stroke-width="1.1"/>
<circle cx="67.9" cy="393.0" r="2.25" fill="#167016" stroke="#000" stroke-width="1.1"/>
<circle cx="71.8" cy="390.3" r="2.25" fill="#167016" stroke="#000" stroke-width="1.1"/>
<circle cx="79.5" cy="206.8" r="2.25" fill="#167016" stroke="#000" stroke-width="1.1"/>
<circle cx="73.4" cy="223.2" r="2.25" fill="#167016" stroke="#000" stroke-width="1.1"/>
<circle cx="77.0" cy="216.6" r="2.25" fill="#167016" stroke="#000" stroke-width="1.1"/>
<circle cx="75.3" cy="239.5" r="2.25" fill="#167016" stroke="#000" stroke-width="1.1"/>
<circle cx="78.8" cy="242.8" r="2.25" fill="#167016" stroke="#000" stroke-width="1.1"/>
<circle cx="79.7" cy="276.9" r="2.25" fill="#167016" stroke="#000" stroke-width="1.1"/>
<circle cx="80.0" cy="341.4" r="2.25" fill="#167016" stroke="#000" stroke-width="1.1"/>
<circle cx="74.8" cy="350.1" r="2.25" fill="#167016" stroke="#000" stroke-width="1.1"/>
<circle cx="74.0" cy="361.0" r="2.25" fill="#167016" stroke="#000" stroke-width="1.1"/>
<circle cx="78.5" cy="361.0" r="2.25" fill="#167016" stroke="#000" stroke-width="1.1"/>
<circle cx="81.2" cy="357.0" r="2.25" fill="#167016" stroke="#000" stroke-width="1.1"/>
<circle cx="79.8" cy="383.2" r="2.25" fill="#167016" stroke="#000" stroke-width="1.1"/>
<circle cx="80.4" cy="385.8" r="2.25" fill="#167016" stroke="#000" stroke-width="1.1"/>
<circle cx="87.1" cy="313.5" r="2.25" fill="#167016" stroke="#000" stroke-width="1.1"/>
<circle cx="95.7" cy="318.2" r="7.75" fill="#ffff00" stroke="#000" stroke-width="1.5"/>
<circle cx="132.4" cy="338.6" r="7.75" fill="#ffff00" stroke="#000" stroke-width="1.5"/>
<circle cx="203.0" cy="307.9" r="7.75" fill="#ffff00" stroke="#000" stroke-width="1.5"/>
<circle cx="130.7" cy="381.5" r="7.75" fill="#ffff00" stroke="#000" stroke-width="1.5"/>
<circle cx="166.5" cy="375.1" r="7.75" fill="#ffff00" stroke="#000" stroke-width="1.5"/>
<circle cx="173.6" cy="377.9" r="7.75" fill="#ffff00" stroke="#000" stroke-width="1.5"/>
<circle cx="250.4" cy="344.4" r="7.75" fill="#ffff00" stroke="#000" stroke-width="1.5"/>
<circle cx="496.2" cy="258.6" r="7.75" fill="#ffff00" stroke="#000" stroke-width="1.5"/>
<circle cx="524.9" cy="299.8" r="7.75" fill="#ffff00" stroke="#000" stroke-width="1.5"/>
<circle cx="526.2" cy="306.2" r="7.75" fill="#ffff00" stroke="#000" stroke-width="1.5"/>
<circle cx="74.3" cy="185.1" r="7.75" fill="#ffff00" stroke="#000" stroke-width="1.5"/>
<circle cx="61.2" cy="262.3" r="7.75" fill="#ffff00" stroke="#000" stroke-width="1.5"/>
<circle cx="59.7" cy="289.1" r="7.75" fill="#ffff00" stroke="#000" stroke-width="1.5"/>
<circle cx="60.4" cy="340.1" r="7.75" fill="#ffff00" stroke="#000" stroke-width="1.5"/>
<circle cx="60.3" cy="399.5" r="7.75" fill="#ffff00" stroke="#000" stroke-width="1.5"/>
<circle cx="63.1" cy="391.9" r="7.75" fill="#ffff00" stroke="#000" stroke-width="1.5"/>
<circle cx="59.4" cy="330.1" r="7.75" fill="#ffff00" stroke="#000" stroke-width="1.5"/>
<circle cx="59.0" cy="377.1" r="7.75" fill="#ffff00" stroke="#000" stroke-width="1.5"/>
<circle cx="59.7" cy="373.0" r="7.75" fill="#ffff00" stroke="#000" stroke-width="1.5"/>
<circle cx="54.3" cy="387.9" r="7.75" fill="#ffff00" stroke="#000" stroke-width="1.5"/>
<circle cx="68.4" cy="259.7" r="7.75" fill="#ffff00" stroke="#000" stroke-width="1.5"/>
<circle cx="67.8" cy="342.5" r="7.75" fill="#ffff00" stroke="#000" stroke-width="1.5"/>
<circle cx="67.7" cy="364.7" r="7.75" fill="#ffff00" stroke="#000" stroke-width="1.5"/>
<circle cx="71.9" cy="348.3" r="7.75" fill="#ffff00" stroke="#000" stroke-width="1.5"/>
<circle cx="71.8" cy="371.8" r="7.75" fill="#ffff00" stroke="#000" stroke-width="1.5"/>
<circle cx="72.0" cy="400.1" r="7.75" fill="#ffff00" stroke="#000" stroke-width="1.5"/>
<circle cx="75.3" cy="292.4" r="7.75" fill="#ffff00" stroke="#000" stroke-width="1.5"/>
<circle cx="78.6" cy="377.3" r="7.75" fill="#ffff00" stroke="#000" stroke-width="1.5"/>
<circle cx="87.3" cy="363.6" r="7.75" fill="#ffff00" stroke="#000" stroke-width="1.5"/>
<path d="M54.0 403.3 L54.0 403.2 L54.0 403.1 L54.0 403.0 L54.1 402.9 L54.1 402.9 L54.1 402.8 L54.2 402.7 L54.3 402.6 L54.3 402.5 L54.4 402.4 L54.5 402.3 L54.6 402.2 L54.7 402.1 L54.8 402.1 L54.9 402.0 L55.0 401.9 L55.1 401.8 L55.3 401.7 L55.4 401.6 L55.6 401.5 L55.7 401.4 L55.9 401.3 L56.1 401.3 L56.3 401.2 L56.5 401.1 L56.7 401.0 L56.9 400.9 L57.1 400.8 L57.3 400.7 L57.5 400.6 L57.8 400.5 L58.0 400.5 L58.3 400.4 L58.5 400.3 L58.8 400.2 L59.1 400.1 L59.4 400.0 L59.7 399.9 L60.0 399.8 L60.3 399.7 L60.6 399.7 L60.9 399.6 L61.3 399.5 L61.6 399.4 L62.0 399.3 L62.3 399.2 L62.7 399.1 L63.1 399.0 L63.4 398.9 L63.8 398.9 L64.2 398.8 L64.6 398.7 L65.0 398.6 L65.5 398.5 L65.9 398.4 L66.3 398.3 L66.8 398.2 L67.2 398.2 L67.7 398.1 L68.1 398.0 L68.6 397.9 L69.1 397.8 L69.6 397.7 L70.1 397.6 L70.6 397.5 L71.1 397.4 L71.6 397.4 L72.2 397.3 L72.7 397.2 L73.3 397.1 L73.8 397.0 L74.4 396.9 L74.9 396.8 L75.5 396.7 L76.1 396.6 L76.7 396.6 L77.3 396.5 L77.9 396.4 L78.5 396.3 L79.1 396.2 L79.8 396.1 L80.4 396.0 L81.1 395.9 L81.7 395.8 L82.4 395.8 L83.1 395.7 L83.7 395.6 L84.4 395.5 L85.1 395.4 L85.8 395.3 L86.5 395.2 L87.3 395.1 L88.0 395.0 L88.7 395.0 L89.5 394.9 L90.2 394.8 L91.0 394.7 L91.7 394.6 L92.5 394.5 L93.3 394.4 L94.1 394.3 L94.9 394.2 L95.7 394.2 L96.5 394.1 L97.3 394.0 L98.1 393.9 L99.0 393.8 L99.8 393.7 L100.7 393.6 L101.5 393.5 L102.4 393.4 L103.3 393.4 L104.2 393.3 L105.1 393.2 L106.0 393.1 L106.9 393.0 L107.8 392.9 L108.7 392.8 L109.6 392.7 L110.6 392.6 L111.5 392.6 L112.5 392.5 L113.4 392.4 L114.4 392.3 L115.4 392.2 L116.4 392.1 L117.4 392.0 L118.4 391.9 L119.4 391.8 L120.4 391.8 L121.4 391.7 L122.5 391.6 L123.5 391.5 L124.5 391.4 L125.6 391.3 L126.7 391.2 L127.7 391.1 L128.8 391.0 L129.9 391.0 L131.0 390.9 L132.1 390.8 L133.2 390.7 L134.3 390.6 L135.5 390.5 L136.6 390.4 L137.7 390.3 L138.9 390.2 L140.1 390.2 L141.2 390.1 L142.4 390.0 L143.6 389.9 L144.8 389.8 L146.0 389.7 L147.2 389.6 L148.4 389.5 L149.6 389.4 L150.8 389.4 L152.1 389.3 L153.3 389.2 L154.6 389.1 L155.8 389.0 L157.1 388.9 L158.4 388.8 L159.7 388.7 L161.0 388.7 L162.3 388.6 L163.6 388.5 L164.9 388.4 L166.2 388.3 L167.5 388.2 L168.9 388.1 L170.2 388.0 L171.6 387.9 L172.9 387.9 L174.3 387.8 L175.7 387.7 L177.1 387.6 L178.5 387.5 L179.9 387.4 L181.3 387.3 L182.7 387.2 L184.1 387.1 L185.6 387.1 L187.0 387.0 L188.5 386.9 L189.9 386.8 L191.4 386.7 L192.9 386.6 L194.3 386.5 L195.8 386.4 L197.3 386.3 L198.8 386.3 L200.3 386.2 L201.9 386.1 L203.4 386.0 L204.9 385.9 L206.5 385.8 L208.0 385.7 L209.6 385.6 L211.1 385.5 L212.7 385.5 L214.3 385.4 L215.9 385.3 L217.5 385.2 L219.1 385.1 L220.7 385.0 L222.3 384.9 L224.0 384.8 L225.6 384.7 L227.3 384.7 L228.9 384.6 L230.6 384.5 L232.2 384.4 L233.9 384.3 L235.6 384.2 L237.3 384.1 L239.0 384.0 L240.7 383.9 L242.4 383.9 L244.1 383.8 L245.9 383.7 L247.6 383.6 L249.4 383.5 L251.1 383.4 L252.9 383.3 L254.7 383.2 L256.4 383.1 L258.2 383.1 L260.0 383.0 L261.8 382.9 L263.6 382.8 L265.5 382.7 L267.3 382.6 L269.1 382.5 L271.0 382.4 L272.8 382.3 L274.7 382.3 L276.5 382.2 L278.4 382.1 L280.3 382.0 L282.2 381.9 L284.1 381.8 L286.0 381.7 L287.9 381.6 L289.8 381.5 L291.8 381.5 L293.7 381.4 L295.6 381.3 L297.6 381.2 L299.5 381.1 L301.5 381.0 L303.5 380.9 L305.5 380.8 L307.5 380.7 L309.5 380.7 L311.5 380.6 L313.5 380.5 L315.5 380.4 L317.5 380.3 L319.6 380.2 L321.6 380.1 L323.7 380.0 L325.7 380.0 L327.8 379.9 L329.9 379.8 L332.0 379.7 L334.1 379.6 L336.2 379.5 L338.3 379.4 L340.4 379.3 L342.5 379.2 L344.7 379.2 L346.8 379.1 L349.0 379.0 L351.1 378.9 L353.3 378.8 L355.4 378.7 L357.6 378.6 L359.8 378.5 L362.0 378.4 L364.2 378.4 L366.4 378.3 L368.6 378.2 L370.9 378.1 L373.1 378.0 L375.4 377.9 L377.6 377.8 L379.9 377.7 L382.1 377.6 L384.4 377.6 L386.7 377.5 L389.0 377.4 L391.3 377.3 L393.6 377.2 L395.9 377.1 L398.2 377.0 L400.5 376.9 L402.9 376.8 L405.2 376.8 L407.6 376.7 L409.9 376.6 L412.3 376.5 L414.7 376.4 L417.1 376.3 L419.5 376.2 L421.9 376.1 L424.3 376.0 L426.7 376.0 L429.1 375.9 L431.5 375.8 L434.0 375.7 L436.4 375.6 L438.9 375.5 L441.4 375.4 L443.8 375.3 L446.3 375.2 L448.8 375.2 L451.3 375.1 L453.8 375.0 L456.3 374.9 L458.8 374.8 L461.3 374.7 L463.9 374.6 L466.4 374.5 L469.0 374.4 L471.5 374.4 L474.1 374.3 L476.7 374.2 L479.2 374.1 L481.8 374.0 L484.4 373.9 L487.0 373.8 L489.7 373.7 L492.3 373.6 L494.9 373.6 L497.5 373.5 L500.2 373.4 L502.8 373.3 L505.5 373.2 L508.2 373.1 L510.8 373.0 L513.5 372.9 L516.2 372.8 L518.9 372.8 L521.6 372.7 L524.3 372.6 L527.1 372.5 L529.8 372.4 L532.5 372.3 L535.3 372.2 L538.0 372.1 L540.8 372.0 L543.6 372.0 L546.3 371.9 L549.1 371.8 L551.9 371.7 L554.7 371.6 L557.5 371.5 L560.3 371.4 L563.2 371.3 L566.0 371.2 L568.8 371.2 L571.7 371.1 L574.5 371.0 L577.4 370.9 L580.3 370.8 L583.2 370.7 L586.0 370.6 L588.9 370.5 L591.8 370.5 L594.8 370.4 L597.7 370.3 L600.6 370.2 L603.5 370.1 L606.5 370.0 L609.4 369.9 L612.4 369.8 L615.4 369.7 L618.3 369.7 L621.3 369.6 L624.3 369.5 L627.3 369.4 L630.3 369.3 L633.3 369.2 L636.3 369.1 L639.4 369.0 L642.4 368.9 L645.4 368.9 L648.5 368.8 L651.6 368.7 L654.6 368.6 L657.7 368.5 L660.8 368.4 L663.9 368.3 L667.0 368.2 L670.1 368.1 L673.2 368.1 L676.3 368.0 L679.5 367.9 L682.6 367.8" fill="none" stroke="#1f77b4" stroke-width="1.60" opacity="1"/>
<path d="M54.0 403.3 L54.0 403.0 L54.0 402.7 L54.0 402.5 L54.1 402.2 L54.1 401.9 L54.1 401.6 L54.2 401.3 L54.3 401.1 L54.3 400.8 L54.4 400.5 L54.5 400.2 L54.6 399.9 L54.7 399.7 L54.8 399.4 L54.9 399.1 L55.0 398.8 L55.1 398.5 L55.3 398.2 L55.4 398.0 L55.6 397.7 L55.7 397.4 L55.9 397.1 L56.1 396.8 L56.3 396.6 L56.5 396.3 L56.7 396.0 L56.9 395.7 L57.1 395.4 L57.3 395.2 L57.5 394.9 L57.8 394.6 L58.0 394.3 L58.3 394.0 L58.5 393.8 L58.8 393.5 L59.1 393.2 L59.4 392.9 L59.7 392.6 L60.0 392.4 L60.3 392.1 L60.6 391.8 L60.9 391.5 L61.3 391.2 L61.6 390.9 L62.0 390.7 L62.3 390.4 L62.7 390.1 L63.1 389.8 L63.4 389.5 L63.8 389.3 L64.2 389.0 L64.6 388.7 L65.0 388.4 L65.5 388.1 L65.9 387.9 L66.3 387.6 L66.8 387.3 L67.2 387.0 L67.7 386.7 L68.1 386.5 L68.6 386.2 L69.1 385.9 L69.6 385.6 L70.1 385.3 L70.6 385.1 L71.1 384.8 L71.6 384.5 L72.2 384.2 L72.7 383.9 L73.3 383.6 L73.8 383.4 L74.4 383.1 L74.9 382.8 L75.5 382.5 L76.1 382.2 L76.7 382.0 L77.3 381.7 L77.9 381.4 L78.5 381.1 L79.1 380.8 L79.8 380.6 L80.4 380.3 L81.1 380.0 L81.7 379.7 L82.4 379.4 L83.1 379.2 L83.7 378.9 L84.4 378.6 L85.1 378.3 L85.8 378.0 L86.5 377.8 L87.3 377.5 L88.0 377.2 L88.7 376.9 L89.5 376.6 L90.2 376.3 L91.0 376.1 L91.7 375.8 L92.5 375.5 L93.3 375.2 L94.1 374.9 L94.9 374.7 L95.7 374.4 L96.5 374.1 L97.3 373.8 L98.1 373.5 L99.0 373.3 L99.8 373.0 L100.7 372.7 L101.5 372.4 L102.4 372.1 L103.3 371.9 L104.2 371.6 L105.1 371.3 L106.0 371.0 L106.9 370.7 L107.8 370.5 L108.7 370.2 L109.6 369.9 L110.6 369.6 L111.5 369.3 L112.5 369.0 L113.4 368.8 L114.4 368.5 L115.4 368.2 L116.4 367.9 L117.4 367.6 L118.4 367.4 L119.4 367.1 L120.4 366.8 L121.4 366.5 L122.5 366.2 L123.5 366.0 L124.5 365.7 L125.6 365.4 L126.7 365.1 L127.7 364.8 L128.8 364.6 L129.9 364.3 L131.0 364.0 L132.1 363.7 L133.2 363.4 L134.3 363.2 L135.5 362.9 L136.6 362.6 L137.7 362.3 L138.9 362.0 L140.1 361.7 L141.2 361.5 L142.4 361.2 L143.6 360.9 L144.8 360.6 L146.0 360.3 L147.2 360.1 L148.4 359.8 L149.6 359.5 L150.8 359.2 L152.1 358.9 L153.3 358.7 L154.6 358.4 L155.8 358.1 L157.1 357.8 L158.4 357.5 L159.7 357.3 L161.0 357.0 L162.3 356.7 L163.6 356.4 L164.9 356.1 L166.2 355.9 L167.5 355.6 L168.9 355.3 L170.2 355.0 L171.6 354.7 L172.9 354.4 L174.3 354.2 L175.7 353.9 L177.1 353.6 L178.5 353.3 L179.9 353.0 L181.3 352.8 L182.7 352.5 L184.1 352.2 L185.6 351.9 L187.0 351.6 L188.5 351.4 L189.9 351.1 L191.4 350.8 L192.9 350.5 L194.3 350.2 L195.8 350.0 L197.3 349.7 L198.8 349.4 L200.3 349.1 L201.9 348.8 L203.4 348.6 L204.9 348.3 L206.5 348.0 L208.0 347.7 L209.6 347.4 L211.1 347.1 L212.7 346.9 L214.3 346.6 L215.9 346.3 L217.5 346.0 L219.1 345.7 L220.7 345.5 L222.3 345.2 L224.0 344.9 L225.6 344.6 L227.3 344.3 L228.9 344.1 L230.6 343.8 L232.2 343.5 L233.9 343.2 L235.6 342.9 L237.3 342.7 L239.0 342.4 L240.7 342.1 L242.4 341.8 L244.1 341.5 L245.9 341.3 L247.6 341.0 L249.4 340.7 L251.1 340.4 L252.9 340.1 L254.7 339.8 L256.4 339.6 L258.2 339.3 L260.0 339.0 L261.8 338.7 L263.6 338.4 L265.5 338.2 L267.3 337.9 L269.1 337.6 L271.0 337.3 L272.8 337.0 L274.7 336.8 L276.5 336.5 L278.4 336.2 L280.3 335.9 L282.2 335.6 L284.1 335.4 L286.0 335.1 L287.9 334.8 L289.8 334.5 L291.8 334.2 L293.7 334.0 L295.6 333.7 L297.6 333.4 L299.5 333.1 L301.5 332.8 L303.5 332.5 L305.5 332.3 L307.5 332.0 L309.5 331.7 L311.5 331.4 L313.5 331.1 L315.5 330.9 L317.5 330.6 L319.6 330.3 L321.6 330.0 L323.7 329.7 L325.7 329.5 L327.8 329.2 L329.9 328.9 L332.0 328.6 L334.1 328.3 L336.2 328.1 L338.3 327.8 L340.4 327.5 L342.5 327.2 L344.7 326.9 L346.8 326.7 L349.0 326.4 L351.1 326.1 L353.3 325.8 L355.4 325.5 L357.6 325.2 L359.8 325.0 L362.0 324.7 L364.2 324.4 L366.4 324.1 L368.6 323.8 L370.9 323.6 L373.1 323.3 L375.4 323.0 L377.6 322.7 L379.9 322.4 L382.1 322.2 L384.4 321.9 L386.7 321.6 L389.0 321.3 L391.3 321.0 L393.6 320.8 L395.9 320.5 L398.2 320.2 L400.5 319.9 L402.9 319.6 L405.2 319.4 L407.6 319.1 L409.9 318.8 L412.3 318.5 L414.7 318.2 L417.1 317.9 L419.5 317.7 L421.9 317.4 L424.3 317.1 L426.7 316.8 L429.1 316.5 L431.5 316.3 L434.0 316.0 L436.4 315.7 L438.9 315.4 L441.4 315.1 L443.8 314.9 L446.3 314.6 L448.8 314.3 L451.3 314.0 L453.8 313.7 L456.3 313.5 L458.8 313.2 L461.3 312.9 L463.9 312.6 L466.4 312.3 L469.0 312.1 L471.5 311.8 L474.1 311.5 L476.7 311.2 L479.2 310.9 L481.8 310.7 L484.4 310.4 L487.0 310.1 L489.7 309.8 L492.3 309.5 L494.9 309.2 L497.5 309.0 L500.2 308.7 L502.8 308.4 L505.5 308.1 L508.2 307.8 L510.8 307.6 L513.5 307.3 L516.2 307.0 L518.9 306.7 L521.6 306.4 L524.3 306.2 L527.1 305.9 L529.8 305.6 L532.5 305.3 L535.3 305.0 L538.0 304.8 L540.8 304.5 L543.6 304.2 L546.3 303.9 L549.1 303.6 L551.9 303.4 L554.7 303.1 L557.5 302.8 L560.3 302.5 L563.2 302.2 L566.0 301.9 L568.8 301.7 L571.7 301.4 L574.5 301.1 L577.4 300.8 L580.3 300.5 L583.2 300.3 L586.0 300.0 L588.9 299.7 L591.8 299.4 L594.8 299.1 L597.7 298.9 L600.6 298.6 L603.5 298.3 L606.5 298.0 L609.4 297.7 L612.4 297.5 L615.4 297.2 L618.3 296.9 L621.3 296.6 L624.3 296.3 L627.3 296.1 L630.3 295.8 L633.3 295.5 L636.3 295.2 L639.4 294.9 L642.4 294.6 L645.4 294.4 L648.5 294.1 L651.6 293.8 L654.6 293.5 L657.7 293.2 L660.8 293.0 L663.9 292.7 L667.0 292.4 L670.1 292.1 L673.2 291.8 L676.3 291.6 L679.5 291.3 L682.6 291.0" fill="none" stroke="#ff7f0e" stroke-width="1.60" opacity="1"/>
<path d="M54.0 403.3 L54.0 402.8 L54.0 402.3 L54.0 401.8 L54.1 401.4 L54.1 400.9 L54.1 400.4 L54.2 399.9 L54.3 399.4 L54.3 398.9 L54.4 398.4 L54.5 398.0 L54.6 397.5 L54.7 397.0 L54.8 396.5 L54.9 396.0 L55.0 395.5 L55.1 395.0 L55.3 394.5 L55.4 394.1 L55.6 393.6 L55.7 393.1 L55.9 392.6 L56.1 392.1 L56.3 391.6 L56.5 391.1 L56.7 390.7 L56.9 390.2 L57.1 389.7 L57.3 389.2 L57.5 388.7 L57.8 388.2 L58.0 387.7 L58.3 387.3 L58.5 386.8 L58.8 386.3 L59.1 385.8 L59.4 385.3 L59.7 384.8 L60.0 384.3 L60.3 383.8 L60.6 383.4 L60.9 382.9 L61.3 382.4 L61.6 381.9 L62.0 381.4 L62.3 380.9 L62.7 380.4 L63.1 380.0 L63.4 379.5 L63.8 379.0 L64.2 378.5 L64.6 378.0 L65.0 377.5 L65.5 377.0 L65.9 376.6 L66.3 376.1 L66.8 375.6 L67.2 375.1 L67.7 374.6 L68.1 374.1 L68.6 373.6 L69.1 373.2 L69.6 372.7 L70.1 372.2 L70.6 371.7 L71.1 371.2 L71.6 370.7 L72.2 370.2 L72.7 369.7 L73.3 369.3 L73.8 368.8 L74.4 368.3 L74.9 367.8 L75.5 367.3 L76.1 366.8 L76.7 366.3 L77.3 365.9 L77.9 365.4 L78.5 364.9 L79.1 364.4 L79.8 363.9 L80.4 363.4 L81.1 362.9 L81.7 362.5 L82.4 362.0 L83.1 361.5 L83.7 361.0 L84.4 360.5 L85.1 360.0 L85.8 359.5 L86.5 359.0 L87.3 358.6 L88.0 358.1 L88.7 357.6 L89.5 357.1 L90.2 356.6 L91.0 356.1 L91.7 355.6 L92.5 355.2 L93.3 354.7 L94.1 354.2 L94.9 353.7 L95.7 353.2 L96.5 352.7 L97.3 352.2 L98.1 351.8 L99.0 351.3 L99.8 350.8 L100.7 350.3 L101.5 349.8 L102.4 349.3 L103.3 348.8 L104.2 348.3 L105.1 347.9 L106.0 347.4 L106.9 346.9 L107.8 346.4 L108.7 345.9 L109.6 345.4 L110.6 344.9 L111.5 344.5 L112.5 344.0 L113.4 343.5 L114.4 343.0 L115.4 342.5 L116.4 342.0 L117.4 341.5 L118.4 341.1 L119.4 340.6 L120.4 340.1 L121.4 339.6 L122.5 339.1 L123.5 338.6 L124.5 338.1 L125.6 337.7 L126.7 337.2 L127.7 336.7 L128.8 336.2 L129.9 335.7 L131.0 335.2 L132.1 334.7 L133.2 334.2 L134.3 333.8 L135.5 333.3 L136.6 332.8 L137.7 332.3 L138.9 331.8 L140.1 331.3 L141.2 330.8 L142.4 330.4 L143.6 329.9 L144.8 329.4 L146.0 328.9 L147.2 328.4 L148.4 327.9 L149.6 327.4 L150.8 327.0 L152.1 326.5 L153.3 326.0 L154.6 325.5 L155.8 325.0 L157.1 324.5 L158.4 324.0 L159.7 323.5 L161.0 323.1 L162.3 322.6 L163.6 322.1 L164.9 321.6 L166.2 321.1 L167.5 320.6 L168.9 320.1 L170.2 319.7 L171.6 319.2 L172.9 318.7 L174.3 318.2 L175.7 317.7 L177.1 317.2 L178.5 316.7 L179.9 316.3 L181.3 315.8 L182.7 315.3 L184.1 314.8 L185.6 314.3 L187.0 313.8 L188.5 313.3 L189.9 312.9 L191.4 312.4 L192.9 311.9 L194.3 311.4 L195.8 310.9 L197.3 310.4 L198.8 309.9 L200.3 309.4 L201.9 309.0 L203.4 308.5 L204.9 308.0 L206.5 307.5 L208.0 307.0 L209.6 306.5 L211.1 306.0 L212.7 305.6 L214.3 305.1 L215.9 304.6 L217.5 304.1 L219.1 303.6 L220.7 303.1 L222.3 302.6 L224.0 302.2 L225.6 301.7 L227.3 301.2 L228.9 300.7 L230.6 300.2 L232.2 299.7 L233.9 299.2 L235.6 298.7 L237.3 298.3 L239.0 297.8 L240.7 297.3 L242.4 296.8 L244.1 296.3 L245.9 295.8 L247.6 295.3 L249.4 294.9 L251.1 294.4 L252.9 293.9 L254.7 293.4 L256.4 292.9 L258.2 292.4 L260.0 291.9 L261.8 291.5 L263.6 291.0 L265.5 290.5 L267.3 290.0 L269.1 289.5 L271.0 289.0 L272.8 288.5 L274.7 288.1 L276.5 287.6 L278.4 287.1 L280.3 286.6 L282.2 286.1 L284.1 285.6 L286.0 285.1 L287.9 284.6 L289.8 284.2 L291.8 283.7 L293.7 283.2 L295.6 282.7 L297.6 282.2 L299.5 281.7 L301.5 281.2 L303.5 280.8 L305.5 280.3 L307.5 279.8 L309.5 279.3 L311.5 278.8 L313.5 278.3 L315.5 277.8 L317.5 277.4 L319.6 276.9 L321.6 276.4 L323.7 275.9 L325.7 275.4 L327.8 274.9 L329.9 274.4 L332.0 273.9 L334.1 273.5 L336.2 273.0 L338.3 272.5 L340.4 272.0 L342.5 271.5 L344.7 271.0 L346.8 270.5 L349.0 270.1 L351.1 269.6 L353.3 269.1 L355.4 268.6 L357.6 268.1 L359.8 267.6 L362.0 267.1 L364.2 266.7 L366.4 266.2 L368.6 265.7 L370.9 265.2 L373.1 264.7 L375.4 264.2 L377.6 263.7 L379.9 263.2 L382.1 262.8 L384.4 262.3 L386.7 261.8 L389.0 261.3 L391.3 260.8 L393.6 260.3 L395.9 259.8 L398.2 259.4 L400.5 258.9 L402.9 258.4 L405.2 257.9 L407.6 257.4 L409.9 256.9 L412.3 256.4 L414.7 256.0 L417.1 255.5 L419.5 255.0 L421.9 254.5 L424.3 254.0 L426.7 253.5 L429.1 253.0 L431.5 252.6 L434.0 252.1 L436.4 251.6 L438.9 251.1 L441.4 250.6 L443.8 250.1 L446.3 249.6 L448.8 249.1 L451.3 248.7 L453.8 248.2 L456.3 247.7 L458.8 247.2 L461.3 246.7 L463.9 246.2 L466.4 245.7 L469.0 245.3 L471.5 244.8 L474.1 244.3 L476.7 243.8 L479.2 243.3 L481.8 242.8 L484.4 242.3 L487.0 241.9 L489.7 241.4 L492.3 240.9 L494.9 240.4 L497.5 239.9 L500.2 239.4 L502.8 238.9 L505.5 238.4 L508.2 238.0 L510.8 237.5 L513.5 237.0 L516.2 236.5 L518.9 236.0 L521.6 235.5 L524.3 235.0 L527.1 234.6 L529.8 234.1 L532.5 233.6 L535.3 233.1 L538.0 232.6 L540.8 232.1 L543.6 231.6 L546.3 231.2 L549.1 230.7 L551.9 230.2 L554.7 229.7 L557.5 229.2 L560.3 228.7 L563.2 228.2 L566.0 227.8 L568.8 227.3 L571.7 226.8 L574.5 226.3 L577.4 225.8 L580.3 225.3 L583.2 224.8 L586.0 224.3 L588.9 223.9 L591.8 223.4 L594.8 222.9 L597.7 222.4 L600.6 221.9 L603.5 221.4 L606.5 220.9 L609.4 220.5 L612.4 220.0 L615.4 219.5 L618.3 219.0 L621.3 218.5 L624.3 218.0 L627.3 217.5 L630.3 217.1 L633.3 216.6 L636.3 216.1 L639.4 215.6 L642.4 215.1 L645.4 214.6 L648.5 214.1 L651.6 213.6 L654.6 213.2 L657.7 212.7 L660.8 212.2 L663.9 211.7 L667.0 211.2 L670.1 210.7 L673.2 210.2 L676.3 209.8 L679.5 209.3 L682.6 208.8" fill="none" stroke="#2ca02c" stroke-width="1.60" opacity="1"/>
<path d="M54.0 403.3 L54.0 402.4 L54.0 401.5 L54.0 400.6 L54.1 399.7 L54.1 398.9 L54.1 398.0 L54.2 397.1 L54.3 396.2 L54.3 395.3 L54.4 394.4 L54.5 393.5 L54.6 392.6 L54.7 391.8 L54.8 390.9 L54.9 390.0 L55.0 389.1 L55.1 388.2 L55.3 387.3 L55.4 386.4 L55.6 385.5 L55.7 384.7 L55.9 383.8 L56.1 382.9 L56.3 382.0 L56.5 381.1 L56.7 380.2 L56.9 379.3 L57.1 378.4 L57.3 377.6 L57.5 376.7 L57.8 375.8 L58.0 374.9 L58.3 374.0 L58.5 373.1 L58.8 372.2 L59.1 371.3 L59.4 370.5 L59.7 369.6 L60.0 368.7 L60.3 367.8 L60.6 366.9 L60.9 366.0 L61.3 365.1 L61.6 364.2 L62.0 363.3 L62.3 362.5 L62.7 361.6 L63.1 360.7 L63.4 359.8 L63.8 358.9 L64.2 358.0 L64.6 357.1 L65.0 356.2 L65.5 355.4 L65.9 354.5 L66.3 353.6 L66.8 352.7 L67.2 351.8 L67.7 350.9 L68.1 350.0 L68.6 349.1 L69.1 348.3 L69.6 347.4 L70.1 346.5 L70.6 345.6 L71.1 344.7 L71.6 343.8 L72.2 342.9 L72.7 342.0 L73.3 341.2 L73.8 340.3 L74.4 339.4 L74.9 338.5 L75.5 337.6 L76.1 336.7 L76.7 335.8 L77.3 334.9 L77.9 334.0 L78.5 333.2 L79.1 332.3 L79.8 331.4 L80.4 330.5 L81.1 329.6 L81.7 328.7 L82.4 327.8 L83.1 326.9 L83.7 326.1 L84.4 325.2 L85.1 324.3 L85.8 323.4 L86.5 322.5 L87.3 321.6 L88.0 320.7 L88.7 319.8 L89.5 319.0 L90.2 318.1 L91.0 317.2 L91.7 316.3 L92.5 315.4 L93.3 314.5 L94.1 313.6 L94.9 312.7 L95.7 311.9 L96.5 311.0 L97.3 310.1 L98.1 309.2 L99.0 308.3 L99.8 307.4 L100.7 306.5 L101.5 305.6 L102.4 304.8 L103.3 303.9 L104.2 303.0 L105.1 302.1 L106.0 301.2 L106.9 300.3 L107.8 299.4 L108.7 298.5 L109.6 297.6 L110.6 296.8 L111.5 295.9 L112.5 295.0 L113.4 294.1 L114.4 293.2 L115.4 292.3 L116.4 291.4 L117.4 290.5 L118.4 289.7 L119.4 288.8 L120.4 287.9 L121.4 287.0 L122.5 286.1 L123.5 285.2 L124.5 284.3 L125.6 283.4 L126.7 282.6 L127.7 281.7 L128.8 280.8 L129.9 279.9 L131.0 279.0 L132.1 278.1 L133.2 277.2 L134.3 276.3 L135.5 275.5 L136.6 274.6 L137.7 273.7 L138.9 272.8 L140.1 271.9 L141.2 271.0 L142.4 270.1 L143.6 269.2 L144.8 268.3 L146.0 267.5 L147.2 266.6 L148.4 265.7 L149.6 264.8 L150.8 263.9 L152.1 263.0 L153.3 262.1 L154.6 261.2 L155.8 260.4 L157.1 259.5 L158.4 258.6 L159.7 257.7 L161.0 256.8 L162.3 255.9 L163.6 255.0 L164.9 254.1 L166.2 253.3 L167.5 252.4 L168.9 251.5 L170.2 250.6 L171.6 249.7 L172.9 248.8 L174.3 247.9 L175.7 247.0 L177.1 246.2 L178.5 245.3 L179.9 244.4 L181.3 243.5 L182.7 242.6 L184.1 241.7 L185.6 240.8 L187.0 239.9 L188.5 239.1 L189.9 238.2 L191.4 237.3 L192.9 236.4 L194.3 235.5 L195.8 234.6 L197.3 233.7 L198.8 232.8 L200.3 231.9 L201.9 231.1 L203.4 230.2 L204.9 229.3 L206.5 228.4 L208.0 227.5 L209.6 226.6 L211.1 225.7 L212.7 224.8 L214.3 224.0 L215.9 223.1 L217.5 222.2 L219.1 221.3 L220.7 220.4 L222.3 219.5 L224.0 218.6 L225.6 217.7 L227.3 216.9 L228.9 216.0 L230.6 215.1 L232.2 214.2 L233.9 213.3 L235.6 212.4 L237.3 211.5 L239.0 210.6 L240.7 209.8 L242.4 208.9 L244.1 208.0 L245.9 207.1 L247.6 206.2 L249.4 205.3 L251.1 204.4 L252.9 203.5 L254.7 202.7 L256.4 201.8 L258.2 200.9 L260.0 200.0 L261.8 199.1 L263.6 198.2 L265.5 197.3 L267.3 196.4 L269.1 195.5 L271.0 194.7 L272.8 193.8 L274.7 192.9 L276.5 192.0 L278.4 191.1 L280.3 190.2 L282.2 189.3 L284.1 188.4 L286.0 187.6 L287.9 186.7 L289.8 185.8 L291.8 184.9 L293.7 184.0 L295.6 183.1 L297.6 182.2 L299.5 181.3 L301.5 180.5 L303.5 179.6 L305.5 178.7 L307.5 177.8 L309.5 176.9 L311.5 176.0 L313.5 175.1 L315.5 174.2 L317.5 173.4 L319.6 172.5 L321.6 171.6 L323.7 170.7 L325.7 169.8 L327.8 168.9 L329.9 168.0 L332.0 167.1 L334.1 166.2 L336.2 165.4 L338.3 164.5 L340.4 163.6 L342.5 162.7 L344.7 161.8 L346.8 160.9 L349.0 160.0 L351.1 159.1 L353.3 158.3 L355.4 157.4 L357.6 156.5 L359.8 155.6 L362.0 154.7 L364.2 153.8 L366.4 152.9 L368.6 152.0 L370.9 151.2 L373.1 150.3 L375.4 149.4 L377.6 148.5 L379.9 147.6 L382.1 146.7 L384.4 145.8 L386.7 144.9 L389.0 144.1 L391.3 143.2 L393.6 142.3 L395.9 141.4 L398.2 140.5 L400.5 139.6 L402.9 138.7 L405.2 137.8 L407.6 137.0 L409.9 136.1 L412.3 135.2 L414.7 134.3 L417.1 133.4 L419.5 132.5 L421.9 131.6 L424.3 130.7 L426.7 129.8 L429.1 129.0 L431.5 128.1 L434.0 127.2 L436.4 126.3 L438.9 125.4 L441.4 124.5 L443.8 123.6 L446.3 122.7 L448.8 121.9 L451.3 121.0 L453.8 120.1 L456.3 119.2 L458.8 118.3 L461.3 117.4 L463.9 116.5 L466.4 115.6 L469.0 114.8 L471.5 113.9 L474.1 113.0 L476.7 112.1 L479.2 111.2 L481.8 110.3 L484.4 109.4 L487.0 108.5 L489.7 107.7 L492.3 106.8 L494.9 105.9 L497.5 105.0 L500.2 104.1 L502.8 103.2 L505.5 102.3 L508.2 101.4 L510.8 100.5 L513.5 99.7 L516.2 98.8 L518.9 97.9 L521.6 97.0 L524.3 96.1 L527.1 95.2 L529.8 94.3 L532.5 93.4 L535.3 92.6 L538.0 91.7 L540.8 90.8 L543.6 89.9 L546.3 89.0 L549.1 88.1 L551.9 87.2 L554.7 86.3 L557.5 85.5 L560.3 84.6 L563.2 83.7 L566.0 82.8 L568.8 81.9 L571.7 81.0 L574.5 80.1 L577.4 79.2 L580.3 78.4 L583.2 77.5 L586.0 76.6 L588.9 75.7 L591.8 74.8 L594.8 73.9 L597.7 73.0 L600.6 72.1 L603.5 71.3 L606.5 70.4 L609.4 69.5 L612.4 68.6 L615.4 67.7 L618.3 66.8 L621.3 65.9 L624.3 65.0 L627.3 64.1 L630.3 63.3 L633.3 62.4 L636.3 61.5 L639.4 60.6 L642.4 59.7 L645.4 58.8 L648.5 57.9 L651.6 57.0 L654.6 56.2 L657.7 55.3 L660.8 54.4 L663.9 53.5 L667.0 52.6 L670.1 51.7 L673.2 50.8 L676.3 49.9 L679.5 49.1 L682.6 48.2" fill="none" stroke="#d62728" stroke-width="1.60" opacity="1"/>
<path d="M54.0 403.3 L54.0 401.8 L54.0 400.2 L54.0 398.7 L54.1 397.1 L54.1 395.6 L54.1 394.1 L54.2 392.5 L54.3 391.0 L54.3 389.5 L54.4 387.9 L54.5 386.4 L54.6 384.8 L54.7 383.3 L54.8 381.8 L54.9 380.2 L55.0 378.7 L55.1 377.2 L55.3 375.6 L55.4 374.1 L55.6 372.5 L55.7 371.0 L55.9 369.5 L56.1 367.9 L56.3 366.4 L56.5 364.9 L56.7 363.3 L56.9 361.8 L57.1 360.2 L57.3 358.7 L57.5 357.2 L57.8 355.6 L58.0 354.1 L58.3 352.6 L58.5 351.0 L58.8 349.5 L59.1 347.9 L59.4 346.4 L59.7 344.9 L60.0 343.3 L60.3 341.8 L60.6 340.3 L60.9 338.7 L61.3 337.2 L61.6 335.6 L62.0 334.1 L62.3 332.6 L62.7 331.0 L63.1 329.5 L63.4 327.9 L63.8 326.4 L64.2 324.9 L64.6 323.3 L65.0 321.8 L65.5 320.3 L65.9 318.7 L66.3 317.2 L66.8 315.6 L67.2 314.1 L67.7 312.6 L68.1 311.0 L68.6 309.5 L69.1 308.0 L69.6 306.4 L70.1 304.9 L70.6 303.3 L71.1 301.8 L71.6 300.3 L72.2 298.7 L72.7 297.2 L73.3 295.7 L73.8 294.1 L74.4 292.6 L74.9 291.0 L75.5 289.5 L76.1 288.0 L76.7 286.4 L77.3 284.9 L77.9 283.4 L78.5 281.8 L79.1 280.3 L79.8 278.7 L80.4 277.2 L81.1 275.7 L81.7 274.1 L82.4 272.6 L83.1 271.1 L83.7 269.5 L84.4 268.0 L85.1 266.4 L85.8 264.9 L86.5 263.4 L87.3 261.8 L88.0 260.3 L88.7 258.7 L89.5 257.2 L90.2 255.7 L91.0 254.1 L91.7 252.6 L92.5 251.1 L93.3 249.5 L94.1 248.0 L94.9 246.4 L95.7 244.9 L96.5 243.4 L97.3 241.8 L98.1 240.3 L99.0 238.8 L99.8 237.2 L100.7 235.7 L101.5 234.1 L102.4 232.6 L103.3 231.1 L104.2 229.5 L105.1 228.0 L106.0 226.5 L106.9 224.9 L107.8 223.4 L108.7 221.8 L109.6 220.3 L110.6 218.8 L111.5 217.2 L112.5 215.7 L113.4 214.2 L114.4 212.6 L115.4 211.1 L116.4 209.5 L117.4 208.0 L118.4 206.5 L119.4 204.9 L120.4 203.4 L121.4 201.9 L122.5 200.3 L123.5 198.8 L124.5 197.2 L125.6 195.7 L126.7 194.2 L127.7 192.6 L128.8 191.1 L129.9 189.6 L131.0 188.0 L132.1 186.5 L133.2 184.9 L134.3 183.4 L135.5 181.9 L136.6 180.3 L137.7 178.8 L138.9 177.2 L140.1 175.7 L141.2 174.2 L142.4 172.6 L143.6 171.1 L144.8 169.6 L146.0 168.0 L147.2 166.5 L148.4 164.9 L149.6 163.4 L150.8 161.9 L152.1 160.3 L153.3 158.8 L154.6 157.3 L155.8 155.7 L157.1 154.2 L158.4 152.6 L159.7 151.1 L161.0 149.6 L162.3 148.0 L163.6 146.5 L164.9 145.0 L166.2 143.4 L167.5 141.9 L168.9 140.3 L170.2 138.8 L171.6 137.3 L172.9 135.7 L174.3 134.2 L175.7 132.7 L177.1 131.1 L178.5 129.6 L179.9 128.0 L181.3 126.5 L182.7 125.0 L184.1 123.4 L185.6 121.9 L187.0 120.4 L188.5 118.8 L189.9 117.3 L191.4 115.7 L192.9 114.2 L194.3 112.7 L195.8 111.1 L197.3 109.6 L198.8 108.0 L200.3 106.5 L201.9 105.0 L203.4 103.4 L204.9 101.9 L206.5 100.4 L208.0 98.8 L209.6 97.3 L211.1 95.7 L212.7 94.2 L214.3 92.7 L215.9 91.1 L217.5 89.6 L219.1 88.1 L220.7 86.5 L222.3 85.0 L224.0 83.4 L225.6 81.9 L227.3 80.4 L228.9 78.8 L230.6 77.3 L232.2 75.8 L233.9 74.2 L235.6 72.7 L237.3 71.1 L239.0 69.6 L240.7 68.1 L242.4 66.5 L244.1 65.0 L245.9 63.5 L247.6 61.9 L249.4 60.4 L251.1 58.8 L252.9 57.3 L254.7 55.8 L256.4 54.2 L258.2 52.7 L260.0 51.2 L261.8 49.6 L263.6 48.1 L265.5 46.5 L267.3 45.0 L269.1 43.5 L271.0 41.9 L272.8 40.4 L274.7 38.8 L276.5 37.3 L278.4 35.8 L280.3 34.2 L282.2 32.7 L284.1 31.2 L286.0 29.6 L287.9 28.1 L289.8 26.5 L291.8 25.0 L293.7 23.5 L295.6 21.9 L297.6 20.4 L299.5 18.9 L301.5 17.3 L303.5 15.8 L305.5 14.2" fill="none" stroke="#9467bd" stroke-width="1.60" opacity="1"/>
<path d="M54.0 403.3 L54.0 401.3 L54.0 399.3 L54.0 397.3 L54.1 395.4 L54.1 393.4 L54.1 391.4 L54.2 389.4 L54.3 387.4 L54.3 385.4 L54.4 383.4 L54.5 381.5 L54.6 379.5 L54.7 377.5 L54.8 375.5 L54.9 373.5 L55.0 371.5 L55.1 369.6 L55.3 367.6 L55.4 365.6 L55.6 363.6 L55.7 361.6 L55.9 359.6 L56.1 357.6 L56.3 355.7 L56.5 353.7 L56.7 351.7 L56.9 349.7 L57.1 347.7 L57.3 345.7 L57.5 343.7 L57.8 341.8 L58.0 339.8 L58.3 337.8 L58.5 335.8 L58.8 333.8 L59.1 331.8 L59.4 329.8 L59.7 327.9 L60.0 325.9 L60.3 323.9 L60.6 321.9 L60.9 319.9 L61.3 317.9 L61.6 315.9 L62.0 314.0 L62.3 312.0 L62.7 310.0 L63.1 308.0 L63.4 306.0 L63.8 304.0 L64.2 302.1 L64.6 300.1 L65.0 298.1 L65.5 296.1 L65.9 294.1 L66.3 292.1 L66.8 290.1 L67.2 288.2 L67.7 286.2 L68.1 284.2 L68.6 282.2 L69.1 280.2 L69.6 278.2 L70.1 276.2 L70.6 274.3 L71.1 272.3 L71.6 270.3 L72.2 268.3 L72.7 266.3 L73.3 264.3 L73.8 262.3 L74.4 260.4 L74.9 258.4 L75.5 256.4 L76.1 254.4 L76.7 252.4 L77.3 250.4 L77.9 248.5 L78.5 246.5 L79.1 244.5 L79.8 242.5 L80.4 240.5 L81.1 238.5 L81.7 236.5 L82.4 234.6 L83.1 232.6 L83.7 230.6 L84.4 228.6 L85.1 226.6 L85.8 224.6 L86.5 222.6 L87.3 220.7 L88.0 218.7 L88.7 216.7 L89.5 214.7 L90.2 212.7 L91.0 210.7 L91.7 208.7 L92.5 206.8 L93.3 204.8 L94.1 202.8 L94.9 200.8 L95.7 198.8 L96.5 196.8 L97.3 194.8 L98.1 192.9 L99.0 190.9 L99.8 188.9 L100.7 186.9 L101.5 184.9 L102.4 182.9 L103.3 181.0 L104.2 179.0 L105.1 177.0 L106.0 175.0 L106.9 173.0 L107.8 171.0 L108.7 169.0 L109.6 167.1 L110.6 165.1 L111.5 163.1 L112.5 161.1 L113.4 159.1 L114.4 157.1 L115.4 155.1 L116.4 153.2 L117.4 151.2 L118.4 149.2 L119.4 147.2 L120.4 145.2 L121.4 143.2 L122.5 141.2 L123.5 139.3 L124.5 137.3 L125.6 135.3 L126.7 133.3 L127.7 131.3 L128.8 129.3 L129.9 127.4 L131.0 125.4 L132.1 123.4 L133.2 121.4 L134.3 119.4 L135.5 117.4 L136.6 115.4 L137.7 113.5 L138.9 111.5 L140.1 109.5 L141.2 107.5 L142.4 105.5 L143.6 103.5 L144.8 101.5 L146.0 99.6 L147.2 97.6 L148.4 95.6 L149.6 93.6 L150.8 91.6 L152.1 89.6 L153.3 87.6 L154.6 85.7 L155.8 83.7 L157.1 81.7 L158.4 79.7 L159.7 77.7 L161.0 75.7 L162.3 73.7 L163.6 71.8 L164.9 69.8 L166.2 67.8 L167.5 65.8 L168.9 63.8 L170.2 61.8 L171.6 59.9 L172.9 57.9 L174.3 55.9 L175.7 53.9 L177.1 51.9 L178.5 49.9 L179.9 47.9 L181.3 46.0 L182.7 44.0 L184.1 42.0 L185.6 40.0 L187.0 38.0 L188.5 36.0 L189.9 34.0 L191.4 32.1 L192.9 30.1 L194.3 28.1 L195.8 26.1 L197.3 24.1 L198.8 22.1 L200.3 20.1 L201.9 18.2 L203.4 16.2 L204.9 14.2" fill="none" stroke="#8c564b" stroke-width="1.60" opacity="1"/>
<path d="M54.0 403.3 L54.0 400.6 L54.0 398.0 L54.0 395.3 L54.1 392.6 L54.1 390.0 L54.1 387.3 L54.2 384.7 L54.3 382.0 L54.3 379.3 L54.4 376.7 L54.5 374.0 L54.6 371.3 L54.7 368.7 L54.8 366.0 L54.9 363.3 L55.0 360.7 L55.1 358.0 L55.3 355.4 L55.4 352.7 L55.6 350.0 L55.7 347.4 L55.9 344.7 L56.1 342.0 L56.3 339.4 L56.5 336.7 L56.7 334.0 L56.9 331.4 L57.1 328.7 L57.3 326.1 L57.5 323.4 L57.8 320.7 L58.0 318.1 L58.3 315.4 L58.5 312.7 L58.8 310.1 L59.1 307.4 L59.4 304.8 L59.7 302.1 L60.0 299.4 L60.3 296.8 L60.6 294.1 L60.9 291.4 L61.3 288.8 L61.6 286.1 L62.0 283.4 L62.3 280.8 L62.7 278.1 L63.1 275.5 L63.4 272.8 L63.8 270.1 L64.2 267.5 L64.6 264.8 L65.0 262.1 L65.5 259.5 L65.9 256.8 L66.3 254.1 L66.8 251.5 L67.2 248.8 L67.7 246.2 L68.1 243.5 L68.6 240.8 L69.1 238.2 L69.6 235.5 L70.1 232.8 L70.6 230.2 L71.1 227.5 L71.6 224.8 L72.2 222.2 L72.7 219.5 L73.3 216.9 L73.8 214.2 L74.4 211.5 L74.9 208.9 L75.5 206.2 L76.1 203.5 L76.7 200.9 L77.3 198.2 L77.9 195.5 L78.5 192.9 L79.1 190.2 L79.8 187.6 L80.4 184.9 L81.1 182.2 L81.7 179.6 L82.4 176.9 L83.1 174.2 L83.7 171.6 L84.4 168.9 L85.1 166.2 L85.8 163.6 L86.5 160.9 L87.3 158.3 L88.0 155.6 L88.7 152.9 L89.5 150.3 L90.2 147.6 L91.0 144.9 L91.7 142.3 L92.5 139.6 L93.3 137.0 L94.1 134.3 L94.9 131.6 L95.7 129.0 L96.5 126.3 L97.3 123.6 L98.1 121.0 L99.0 118.3 L99.8 115.6 L100.7 113.0 L101.5 110.3 L102.4 107.7 L103.3 105.0 L104.2 102.3 L105.1 99.7 L106.0 97.0 L106.9 94.3 L107.8 91.7 L108.7 89.0 L109.6 86.3 L110.6 83.7 L111.5 81.0 L112.5 78.4 L113.4 75.7 L114.4 73.0 L115.4 70.4 L116.4 67.7 L117.4 65.0 L118.4 62.4 L119.4 59.7 L120.4 57.0 L121.4 54.4 L122.5 51.7 L123.5 49.1 L124.5 46.4 L125.6 43.7 L126.7 41.1 L127.7 38.4 L128.8 35.7 L129.9 33.1 L131.0 30.4 L132.1 27.7 L133.2 25.1 L134.3 22.4 L135.5 19.8 L136.6 17.1 L137.7 14.4 L138.9 11.8" fill="none" stroke="#e377c2" stroke-width="1.60" opacity="1"/>
<path d="M54.0 403.3 L54.0 398.6 L54.0 393.9 L54.0 389.2 L54.1 384.5 L54.1 379.8 L54.1 375.1 L54.2 370.4 L54.3 365.7 L54.3 361.0 L54.4 356.3 L54.5 351.6 L54.6 346.9 L54.7 342.2 L54.8 337.5 L54.9 332.8 L55.0 328.1 L55.1 323.4 L55.3 318.7 L55.4 314.0 L55.6 309.3 L55.7 304.6 L55.9 299.9 L56.1 295.2 L56.3 290.5 L56.5 285.9 L56.7 281.2 L56.9 276.5 L57.1 271.8 L57.3 267.1 L57.5 262.4 L57.8 257.7 L58.0 253.0 L58.3 248.3 L58.5 243.6 L58.8 238.9 L59.1 234.2 L59.4 229.5 L59.7 224.8 L60.0 220.1 L60.3 215.4 L60.6 210.7 L60.9 206.0 L61.3 201.3 L61.6 196.6 L62.0 191.9 L62.3 187.2 L62.7 182.5 L63.1 177.8 L63.4 173.1 L63.8 168.4 L64.2 163.7 L64.6 159.0 L65.0 154.3 L65.5 149.6 L65.9 144.9 L66.3 140.2 L66.8 135.5 L67.2 130.8 L67.7 126.1 L68.1 121.4 L68.6 116.7 L69.1 112.0 L69.6 107.3 L70.1 102.6 L70.6 97.9 L71.1 93.2 L71.6 88.5 L72.2 83.8 L72.7 79.1 L73.3 74.4 L73.8 69.7 L74.4 65.0 L74.9 60.3 L75.5 55.7 L76.1 51.0 L76.7 46.3 L77.3 41.6 L77.9 36.9 L78.5 32.2 L79.1 27.5 L79.8 22.8 L80.4 18.1 L81.1 13.4" fill="none" stroke="#7f7f7f" stroke-width="1.15" stroke-dasharray="5.5 2.4" opacity="1"/>
<polygon points="59.2,223.1 61.5,230.2 69.0,230.2 63.0,234.6 65.3,241.7 59.2,237.3 53.2,241.7 55.5,234.6 49.4,230.2 56.9,230.2" fill="#ff0000" stroke="#000" stroke-width="0.8" stroke-linejoin="miter"/>
</g>
<rect x="54.0" y="19.3" width="624.4" height="384.0" fill="none" stroke="#2a2a2a" stroke-width="1"/>
<line x1="54.0" y1="403.3" x2="54.0" y2="406.8" stroke="#222" stroke-width="0.9"/>
<line x1="91.4" y1="403.3" x2="91.4" y2="406.8" stroke="#222" stroke-width="0.9"/>
<line x1="128.8" y1="403.3" x2="128.8" y2="406.8" stroke="#222" stroke-width="0.9"/>
<line x1="166.2" y1="403.3" x2="166.2" y2="406.8" stroke="#222" stroke-width="0.9"/>
<line x1="203.6" y1="403.3" x2="203.6" y2="406.8" stroke="#222" stroke-width="0.9"/>
<line x1="241.0" y1="403.3" x2="241.0" y2="406.8" stroke="#222" stroke-width="0.9"/>
<line x1="278.4" y1="403.3" x2="278.4" y2="406.8" stroke="#222" stroke-width="0.9"/>
<line x1="315.8" y1="403.3" x2="315.8" y2="406.8" stroke="#222" stroke-width="0.9"/>
<line x1="353.2" y1="403.3" x2="353.2" y2="406.8" stroke="#222" stroke-width="0.9"/>
<line x1="390.6" y1="403.3" x2="390.6" y2="406.8" stroke="#222" stroke-width="0.9"/>
<line x1="428.0" y1="403.3" x2="428.0" y2="406.8" stroke="#222" stroke-width="0.9"/>
<line x1="465.4" y1="403.3" x2="465.4" y2="406.8" stroke="#222" stroke-width="0.9"/>
<line x1="502.8" y1="403.3" x2="502.8" y2="406.8" stroke="#222" stroke-width="0.9"/>
<line x1="540.3" y1="403.3" x2="540.3" y2="406.8" stroke="#222" stroke-width="0.9"/>
<line x1="577.7" y1="403.3" x2="577.7" y2="406.8" stroke="#222" stroke-width="0.9"/>
<line x1="615.1" y1="403.3" x2="615.1" y2="406.8" stroke="#222" stroke-width="0.9"/>
<line x1="652.5" y1="403.3" x2="652.5" y2="406.8" stroke="#222" stroke-width="0.9"/>
<line x1="50.5" y1="403.3" x2="54.0" y2="403.3" stroke="#222" stroke-width="0.9"/>
<line x1="50.5" y1="355.3" x2="54.0" y2="355.3" stroke="#222" stroke-width="0.9"/>
<line x1="50.5" y1="307.3" x2="54.0" y2="307.3" stroke="#222" stroke-width="0.9"/>
<line x1="50.5" y1="259.3" x2="54.0" y2="259.3" stroke="#222" stroke-width="0.9"/>
<line x1="50.5" y1="211.3" x2="54.0" y2="211.3" stroke="#222" stroke-width="0.9"/>
<line x1="50.5" y1="163.3" x2="54.0" y2="163.3" stroke="#222" stroke-width="0.9"/>
<line x1="50.5" y1="115.3" x2="54.0" y2="115.3" stroke="#222" stroke-width="0.9"/>
<line x1="50.5" y1="67.3" x2="54.0" y2="67.3" stroke="#222" stroke-width="0.9"/>
<line x1="50.5" y1="19.3" x2="54.0" y2="19.3" stroke="#222" stroke-width="0.9"/>
<text x="54.0" y="419.8" font-size="11.5" text-anchor="middle" fill="#1a1a1a" stroke="#1a1a1a" stroke-width="0.3" font-family="Liberation Sans, sans-serif" textLength="7.3" lengthAdjust="spacingAndGlyphs" >0</text>
<text x="91.4" y="419.8" font-size="11.5" text-anchor="middle" fill="#1a1a1a" stroke="#1a1a1a" stroke-width="0.3" font-family="Liberation Sans, sans-serif" textLength="14.6" lengthAdjust="spacingAndGlyphs" >72</text>
<text x="128.8" y="419.8" font-size="11.5" text-anchor="middle" fill="#1a1a1a" stroke="#1a1a1a" stroke-width="0.3" font-family="Liberation Sans, sans-serif" textLength="21.9" lengthAdjust="spacingAndGlyphs" >144</text>
<text x="166.2" y="419.8" font-size="11.5" text-anchor="middle" fill="#1a1a1a" stroke="#1a1a1a" stroke-width="0.3" font-family="Liberation Sans, sans-serif" textLength="21.9" lengthAdjust="spacingAndGlyphs" >216</text>
<text x="203.6" y="419.8" font-size="11.5" text-anchor="middle" fill="#1a1a1a" stroke="#1a1a1a" stroke-width="0.3" font-family="Liberation Sans, sans-serif" textLength="21.9" lengthAdjust="spacingAndGlyphs" >288</text>
<text x="241.0" y="419.8" font-size="11.5" text-anchor="middle" fill="#1a1a1a" stroke="#1a1a1a" stroke-width="0.3" font-family="Liberation Sans, sans-serif" textLength="21.9" lengthAdjust="spacingAndGlyphs" >360</text>
<text x="278.4" y="419.8" font-size="11.5" text-anchor="middle" fill="#1a1a1a" stroke="#1a1a1a" stroke-width="0.3" font-family="Liberation Sans, sans-serif" textLength="21.9" lengthAdjust="spacingAndGlyphs" >432</text>
<text x="315.8" y="419.8" font-size="11.5" text-anchor="middle" fill="#1a1a1a" stroke="#1a1a1a" stroke-width="0.3" font-family="Liberation Sans, sans-serif" textLength="21.9" lengthAdjust="spacingAndGlyphs" >504</text>
<text x="353.2" y="419.8" font-size="11.5" text-anchor="middle" fill="#1a1a1a" stroke="#1a1a1a" stroke-width="0.3" font-family="Liberation Sans, sans-serif" textLength="21.9" lengthAdjust="spacingAndGlyphs" >576</text>
<text x="390.6" y="419.8" font-size="11.5" text-anchor="middle" fill="#1a1a1a" stroke="#1a1a1a" stroke-width="0.3" font-family="Liberation Sans, sans-serif" textLength="21.9" lengthAdjust="spacingAndGlyphs" >648</text>
<text x="428.0" y="419.8" font-size="11.5" text-anchor="middle" fill="#1a1a1a" stroke="#1a1a1a" stroke-width="0.3" font-family="Liberation Sans, sans-serif" textLength="21.9" lengthAdjust="spacingAndGlyphs" >720</text>
<text x="465.4" y="419.8" font-size="11.5" text-anchor="middle" fill="#1a1a1a" stroke="#1a1a1a" stroke-width="0.3" font-family="Liberation Sans, sans-serif" textLength="21.9" lengthAdjust="spacingAndGlyphs" >792</text>
<text x="502.8" y="419.8" font-size="11.5" text-anchor="middle" fill="#1a1a1a" stroke="#1a1a1a" stroke-width="0.3" font-family="Liberation Sans, sans-serif" textLength="21.9" lengthAdjust="spacingAndGlyphs" >864</text>
<text x="540.3" y="419.8" font-size="11.5" text-anchor="middle" fill="#1a1a1a" stroke="#1a1a1a" stroke-width="0.3" font-family="Liberation Sans, sans-serif" textLength="21.9" lengthAdjust="spacingAndGlyphs" >936</text>
<text x="577.7" y="419.8" font-size="11.5" text-anchor="middle" fill="#1a1a1a" stroke="#1a1a1a" stroke-width="0.3" font-family="Liberation Sans, sans-serif" textLength="29.2" lengthAdjust="spacingAndGlyphs" >1008</text>
<text x="615.1" y="419.8" font-size="11.5" text-anchor="middle" fill="#1a1a1a" stroke="#1a1a1a" stroke-width="0.3" font-family="Liberation Sans, sans-serif" textLength="29.2" lengthAdjust="spacingAndGlyphs" >1080</text>
<text x="652.5" y="419.8" font-size="11.5" text-anchor="middle" fill="#1a1a1a" stroke="#1a1a1a" stroke-width="0.3" font-family="Liberation Sans, sans-serif" textLength="29.2" lengthAdjust="spacingAndGlyphs" >1152</text>
<text x="47.3" y="407.4" font-size="11.5" text-anchor="end" fill="#1a1a1a" stroke="#1a1a1a" stroke-width="0.3" font-family="Liberation Sans, sans-serif" textLength="7.3" lengthAdjust="spacingAndGlyphs" >0</text>
<text x="47.3" y="359.4" font-size="11.5" text-anchor="end" fill="#1a1a1a" stroke="#1a1a1a" stroke-width="0.3" font-family="Liberation Sans, sans-serif" textLength="7.3" lengthAdjust="spacingAndGlyphs" >1</text>
<text x="47.3" y="311.4" font-size="11.5" text-anchor="end" fill="#1a1a1a" stroke="#1a1a1a" stroke-width="0.3" font-family="Liberation Sans, sans-serif" textLength="7.3" lengthAdjust="spacingAndGlyphs" >2</text>
<text x="47.3" y="263.4" font-size="11.5" text-anchor="end" fill="#1a1a1a" stroke="#1a1a1a" stroke-width="0.3" font-family="Liberation Sans, sans-serif" textLength="7.3" lengthAdjust="spacingAndGlyphs" >3</text>
<text x="47.3" y="215.4" font-size="11.5" text-anchor="end" fill="#1a1a1a" stroke="#1a1a1a" stroke-width="0.3" font-family="Liberation Sans, sans-serif" textLength="7.3" lengthAdjust="spacingAndGlyphs" >4</text>
<text x="47.3" y="167.4" font-size="11.5" text-anchor="end" fill="#1a1a1a" stroke="#1a1a1a" stroke-width="0.3" font-family="Liberation Sans, sans-serif" textLength="7.3" lengthAdjust="spacingAndGlyphs" >5</text>
<text x="47.3" y="119.4" font-size="11.5" text-anchor="end" fill="#1a1a1a" stroke="#1a1a1a" stroke-width="0.3" font-family="Liberation Sans, sans-serif" textLength="7.3" lengthAdjust="spacingAndGlyphs" >6</text>
<text x="47.3" y="71.4" font-size="11.5" text-anchor="end" fill="#1a1a1a" stroke="#1a1a1a" stroke-width="0.3" font-family="Liberation Sans, sans-serif" textLength="7.3" lengthAdjust="spacingAndGlyphs" >7</text>
<text x="47.3" y="23.4" font-size="11.5" text-anchor="end" fill="#1a1a1a" stroke="#1a1a1a" stroke-width="0.3" font-family="Liberation Sans, sans-serif" textLength="7.3" lengthAdjust="spacingAndGlyphs" >8</text>
<text x="366.2" y="438.5" font-size="15.9" text-anchor="middle" fill="#1a1a1a" stroke="#1a1a1a" stroke-width="0.3" font-family="Liberation Sans, sans-serif" textLength="268.0" lengthAdjust="spacingAndGlyphs" >Hours Since 04-03-2024 07:06:44</text>
<text transform="translate(30.3,211.3) rotate(-90)" font-size="15.9" text-anchor="middle" fill="#1a1a1a" stroke="#1a1a1a" stroke-width="0.3" font-family="Liberation Sans, sans-serif" textLength="290" lengthAdjust="spacingAndGlyphs">Distance from reference Shock (km)</text>
<text x="6.0" y="19.8" font-size="18.5" text-anchor="start" fill="#1a1a1a" stroke="#1a1a1a" stroke-width="0.3" font-family="Liberation Sans, sans-serif" textLength="31.8" lengthAdjust="spacingAndGlyphs" font-style="italic">NW</text>
<text x="6.0" y="418.6" font-size="18.5" text-anchor="start" fill="#1a1a1a" stroke="#1a1a1a" stroke-width="0.3" font-family="Liberation Sans, sans-serif" textLength="22.8" lengthAdjust="spacingAndGlyphs" font-style="italic">SE</text>
<text x="55.7" y="52.5" font-size="19" text-anchor="start" fill="#1a1a1a" stroke="#1a1a1a" stroke-width="0.3" font-family="Liberation Sans, sans-serif" textLength="25.8" lengthAdjust="spacingAndGlyphs" >(a)</text>
<clipPath id="clipB"><rect x="86.8" y="508.7" width="533.9" height="352.8"/></clipPath>
<g clip-path="url(#clipB)">
<line x1="86.8" y1="861.5" x2="86.8" y2="508.7" stroke="#a6a6a6" stroke-width="0.75" stroke-dasharray="1.8 1.0"/>
<line x1="175.8" y1="861.5" x2="175.8" y2="508.7" stroke="#a6a6a6" stroke-width="0.75" stroke-dasharray="1.8 1.0"/>
<line x1="264.8" y1="861.5" x2="264.8" y2="508.7" stroke="#a6a6a6" stroke-width="0.75" stroke-dasharray="1.8 1.0"/>
<line x1="353.7" y1="861.5" x2="353.7" y2="508.7" stroke="#a6a6a6" stroke-width="0.75" stroke-dasharray="1.8 1.0"/>
<line x1="442.7" y1="861.5" x2="442.7" y2="508.7" stroke="#a6a6a6" stroke-width="0.75" stroke-dasharray="1.8 1.0"/>
<line x1="531.7" y1="861.5" x2="531.7" y2="508.7" stroke="#a6a6a6" stroke-width="0.75" stroke-dasharray="1.8 1.0"/>
<line x1="86.8" y1="861.5" x2="620.7" y2="861.5" stroke="#a6a6a6" stroke-width="0.75" stroke-dasharray="1.8 1.0"/>
<line x1="86.8" y1="817.4" x2="620.7" y2="817.4" stroke="#a6a6a6" stroke-width="0.75" stroke-dasharray="1.8 1.0"/>
<line x1="86.8" y1="773.3" x2="620.7" y2="773.3" stroke="#a6a6a6" stroke-width="0.75" stroke-dasharray="1.8 1.0"/>
<line x1="86.8" y1="729.2" x2="620.7" y2="729.2" stroke="#a6a6a6" stroke-width="0.75" stroke-dasharray="1.8 1.0"/>
<line x1="86.8" y1="685.1" x2="620.7" y2="685.1" stroke="#a6a6a6" stroke-width="0.75" stroke-dasharray="1.8 1.0"/>
<line x1="86.8" y1="641.0" x2="620.7" y2="641.0" stroke="#a6a6a6" stroke-width="0.75" stroke-dasharray="1.8 1.0"/>
<line x1="86.8" y1="596.9" x2="620.7" y2="596.9" stroke="#a6a6a6" stroke-width="0.75" stroke-dasharray="1.8 1.0"/>
<line x1="86.8" y1="552.8" x2="620.7" y2="552.8" stroke="#a6a6a6" stroke-width="0.75" stroke-dasharray="1.8 1.0"/>
<line x1="86.8" y1="508.7" x2="620.7" y2="508.7" stroke="#a6a6a6" stroke-width="0.75" stroke-dasharray="1.8 1.0"/>
<circle cx="278.4" cy="661.4" r="2.2" fill="#fff" stroke="#000" stroke-width="1.3"/>
<circle cx="426.6" cy="634.6" r="2.2" fill="#fff" stroke="#000" stroke-width="1.3"/>
<circle cx="521.8" cy="659.4" r="2.2" fill="#fff" stroke="#000" stroke-width="1.3"/>
<circle cx="574.6" cy="687.0" r="2.2" fill="#fff" stroke="#000" stroke-width="1.3"/>
<circle cx="586.0" cy="705.0" r="2.2" fill="#fff" stroke="#000" stroke-width="1.3"/>
<circle cx="527.0" cy="724.4" r="2.2" fill="#fff" stroke="#000" stroke-width="1.3"/>
<circle cx="562.0" cy="718.6" r="2.2" fill="#fff" stroke="#000" stroke-width="1.3"/>
<circle cx="575.6" cy="721.0" r="2.2" fill="#fff" stroke="#000" stroke-width="1.3"/>
<circle cx="195.6" cy="799.8" r="2.2" fill="#fff" stroke="#000" stroke-width="1.3"/>
<circle cx="206.0" cy="802.6" r="2.2" fill="#fff" stroke="#000" stroke-width="1.3"/>
<circle cx="220.0" cy="809.4" r="2.2" fill="#fff" stroke="#000" stroke-width="1.3"/>
<circle cx="93.3" cy="827.5" r="2.2" fill="#fff" stroke="#000" stroke-width="1.3"/>
<circle cx="146.7" cy="837.0" r="2.2" fill="#fff" stroke="#000" stroke-width="1.3"/>
<circle cx="241.0" cy="717.4" r="2.2" fill="#fff" stroke="#000" stroke-width="1.3"/>
<circle cx="293.4" cy="704.6" r="2.2" fill="#fff" stroke="#000" stroke-width="1.3"/>
<circle cx="245.4" cy="746.6" r="2.2" fill="#fff" stroke="#000" stroke-width="1.3"/>
<circle cx="239.0" cy="762.0" r="2.2" fill="#fff" stroke="#000" stroke-width="1.3"/>
<circle cx="284.0" cy="769.0" r="2.2" fill="#fff" stroke="#000" stroke-width="1.3"/>
<circle cx="317.6" cy="778.4" r="2.2" fill="#fff" stroke="#000" stroke-width="1.3"/>
<circle cx="246.0" cy="792.0" r="2.2" fill="#fff" stroke="#000" stroke-width="1.3"/>
<circle cx="244.4" cy="801.0" r="2.2" fill="#fff" stroke="#000" stroke-width="1.3"/>
<circle cx="291.0" cy="795.0" r="2.2" fill="#fff" stroke="#000" stroke-width="1.3"/>
<circle cx="320.4" cy="798.0" r="2.2" fill="#fff" stroke="#000" stroke-width="1.3"/>
<circle cx="253.4" cy="814.0" r="2.2" fill="#fff" stroke="#000" stroke-width="1.3"/>
<circle cx="243.0" cy="816.0" r="2.2" fill="#fff" stroke="#000" stroke-width="1.3"/>
<circle cx="244.6" cy="831.0" r="2.2" fill="#fff" stroke="#000" stroke-width="1.3"/>
<circle cx="246.6" cy="839.6" r="2.2" fill="#fff" stroke="#000" stroke-width="1.3"/>
<circle cx="319.0" cy="833.4" r="2.2" fill="#fff" stroke="#000" stroke-width="1.3"/>
<circle cx="313.6" cy="848.4" r="2.2" fill="#fff" stroke="#000" stroke-width="1.3"/>
<circle cx="329.6" cy="846.4" r="2.2" fill="#fff" stroke="#000" stroke-width="1.3"/>
<circle cx="379.4" cy="686.0" r="2.2" fill="#fff" stroke="#000" stroke-width="1.3"/>
<circle cx="431.4" cy="711.0" r="2.2" fill="#fff" stroke="#000" stroke-width="1.3"/>
<circle cx="413.0" cy="713.6" r="2.2" fill="#fff" stroke="#000" stroke-width="1.3"/>
<circle cx="397.0" cy="724.6" r="2.2" fill="#fff" stroke="#000" stroke-width="1.3"/>
<circle cx="396.4" cy="729.0" r="2.2" fill="#fff" stroke="#000" stroke-width="1.3"/>
<circle cx="462.4" cy="748.6" r="2.2" fill="#fff" stroke="#000" stroke-width="1.3"/>
<circle cx="483.4" cy="748.0" r="2.2" fill="#fff" stroke="#000" stroke-width="1.3"/>
<circle cx="463.6" cy="763.6" r="2.2" fill="#fff" stroke="#000" stroke-width="1.3"/>
<circle cx="379.4" cy="770.4" r="2.2" fill="#fff" stroke="#000" stroke-width="1.3"/>
<circle cx="383.6" cy="774.0" r="2.2" fill="#fff" stroke="#000" stroke-width="1.3"/>
<circle cx="396.0" cy="772.4" r="2.2" fill="#fff" stroke="#000" stroke-width="1.3"/>
<circle cx="407.4" cy="776.6" r="2.2" fill="#fff" stroke="#000" stroke-width="1.3"/>
<circle cx="417.4" cy="774.4" r="2.2" fill="#fff" stroke="#000" stroke-width="1.3"/>
<circle cx="392.4" cy="787.0" r="2.2" fill="#fff" stroke="#000" stroke-width="1.3"/>
<circle cx="412.4" cy="787.4" r="2.2" fill="#fff" stroke="#000" stroke-width="1.3"/>
<circle cx="434.4" cy="789.6" r="2.2" fill="#fff" stroke="#000" stroke-width="1.3"/>
<circle cx="479.6" cy="785.6" r="2.2" fill="#fff" stroke="#000" stroke-width="1.3"/>
<circle cx="417.4" cy="795.6" r="2.2" fill="#fff" stroke="#000" stroke-width="1.3"/>
<circle cx="402.0" cy="801.4" r="2.2" fill="#fff" stroke="#000" stroke-width="1.3"/>
<circle cx="369.0" cy="802.4" r="2.2" fill="#fff" stroke="#000" stroke-width="1.3"/>
<circle cx="376.4" cy="807.4" r="2.2" fill="#fff" stroke="#000" stroke-width="1.3"/>
<circle cx="468.6" cy="805.0" r="2.2" fill="#fff" stroke="#000" stroke-width="1.3"/>
<circle cx="473.0" cy="806.0" r="2.2" fill="#fff" stroke="#000" stroke-width="1.3"/>
<circle cx="437.4" cy="813.4" r="2.2" fill="#fff" stroke="#000" stroke-width="1.3"/>
<circle cx="434.4" cy="818.0" r="2.2" fill="#fff" stroke="#000" stroke-width="1.3"/>
<circle cx="404.0" cy="822.0" r="2.2" fill="#fff" stroke="#000" stroke-width="1.3"/>
<circle cx="408.0" cy="824.6" r="2.2" fill="#fff" stroke="#000" stroke-width="1.3"/>
<circle cx="465.0" cy="821.4" r="2.2" fill="#fff" stroke="#000" stroke-width="1.3"/>
<circle cx="480.0" cy="827.6" r="2.2" fill="#fff" stroke="#000" stroke-width="1.3"/>
<circle cx="496.0" cy="819.6" r="2.2" fill="#fff" stroke="#000" stroke-width="1.3"/>
<circle cx="362.4" cy="841.4" r="2.2" fill="#fff" stroke="#000" stroke-width="1.3"/>
<circle cx="405.0" cy="842.6" r="2.2" fill="#fff" stroke="#000" stroke-width="1.3"/>
<circle cx="422.0" cy="843.4" r="2.2" fill="#fff" stroke="#000" stroke-width="1.3"/>
<circle cx="425.4" cy="843.0" r="2.2" fill="#fff" stroke="#000" stroke-width="1.3"/>
<circle cx="389.4" cy="856.4" r="2.2" fill="#fff" stroke="#000" stroke-width="1.3"/>
<circle cx="493.6" cy="855.6" r="2.2" fill="#fff" stroke="#000" stroke-width="1.3"/>
<circle cx="584.4" cy="729.6" r="2.2" fill="#fff" stroke="#000" stroke-width="1.3"/>
<circle cx="592.0" cy="728.6" r="2.2" fill="#fff" stroke="#000" stroke-width="1.3"/>
<circle cx="540.4" cy="739.0" r="2.2" fill="#fff" stroke="#000" stroke-width="1.3"/>
<circle cx="543.4" cy="741.4" r="2.2" fill="#fff" stroke="#000" stroke-width="1.3"/>
<circle cx="571.0" cy="739.0" r="2.2" fill="#fff" stroke="#000" stroke-width="1.3"/>
<circle cx="578.4" cy="743.0" r="2.2" fill="#fff" stroke="#000" stroke-width="1.3"/>
<circle cx="615.0" cy="748.0" r="2.2" fill="#fff" stroke="#000" stroke-width="1.3"/>
<circle cx="615.4" cy="754.6" r="2.2" fill="#fff" stroke="#000" stroke-width="1.3"/>
<circle cx="619.0" cy="759.6" r="2.2" fill="#fff" stroke="#000" stroke-width="1.3"/>
<circle cx="595.6" cy="751.6" r="2.2" fill="#fff" stroke="#000" stroke-width="1.3"/>
<circle cx="551.0" cy="753.4" r="2.2" fill="#fff" stroke="#000" stroke-width="1.3"/>
<circle cx="561.4" cy="753.4" r="2.2" fill="#fff" stroke="#000" stroke-width="1.3"/>
<circle cx="599.0" cy="763.0" r="2.2" fill="#fff" stroke="#000" stroke-width="1.3"/>
<circle cx="585.4" cy="773.0" r="2.2" fill="#fff" stroke="#000" stroke-width="1.3"/>
<circle cx="573.0" cy="775.6" r="2.2" fill="#fff" stroke="#000" stroke-width="1.3"/>
<circle cx="572.0" cy="783.6" r="2.2" fill="#fff" stroke="#000" stroke-width="1.3"/>
<circle cx="568.0" cy="785.6" r="2.2" fill="#fff" stroke="#000" stroke-width="1.3"/>
<circle cx="519.0" cy="781.6" r="2.2" fill="#fff" stroke="#000" stroke-width="1.3"/>
<circle cx="509.6" cy="786.0" r="2.2" fill="#fff" stroke="#000" stroke-width="1.3"/>
<circle cx="544.4" cy="794.6" r="2.2" fill="#fff" stroke="#000" stroke-width="1.3"/>
<circle cx="508.6" cy="796.6" r="2.2" fill="#fff" stroke="#000" stroke-width="1.3"/>
<circle cx="547.4" cy="800.4" r="2.2" fill="#fff" stroke="#000" stroke-width="1.3"/>
<circle cx="586.0" cy="798.0" r="2.2" fill="#fff" stroke="#000" stroke-width="1.3"/>
<circle cx="576.6" cy="803.4" r="2.2" fill="#fff" stroke="#000" stroke-width="1.3"/>
<circle cx="582.0" cy="808.0" r="2.2" fill="#fff" stroke="#000" stroke-width="1.3"/>
<circle cx="575.0" cy="814.0" r="2.2" fill="#fff" stroke="#000" stroke-width="1.3"/>
<circle cx="532.0" cy="815.0" r="2.2" fill="#fff" stroke="#000" stroke-width="1.3"/>
<circle cx="535.0" cy="819.0" r="2.2" fill="#fff" stroke="#000" stroke-width="1.3"/>
<circle cx="532.0" cy="824.0" r="2.2" fill="#fff" stroke="#000" stroke-width="1.3"/>
<circle cx="578.0" cy="822.4" r="2.2" fill="#fff" stroke="#000" stroke-width="1.3"/>
<circle cx="552.6" cy="823.6" r="2.2" fill="#fff" stroke="#000" stroke-width="1.3"/>
<circle cx="551.0" cy="826.4" r="2.2" fill="#fff" stroke="#000" stroke-width="1.3"/>
<circle cx="544.4" cy="829.6" r="2.2" fill="#fff" stroke="#000" stroke-width="1.3"/>
<circle cx="540.6" cy="834.6" r="2.2" fill="#fff" stroke="#000" stroke-width="1.3"/>
<circle cx="551.4" cy="834.6" r="2.2" fill="#fff" stroke="#000" stroke-width="1.3"/>
<circle cx="573.0" cy="834.6" r="2.2" fill="#fff" stroke="#000" stroke-width="1.3"/>
<circle cx="583.0" cy="830.4" r="2.2" fill="#fff" stroke="#000" stroke-width="1.3"/>
<circle cx="590.6" cy="827.0" r="2.2" fill="#fff" stroke="#000" stroke-width="1.3"/>
<circle cx="592.0" cy="830.4" r="2.2" fill="#fff" stroke="#000" stroke-width="1.3"/>
<circle cx="608.0" cy="834.0" r="2.2" fill="#fff" stroke="#000" stroke-width="1.3"/>
<circle cx="575.6" cy="842.0" r="2.2" fill="#fff" stroke="#000" stroke-width="1.3"/>
<circle cx="533.6" cy="845.4" r="2.2" fill="#fff" stroke="#000" stroke-width="1.3"/>
<circle cx="527.6" cy="847.0" r="2.2" fill="#fff" stroke="#000" stroke-width="1.3"/>
<circle cx="530.0" cy="849.4" r="2.2" fill="#fff" stroke="#000" stroke-width="1.3"/>
<circle cx="498.6" cy="852.4" r="2.2" fill="#fff" stroke="#000" stroke-width="1.3"/>
<circle cx="465.1" cy="830.8" r="2.2" fill="#fff" stroke="#000" stroke-width="1.3"/>
<circle cx="183.4" cy="654.6" r="2.3" fill="#00007c" stroke="#000" stroke-width="1.0"/>
<circle cx="256.0" cy="655.6" r="2.3" fill="#00007c" stroke="#000" stroke-width="1.0"/>
<circle cx="309.4" cy="671.4" r="2.3" fill="#00007c" stroke="#000" stroke-width="1.0"/>
<circle cx="470.2" cy="550.4" r="2.3" fill="#00007c" stroke="#000" stroke-width="1.0"/>
<circle cx="413.0" cy="639.0" r="2.3" fill="#00007c" stroke="#000" stroke-width="1.0"/>
<circle cx="426.0" cy="654.0" r="2.3" fill="#00007c" stroke="#000" stroke-width="1.0"/>
<circle cx="445.4" cy="653.0" r="2.3" fill="#00007c" stroke="#000" stroke-width="1.0"/>
<circle cx="612.0" cy="569.4" r="2.3" fill="#00007c" stroke="#000" stroke-width="1.0"/>
<circle cx="575.0" cy="658.6" r="2.3" fill="#00007c" stroke="#000" stroke-width="1.0"/>
<circle cx="543.4" cy="685.0" r="2.3" fill="#00007c" stroke="#000" stroke-width="1.0"/>
<circle cx="575.6" cy="694.4" r="2.3" fill="#00007c" stroke="#000" stroke-width="1.0"/>
<circle cx="521.0" cy="715.6" r="2.3" fill="#00007c" stroke="#000" stroke-width="1.0"/>
<circle cx="174.0" cy="682.0" r="2.3" fill="#00007c" stroke="#000" stroke-width="1.0"/>
<circle cx="178.0" cy="683.4" r="2.3" fill="#00007c" stroke="#000" stroke-width="1.0"/>
<circle cx="146.6" cy="690.6" r="2.3" fill="#00007c" stroke="#000" stroke-width="1.0"/>
<circle cx="183.0" cy="705.0" r="2.3" fill="#00007c" stroke="#000" stroke-width="1.0"/>
<circle cx="114.6" cy="722.0" r="2.3" fill="#00007c" stroke="#000" stroke-width="1.0"/>
<circle cx="201.6" cy="717.6" r="2.3" fill="#00007c" stroke="#000" stroke-width="1.0"/>
<circle cx="195.0" cy="727.4" r="2.3" fill="#00007c" stroke="#000" stroke-width="1.0"/>
<circle cx="177.6" cy="732.0" r="2.3" fill="#00007c" stroke="#000" stroke-width="1.0"/>
<circle cx="180.0" cy="736.6" r="2.3" fill="#00007c" stroke="#000" stroke-width="1.0"/>
<circle cx="203.4" cy="738.4" r="2.3" fill="#00007c" stroke="#000" stroke-width="1.0"/>
<circle cx="214.6" cy="743.4" r="2.3" fill="#00007c" stroke="#000" stroke-width="1.0"/>
<circle cx="100.0" cy="750.0" r="2.3" fill="#00007c" stroke="#000" stroke-width="1.0"/>
<circle cx="102.4" cy="758.4" r="2.3" fill="#00007c" stroke="#000" stroke-width="1.0"/>
<circle cx="134.0" cy="753.4" r="2.3" fill="#00007c" stroke="#000" stroke-width="1.0"/>
<circle cx="126.6" cy="759.6" r="2.3" fill="#00007c" stroke="#000" stroke-width="1.0"/>
<circle cx="127.0" cy="767.4" r="2.3" fill="#00007c" stroke="#000" stroke-width="1.0"/>
<circle cx="181.2" cy="749.0" r="2.3" fill="#00007c" stroke="#000" stroke-width="1.0"/>
<circle cx="201.4" cy="750.0" r="2.3" fill="#00007c" stroke="#000" stroke-width="1.0"/>
<circle cx="201.0" cy="757.4" r="2.3" fill="#00007c" stroke="#000" stroke-width="1.0"/>
<circle cx="219.0" cy="758.0" r="2.3" fill="#00007c" stroke="#000" stroke-width="1.0"/>
<circle cx="221.0" cy="762.0" r="2.3" fill="#00007c" stroke="#000" stroke-width="1.0"/>
<circle cx="183.6" cy="762.0" r="2.3" fill="#00007c" stroke="#000" stroke-width="1.0"/>
<circle cx="191.0" cy="758.6" r="2.3" fill="#00007c" stroke="#000" stroke-width="1.0"/>
<circle cx="181.6" cy="773.4" r="2.3" fill="#00007c" stroke="#000" stroke-width="1.0"/>
<circle cx="181.6" cy="778.6" r="2.3" fill="#00007c" stroke="#000" stroke-width="1.0"/>
<circle cx="206.0" cy="780.4" r="2.3" fill="#00007c" stroke="#000" stroke-width="1.0"/>
<circle cx="206.4" cy="789.0" r="2.3" fill="#00007c" stroke="#000" stroke-width="1.0"/>
<circle cx="178.4" cy="795.0" r="2.3" fill="#00007c" stroke="#000" stroke-width="1.0"/>
<circle cx="202.0" cy="795.0" r="2.3" fill="#00007c" stroke="#000" stroke-width="1.0"/>
<circle cx="201.6" cy="800.4" r="2.3" fill="#00007c" stroke="#000" stroke-width="1.0"/>
<circle cx="215.0" cy="801.0" r="2.3" fill="#00007c" stroke="#000" stroke-width="1.0"/>
<circle cx="185.4" cy="811.0" r="2.3" fill="#00007c" stroke="#000" stroke-width="1.0"/>
<circle cx="194.0" cy="812.4" r="2.3" fill="#00007c" stroke="#000" stroke-width="1.0"/>
<circle cx="202.0" cy="813.0" r="2.3" fill="#00007c" stroke="#000" stroke-width="1.0"/>
<circle cx="206.0" cy="809.0" r="2.3" fill="#00007c" stroke="#000" stroke-width="1.0"/>
<circle cx="204.0" cy="819.0" r="2.3" fill="#00007c" stroke="#000" stroke-width="1.0"/>
<circle cx="220.4" cy="819.0" r="2.3" fill="#00007c" stroke="#000" stroke-width="1.0"/>
<circle cx="181.6" cy="831.4" r="2.3" fill="#00007c" stroke="#000" stroke-width="1.0"/>
<circle cx="195.6" cy="835.0" r="2.3" fill="#00007c" stroke="#000" stroke-width="1.0"/>
<circle cx="199.4" cy="833.4" r="2.3" fill="#00007c" stroke="#000" stroke-width="1.0"/>
<circle cx="202.6" cy="831.4" r="2.3" fill="#00007c" stroke="#000" stroke-width="1.0"/>
<circle cx="218.0" cy="830.0" r="2.3" fill="#00007c" stroke="#000" stroke-width="1.0"/>
<circle cx="201.0" cy="840.4" r="2.3" fill="#00007c" stroke="#000" stroke-width="1.0"/>
<circle cx="218.4" cy="836.0" r="2.3" fill="#00007c" stroke="#000" stroke-width="1.0"/>
<circle cx="222.0" cy="837.0" r="2.3" fill="#00007c" stroke="#000" stroke-width="1.0"/>
<circle cx="179.6" cy="847.0" r="2.3" fill="#00007c" stroke="#000" stroke-width="1.0"/>
<circle cx="192.0" cy="845.4" r="2.3" fill="#00007c" stroke="#000" stroke-width="1.0"/>
<circle cx="194.0" cy="852.4" r="2.3" fill="#00007c" stroke="#000" stroke-width="1.0"/>
<circle cx="115.5" cy="777.9" r="2.3" fill="#00007c" stroke="#000" stroke-width="1.0"/>
<circle cx="99.3" cy="787.9" r="2.3" fill="#00007c" stroke="#000" stroke-width="1.0"/>
<circle cx="96.0" cy="793.6" r="2.3" fill="#00007c" stroke="#000" stroke-width="1.0"/>
<circle cx="100.3" cy="797.6" r="2.3" fill="#00007c" stroke="#000" stroke-width="1.0"/>
<circle cx="110.6" cy="802.5" r="2.3" fill="#00007c" stroke="#000" stroke-width="1.0"/>
<circle cx="118.8" cy="809.8" r="2.3" fill="#00007c" stroke="#000" stroke-width="1.0"/>
<circle cx="141.1" cy="804.9" r="2.3" fill="#00007c" stroke="#000" stroke-width="1.0"/>
<circle cx="129.8" cy="810.2" r="2.3" fill="#00007c" stroke="#000" stroke-width="1.0"/>
<circle cx="127.2" cy="813.2" r="2.3" fill="#00007c" stroke="#000" stroke-width="1.0"/>
<circle cx="107.5" cy="813.2" r="2.3" fill="#00007c" stroke="#000" stroke-width="1.0"/>
<circle cx="97.7" cy="814.8" r="2.3" fill="#00007c" stroke="#000" stroke-width="1.0"/>
<circle cx="98.2" cy="821.2" r="2.3" fill="#00007c" stroke="#000" stroke-width="1.0"/>
<circle cx="138.5" cy="816.2" r="2.3" fill="#00007c" stroke="#000" stroke-width="1.0"/>
<circle cx="139.5" cy="820.8" r="2.3" fill="#00007c" stroke="#000" stroke-width="1.0"/>
<circle cx="139.5" cy="823.1" r="2.3" fill="#00007c" stroke="#000" stroke-width="1.0"/>
<circle cx="124.1" cy="821.5" r="2.3" fill="#00007c" stroke="#000" stroke-width="1.0"/>
<circle cx="124.1" cy="829.1" r="2.3" fill="#00007c" stroke="#000" stroke-width="1.0"/>
<circle cx="99.3" cy="830.8" r="2.3" fill="#00007c" stroke="#000" stroke-width="1.0"/>
<circle cx="135.6" cy="833.7" r="2.3" fill="#00007c" stroke="#000" stroke-width="1.0"/>
<circle cx="131.2" cy="839.0" r="2.3" fill="#00007c" stroke="#000" stroke-width="1.0"/>
<circle cx="113.0" cy="840.1" r="2.3" fill="#00007c" stroke="#000" stroke-width="1.0"/>
<circle cx="114.2" cy="844.3" r="2.3" fill="#00007c" stroke="#000" stroke-width="1.0"/>
<circle cx="100.2" cy="844.1" r="2.3" fill="#00007c" stroke="#000" stroke-width="1.0"/>
<circle cx="131.6" cy="845.7" r="2.3" fill="#00007c" stroke="#000" stroke-width="1.0"/>
<circle cx="147.1" cy="842.7" r="2.3" fill="#00007c" stroke="#000" stroke-width="1.0"/>
<circle cx="125.9" cy="853.1" r="2.3" fill="#00007c" stroke="#000" stroke-width="1.0"/>
<circle cx="118.8" cy="855.0" r="2.3" fill="#00007c" stroke="#000" stroke-width="1.0"/>
<circle cx="137.5" cy="854.3" r="2.3" fill="#00007c" stroke="#000" stroke-width="1.0"/>
<circle cx="157.1" cy="852.0" r="2.3" fill="#00007c" stroke="#000" stroke-width="1.0"/>
<circle cx="162.4" cy="848.3" r="2.3" fill="#00007c" stroke="#000" stroke-width="1.0"/>
<circle cx="162.4" cy="855.4" r="2.3" fill="#00007c" stroke="#000" stroke-width="1.0"/>
<circle cx="169.7" cy="848.1" r="2.3" fill="#00007c" stroke="#000" stroke-width="1.0"/>
<circle cx="166.4" cy="779.6" r="2.3" fill="#00007c" stroke="#000" stroke-width="1.0"/>
<circle cx="173.7" cy="773.7" r="2.3" fill="#00007c" stroke="#000" stroke-width="1.0"/>
<circle cx="159.5" cy="786.3" r="2.3" fill="#00007c" stroke="#000" stroke-width="1.0"/>
<circle cx="167.0" cy="804.2" r="2.3" fill="#00007c" stroke="#000" stroke-width="1.0"/>
<circle cx="167.7" cy="809.5" r="2.3" fill="#00007c" stroke="#000" stroke-width="1.0"/>
<circle cx="162.4" cy="814.8" r="2.3" fill="#00007c" stroke="#000" stroke-width="1.0"/>
<circle cx="166.8" cy="814.8" r="2.3" fill="#00007c" stroke="#000" stroke-width="1.0"/>
<circle cx="173.7" cy="822.1" r="2.3" fill="#00007c" stroke="#000" stroke-width="1.0"/>
<circle cx="161.7" cy="826.8" r="2.3" fill="#00007c" stroke="#000" stroke-width="1.0"/>
<circle cx="88.4" cy="837.4" r="2.3" fill="#00007c" stroke="#000" stroke-width="1.0"/>
<circle cx="90.0" cy="831.4" r="2.3" fill="#00007c" stroke="#000" stroke-width="1.0"/>
<circle cx="231.0" cy="688.4" r="2.3" fill="#00007c" stroke="#000" stroke-width="1.0"/>
<circle cx="279.0" cy="690.0" r="2.3" fill="#00007c" stroke="#000" stroke-width="1.0"/>
<circle cx="309.0" cy="688.0" r="2.3" fill="#00007c" stroke="#000" stroke-width="1.0"/>
<circle cx="320.6" cy="682.6" r="2.3" fill="#00007c" stroke="#000" stroke-width="1.0"/>
<circle cx="322.4" cy="693.0" r="2.3" fill="#00007c" stroke="#000" stroke-width="1.0"/>
<circle cx="344.4" cy="690.0" r="2.3" fill="#00007c" stroke="#000" stroke-width="1.0"/>
<circle cx="343.0" cy="705.4" r="2.3" fill="#00007c" stroke="#000" stroke-width="1.0"/>
<circle cx="339.6" cy="713.4" r="2.3" fill="#00007c" stroke="#000" stroke-width="1.0"/>
<circle cx="321.6" cy="710.4" r="2.3" fill="#00007c" stroke="#000" stroke-width="1.0"/>
<circle cx="324.4" cy="715.4" r="2.3" fill="#00007c" stroke="#000" stroke-width="1.0"/>
<circle cx="326.4" cy="720.0" r="2.3" fill="#00007c" stroke="#000" stroke-width="1.0"/>
<circle cx="294.4" cy="707.0" r="2.3" fill="#00007c" stroke="#000" stroke-width="1.0"/>
<circle cx="273.0" cy="712.0" r="2.3" fill="#00007c" stroke="#000" stroke-width="1.0"/>
<circle cx="288.0" cy="713.6" r="2.3" fill="#00007c" stroke="#000" stroke-width="1.0"/>
<circle cx="270.6" cy="721.0" r="2.3" fill="#00007c" stroke="#000" stroke-width="1.0"/>
<circle cx="255.0" cy="731.6" r="2.3" fill="#00007c" stroke="#000" stroke-width="1.0"/>
<circle cx="253.6" cy="742.0" r="2.3" fill="#00007c" stroke="#000" stroke-width="1.0"/>
<circle cx="256.6" cy="742.0" r="2.3" fill="#00007c" stroke="#000" stroke-width="1.0"/>
<circle cx="283.0" cy="733.6" r="2.3" fill="#00007c" stroke="#000" stroke-width="1.0"/>
<circle cx="292.6" cy="744.0" r="2.3" fill="#00007c" stroke="#000" stroke-width="1.0"/>
<circle cx="270.6" cy="748.0" r="2.3" fill="#00007c" stroke="#000" stroke-width="1.0"/>
<circle cx="225.0" cy="751.0" r="2.3" fill="#00007c" stroke="#000" stroke-width="1.0"/>
<circle cx="256.0" cy="755.4" r="2.3" fill="#00007c" stroke="#000" stroke-width="1.0"/>
<circle cx="247.4" cy="758.4" r="2.3" fill="#00007c" stroke="#000" stroke-width="1.0"/>
<circle cx="289.0" cy="761.0" r="2.3" fill="#00007c" stroke="#000" stroke-width="1.0"/>
<circle cx="321.0" cy="753.6" r="2.3" fill="#00007c" stroke="#000" stroke-width="1.0"/>
<circle cx="329.0" cy="756.0" r="2.3" fill="#00007c" stroke="#000" stroke-width="1.0"/>
<circle cx="351.4" cy="739.0" r="2.3" fill="#00007c" stroke="#000" stroke-width="1.0"/>
<circle cx="347.0" cy="763.4" r="2.3" fill="#00007c" stroke="#000" stroke-width="1.0"/>
<circle cx="239.6" cy="773.6" r="2.3" fill="#00007c" stroke="#000" stroke-width="1.0"/>
<circle cx="310.4" cy="767.4" r="2.3" fill="#00007c" stroke="#000" stroke-width="1.0"/>
<circle cx="313.6" cy="775.0" r="2.3" fill="#00007c" stroke="#000" stroke-width="1.0"/>
<circle cx="286.6" cy="773.0" r="2.3" fill="#00007c" stroke="#000" stroke-width="1.0"/>
<circle cx="288.4" cy="779.0" r="2.3" fill="#00007c" stroke="#000" stroke-width="1.0"/>
<circle cx="296.6" cy="776.0" r="2.3" fill="#00007c" stroke="#000" stroke-width="1.0"/>
<circle cx="327.4" cy="775.0" r="2.3" fill="#00007c" stroke="#000" stroke-width="1.0"/>
<circle cx="329.0" cy="779.0" r="2.3" fill="#00007c" stroke="#000" stroke-width="1.0"/>
<circle cx="325.0" cy="782.0" r="2.3" fill="#00007c" stroke="#000" stroke-width="1.0"/>
<circle cx="322.4" cy="785.0" r="2.3" fill="#00007c" stroke="#000" stroke-width="1.0"/>
<circle cx="346.4" cy="778.4" r="2.3" fill="#00007c" stroke="#000" stroke-width="1.0"/>
<circle cx="352.6" cy="782.0" r="2.3" fill="#00007c" stroke="#000" stroke-width="1.0"/>
<circle cx="356.6" cy="780.4" r="2.3" fill="#00007c" stroke="#000" stroke-width="1.0"/>
<circle cx="225.0" cy="780.0" r="2.3" fill="#00007c" stroke="#000" stroke-width="1.0"/>
<circle cx="234.4" cy="783.4" r="2.3" fill="#00007c" stroke="#000" stroke-width="1.0"/>
<circle cx="261.6" cy="785.0" r="2.3" fill="#00007c" stroke="#000" stroke-width="1.0"/>
<circle cx="274.6" cy="785.0" r="2.3" fill="#00007c" stroke="#000" stroke-width="1.0"/>
<circle cx="286.6" cy="787.0" r="2.3" fill="#00007c" stroke="#000" stroke-width="1.0"/>
<circle cx="301.6" cy="789.6" r="2.3" fill="#00007c" stroke="#000" stroke-width="1.0"/>
<circle cx="315.0" cy="786.0" r="2.3" fill="#00007c" stroke="#000" stroke-width="1.0"/>
<circle cx="314.4" cy="793.4" r="2.3" fill="#00007c" stroke="#000" stroke-width="1.0"/>
<circle cx="316.4" cy="796.0" r="2.3" fill="#00007c" stroke="#000" stroke-width="1.0"/>
<circle cx="322.4" cy="792.0" r="2.3" fill="#00007c" stroke="#000" stroke-width="1.0"/>
<circle cx="274.6" cy="795.4" r="2.3" fill="#00007c" stroke="#000" stroke-width="1.0"/>
<circle cx="283.0" cy="793.4" r="2.3" fill="#00007c" stroke="#000" stroke-width="1.0"/>
<circle cx="285.6" cy="796.0" r="2.3" fill="#00007c" stroke="#000" stroke-width="1.0"/>
<circle cx="232.6" cy="798.0" r="2.3" fill="#00007c" stroke="#000" stroke-width="1.0"/>
<circle cx="242.0" cy="796.6" r="2.3" fill="#00007c" stroke="#000" stroke-width="1.0"/>
<circle cx="249.4" cy="796.6" r="2.3" fill="#00007c" stroke="#000" stroke-width="1.0"/>
<circle cx="264.0" cy="799.0" r="2.3" fill="#00007c" stroke="#000" stroke-width="1.0"/>
<circle cx="263.0" cy="804.0" r="2.3" fill="#00007c" stroke="#000" stroke-width="1.0"/>
<circle cx="226.6" cy="806.0" r="2.3" fill="#00007c" stroke="#000" stroke-width="1.0"/>
<circle cx="238.4" cy="811.0" r="2.3" fill="#00007c" stroke="#000" stroke-width="1.0"/>
<circle cx="237.0" cy="814.0" r="2.3" fill="#00007c" stroke="#000" stroke-width="1.0"/>
<circle cx="294.4" cy="803.0" r="2.3" fill="#00007c" stroke="#000" stroke-width="1.0"/>
<circle cx="293.4" cy="809.0" r="2.3" fill="#00007c" stroke="#000" stroke-width="1.0"/>
<circle cx="300.6" cy="807.0" r="2.3" fill="#00007c" stroke="#000" stroke-width="1.0"/>
<circle cx="308.0" cy="802.4" r="2.3" fill="#00007c" stroke="#000" stroke-width="1.0"/>
<circle cx="314.4" cy="802.4" r="2.3" fill="#00007c" stroke="#000" stroke-width="1.0"/>
<circle cx="312.6" cy="810.0" r="2.3" fill="#00007c" stroke="#000" stroke-width="1.0"/>
<circle cx="316.4" cy="814.0" r="2.3" fill="#00007c" stroke="#000" stroke-width="1.0"/>
<circle cx="331.6" cy="802.6" r="2.3" fill="#00007c" stroke="#000" stroke-width="1.0"/>
<circle cx="345.6" cy="798.4" r="2.3" fill="#00007c" stroke="#000" stroke-width="1.0"/>
<circle cx="330.4" cy="817.6" r="2.3" fill="#00007c" stroke="#000" stroke-width="1.0"/>
<circle cx="360.0" cy="810.0" r="2.3" fill="#00007c" stroke="#000" stroke-width="1.0"/>
<circle cx="257.0" cy="818.0" r="2.3" fill="#00007c" stroke="#000" stroke-width="1.0"/>
<circle cx="249.6" cy="821.0" r="2.3" fill="#00007c" stroke="#000" stroke-width="1.0"/>
<circle cx="251.6" cy="824.0" r="2.3" fill="#00007c" stroke="#000" stroke-width="1.0"/>
<circle cx="248.0" cy="826.0" r="2.3" fill="#00007c" stroke="#000" stroke-width="1.0"/>
<circle cx="256.4" cy="828.0" r="2.3" fill="#00007c" stroke="#000" stroke-width="1.0"/>
<circle cx="243.0" cy="823.0" r="2.3" fill="#00007c" stroke="#000" stroke-width="1.0"/>
<circle cx="300.4" cy="821.0" r="2.3" fill="#00007c" stroke="#000" stroke-width="1.0"/>
<circle cx="300.0" cy="825.0" r="2.3" fill="#00007c" stroke="#000" stroke-width="1.0"/>
<circle cx="310.4" cy="820.4" r="2.3" fill="#00007c" stroke="#000" stroke-width="1.0"/>
<circle cx="311.6" cy="825.0" r="2.3" fill="#00007c" stroke="#000" stroke-width="1.0"/>
<circle cx="304.4" cy="818.0" r="2.3" fill="#00007c" stroke="#000" stroke-width="1.0"/>
<circle cx="323.6" cy="826.4" r="2.3" fill="#00007c" stroke="#000" stroke-width="1.0"/>
<circle cx="336.4" cy="823.6" r="2.3" fill="#00007c" stroke="#000" stroke-width="1.0"/>
<circle cx="247.0" cy="832.0" r="2.3" fill="#00007c" stroke="#000" stroke-width="1.0"/>
<circle cx="244.6" cy="837.0" r="2.3" fill="#00007c" stroke="#000" stroke-width="1.0"/>
<circle cx="243.0" cy="842.0" r="2.3" fill="#00007c" stroke="#000" stroke-width="1.0"/>
<circle cx="267.4" cy="835.0" r="2.3" fill="#00007c" stroke="#000" stroke-width="1.0"/>
<circle cx="288.4" cy="836.0" r="2.3" fill="#00007c" stroke="#000" stroke-width="1.0"/>
<circle cx="257.6" cy="841.0" r="2.3" fill="#00007c" stroke="#000" stroke-width="1.0"/>
<circle cx="264.0" cy="843.4" r="2.3" fill="#00007c" stroke="#000" stroke-width="1.0"/>
<circle cx="306.4" cy="842.0" r="2.3" fill="#00007c" stroke="#000" stroke-width="1.0"/>
<circle cx="312.0" cy="844.0" r="2.3" fill="#00007c" stroke="#000" stroke-width="1.0"/>
<circle cx="297.4" cy="845.0" r="2.3" fill="#00007c" stroke="#000" stroke-width="1.0"/>
<circle cx="323.0" cy="845.4" r="2.3" fill="#00007c" stroke="#000" stroke-width="1.0"/>
<circle cx="337.0" cy="843.0" r="2.3" fill="#00007c" stroke="#000" stroke-width="1.0"/>
<circle cx="235.0" cy="852.4" r="2.3" fill="#00007c" stroke="#000" stroke-width="1.0"/>
<circle cx="241.0" cy="852.0" r="2.3" fill="#00007c" stroke="#000" stroke-width="1.0"/>
<circle cx="246.4" cy="859.0" r="2.3" fill="#00007c" stroke="#000" stroke-width="1.0"/>
<circle cx="308.0" cy="852.6" r="2.3" fill="#00007c" stroke="#000" stroke-width="1.0"/>
<circle cx="328.0" cy="859.0" r="2.3" fill="#00007c" stroke="#000" stroke-width="1.0"/>
<circle cx="356.6" cy="847.4" r="2.3" fill="#00007c" stroke="#000" stroke-width="1.0"/>
<circle cx="359.0" cy="851.0" r="2.3" fill="#00007c" stroke="#000" stroke-width="1.0"/>
<circle cx="355.0" cy="852.0" r="2.3" fill="#00007c" stroke="#000" stroke-width="1.0"/>
<circle cx="223.0" cy="833.0" r="2.3" fill="#00007c" stroke="#000" stroke-width="1.0"/>
<circle cx="393.6" cy="689.0" r="2.3" fill="#00007c" stroke="#000" stroke-width="1.0"/>
<circle cx="401.4" cy="698.0" r="2.3" fill="#00007c" stroke="#000" stroke-width="1.0"/>
<circle cx="416.6" cy="700.6" r="2.3" fill="#00007c" stroke="#000" stroke-width="1.0"/>
<circle cx="433.6" cy="688.0" r="2.3" fill="#00007c" stroke="#000" stroke-width="1.0"/>
<circle cx="441.0" cy="685.4" r="2.3" fill="#00007c" stroke="#000" stroke-width="1.0"/>
<circle cx="381.0" cy="705.4" r="2.3" fill="#00007c" stroke="#000" stroke-width="1.0"/>
<circle cx="399.6" cy="712.0" r="2.3" fill="#00007c" stroke="#000" stroke-width="1.0"/>
<circle cx="398.4" cy="719.0" r="2.3" fill="#00007c" stroke="#000" stroke-width="1.0"/>
<circle cx="412.0" cy="716.6" r="2.3" fill="#00007c" stroke="#000" stroke-width="1.0"/>
<circle cx="428.0" cy="715.0" r="2.3" fill="#00007c" stroke="#000" stroke-width="1.0"/>
<circle cx="438.4" cy="729.0" r="2.3" fill="#00007c" stroke="#000" stroke-width="1.0"/>
<circle cx="393.0" cy="733.0" r="2.3" fill="#00007c" stroke="#000" stroke-width="1.0"/>
<circle cx="396.0" cy="735.0" r="2.3" fill="#00007c" stroke="#000" stroke-width="1.0"/>
<circle cx="442.0" cy="740.4" r="2.3" fill="#00007c" stroke="#000" stroke-width="1.0"/>
<circle cx="406.4" cy="758.6" r="2.3" fill="#00007c" stroke="#000" stroke-width="1.0"/>
<circle cx="462.0" cy="756.4" r="2.3" fill="#00007c" stroke="#000" stroke-width="1.0"/>
<circle cx="472.6" cy="762.0" r="2.3" fill="#00007c" stroke="#000" stroke-width="1.0"/>
<circle cx="414.4" cy="769.0" r="2.3" fill="#00007c" stroke="#000" stroke-width="1.0"/>
<circle cx="400.0" cy="772.4" r="2.3" fill="#00007c" stroke="#000" stroke-width="1.0"/>
<circle cx="384.0" cy="777.4" r="2.3" fill="#00007c" stroke="#000" stroke-width="1.0"/>
<circle cx="381.6" cy="779.0" r="2.3" fill="#00007c" stroke="#000" stroke-width="1.0"/>
<circle cx="362.0" cy="777.6" r="2.3" fill="#00007c" stroke="#000" stroke-width="1.0"/>
<circle cx="371.4" cy="779.6" r="2.3" fill="#00007c" stroke="#000" stroke-width="1.0"/>
<circle cx="390.6" cy="782.0" r="2.3" fill="#00007c" stroke="#000" stroke-width="1.0"/>
<circle cx="406.0" cy="783.4" r="2.3" fill="#00007c" stroke="#000" stroke-width="1.0"/>
<circle cx="364.4" cy="786.4" r="2.3" fill="#00007c" stroke="#000" stroke-width="1.0"/>
<circle cx="377.4" cy="790.4" r="2.3" fill="#00007c" stroke="#000" stroke-width="1.0"/>
<circle cx="466.0" cy="778.0" r="2.3" fill="#00007c" stroke="#000" stroke-width="1.0"/>
<circle cx="437.6" cy="790.6" r="2.3" fill="#00007c" stroke="#000" stroke-width="1.0"/>
<circle cx="439.6" cy="795.0" r="2.3" fill="#00007c" stroke="#000" stroke-width="1.0"/>
<circle cx="438.4" cy="799.4" r="2.3" fill="#00007c" stroke="#000" stroke-width="1.0"/>
<circle cx="423.6" cy="793.4" r="2.3" fill="#00007c" stroke="#000" stroke-width="1.0"/>
<circle cx="462.6" cy="794.0" r="2.3" fill="#00007c" stroke="#000" stroke-width="1.0"/>
<circle cx="425.0" cy="801.0" r="2.3" fill="#00007c" stroke="#000" stroke-width="1.0"/>
<circle cx="426.4" cy="804.4" r="2.3" fill="#00007c" stroke="#000" stroke-width="1.0"/>
<circle cx="385.0" cy="799.4" r="2.3" fill="#00007c" stroke="#000" stroke-width="1.0"/>
<circle cx="371.0" cy="806.4" r="2.3" fill="#00007c" stroke="#000" stroke-width="1.0"/>
<circle cx="380.0" cy="812.4" r="2.3" fill="#00007c" stroke="#000" stroke-width="1.0"/>
<circle cx="384.4" cy="809.0" r="2.3" fill="#00007c" stroke="#000" stroke-width="1.0"/>
<circle cx="394.6" cy="812.0" r="2.3" fill="#00007c" stroke="#000" stroke-width="1.0"/>
<circle cx="400.0" cy="805.0" r="2.3" fill="#00007c" stroke="#000" stroke-width="1.0"/>
<circle cx="440.6" cy="808.0" r="2.3" fill="#00007c" stroke="#000" stroke-width="1.0"/>
<circle cx="447.6" cy="807.4" r="2.3" fill="#00007c" stroke="#000" stroke-width="1.0"/>
<circle cx="440.6" cy="812.0" r="2.3" fill="#00007c" stroke="#000" stroke-width="1.0"/>
<circle cx="446.6" cy="817.0" r="2.3" fill="#00007c" stroke="#000" stroke-width="1.0"/>
<circle cx="454.0" cy="802.6" r="2.3" fill="#00007c" stroke="#000" stroke-width="1.0"/>
<circle cx="455.6" cy="813.0" r="2.3" fill="#00007c" stroke="#000" stroke-width="1.0"/>
<circle cx="462.6" cy="812.0" r="2.3" fill="#00007c" stroke="#000" stroke-width="1.0"/>
<circle cx="465.0" cy="809.0" r="2.3" fill="#00007c" stroke="#000" stroke-width="1.0"/>
<circle cx="469.6" cy="809.4" r="2.3" fill="#00007c" stroke="#000" stroke-width="1.0"/>
<circle cx="473.0" cy="814.0" r="2.3" fill="#00007c" stroke="#000" stroke-width="1.0"/>
<circle cx="476.6" cy="806.6" r="2.3" fill="#00007c" stroke="#000" stroke-width="1.0"/>
<circle cx="479.6" cy="804.6" r="2.3" fill="#00007c" stroke="#000" stroke-width="1.0"/>
<circle cx="490.4" cy="805.0" r="2.3" fill="#00007c" stroke="#000" stroke-width="1.0"/>
<circle cx="483.4" cy="820.4" r="2.3" fill="#00007c" stroke="#000" stroke-width="1.0"/>
<circle cx="458.0" cy="821.6" r="2.3" fill="#00007c" stroke="#000" stroke-width="1.0"/>
<circle cx="446.4" cy="824.0" r="2.3" fill="#00007c" stroke="#000" stroke-width="1.0"/>
<circle cx="450.0" cy="826.0" r="2.3" fill="#00007c" stroke="#000" stroke-width="1.0"/>
<circle cx="367.4" cy="826.0" r="2.3" fill="#00007c" stroke="#000" stroke-width="1.0"/>
<circle cx="373.0" cy="824.6" r="2.3" fill="#00007c" stroke="#000" stroke-width="1.0"/>
<circle cx="379.0" cy="825.0" r="2.3" fill="#00007c" stroke="#000" stroke-width="1.0"/>
<circle cx="392.4" cy="825.4" r="2.3" fill="#00007c" stroke="#000" stroke-width="1.0"/>
<circle cx="401.0" cy="827.0" r="2.3" fill="#00007c" stroke="#000" stroke-width="1.0"/>
<circle cx="418.0" cy="829.4" r="2.3" fill="#00007c" stroke="#000" stroke-width="1.0"/>
<circle cx="427.0" cy="828.0" r="2.3" fill="#00007c" stroke="#000" stroke-width="1.0"/>
<circle cx="428.6" cy="825.0" r="2.3" fill="#00007c" stroke="#000" stroke-width="1.0"/>
<circle cx="463.4" cy="828.0" r="2.3" fill="#00007c" stroke="#000" stroke-width="1.0"/>
<circle cx="462.6" cy="831.6" r="2.3" fill="#00007c" stroke="#000" stroke-width="1.0"/>
<circle cx="469.0" cy="832.0" r="2.3" fill="#00007c" stroke="#000" stroke-width="1.0"/>
<circle cx="474.0" cy="833.4" r="2.3" fill="#00007c" stroke="#000" stroke-width="1.0"/>
<circle cx="364.0" cy="835.0" r="2.3" fill="#00007c" stroke="#000" stroke-width="1.0"/>
<circle cx="371.0" cy="834.0" r="2.3" fill="#00007c" stroke="#000" stroke-width="1.0"/>
<circle cx="374.4" cy="834.0" r="2.3" fill="#00007c" stroke="#000" stroke-width="1.0"/>
<circle cx="379.4" cy="832.6" r="2.3" fill="#00007c" stroke="#000" stroke-width="1.0"/>
<circle cx="380.0" cy="836.6" r="2.3" fill="#00007c" stroke="#000" stroke-width="1.0"/>
<circle cx="403.0" cy="835.0" r="2.3" fill="#00007c" stroke="#000" stroke-width="1.0"/>
<circle cx="449.0" cy="839.0" r="2.3" fill="#00007c" stroke="#000" stroke-width="1.0"/>
<circle cx="459.6" cy="841.6" r="2.3" fill="#00007c" stroke="#000" stroke-width="1.0"/>
<circle cx="495.4" cy="842.0" r="2.3" fill="#00007c" stroke="#000" stroke-width="1.0"/>
<circle cx="379.4" cy="849.6" r="2.3" fill="#00007c" stroke="#000" stroke-width="1.0"/>
<circle cx="391.0" cy="851.0" r="2.3" fill="#00007c" stroke="#000" stroke-width="1.0"/>
<circle cx="394.4" cy="848.0" r="2.3" fill="#00007c" stroke="#000" stroke-width="1.0"/>
<circle cx="397.6" cy="851.4" r="2.3" fill="#00007c" stroke="#000" stroke-width="1.0"/>
<circle cx="409.0" cy="852.0" r="2.3" fill="#00007c" stroke="#000" stroke-width="1.0"/>
<circle cx="421.0" cy="847.4" r="2.3" fill="#00007c" stroke="#000" stroke-width="1.0"/>
<circle cx="424.0" cy="853.0" r="2.3" fill="#00007c" stroke="#000" stroke-width="1.0"/>
<circle cx="418.0" cy="857.0" r="2.3" fill="#00007c" stroke="#000" stroke-width="1.0"/>
<circle cx="369.0" cy="852.4" r="2.3" fill="#00007c" stroke="#000" stroke-width="1.0"/>
<circle cx="381.4" cy="855.0" r="2.3" fill="#00007c" stroke="#000" stroke-width="1.0"/>
<circle cx="371.0" cy="859.0" r="2.3" fill="#00007c" stroke="#000" stroke-width="1.0"/>
<circle cx="446.6" cy="852.4" r="2.3" fill="#00007c" stroke="#000" stroke-width="1.0"/>
<circle cx="451.4" cy="853.0" r="2.3" fill="#00007c" stroke="#000" stroke-width="1.0"/>
<circle cx="456.0" cy="851.0" r="2.3" fill="#00007c" stroke="#000" stroke-width="1.0"/>
<circle cx="459.4" cy="850.0" r="2.3" fill="#00007c" stroke="#000" stroke-width="1.0"/>
<circle cx="439.6" cy="856.4" r="2.3" fill="#00007c" stroke="#000" stroke-width="1.0"/>
<circle cx="459.0" cy="860.0" r="2.3" fill="#00007c" stroke="#000" stroke-width="1.0"/>
<circle cx="471.6" cy="857.0" r="2.3" fill="#00007c" stroke="#000" stroke-width="1.0"/>
<circle cx="478.6" cy="856.4" r="2.3" fill="#00007c" stroke="#000" stroke-width="1.0"/>
<circle cx="496.6" cy="852.0" r="2.3" fill="#00007c" stroke="#000" stroke-width="1.0"/>
<circle cx="536.6" cy="744.6" r="2.3" fill="#00007c" stroke="#000" stroke-width="1.0"/>
<circle cx="582.0" cy="743.6" r="2.3" fill="#00007c" stroke="#000" stroke-width="1.0"/>
<circle cx="502.0" cy="758.6" r="2.3" fill="#00007c" stroke="#000" stroke-width="1.0"/>
<circle cx="530.6" cy="765.4" r="2.3" fill="#00007c" stroke="#000" stroke-width="1.0"/>
<circle cx="520.6" cy="772.0" r="2.3" fill="#00007c" stroke="#000" stroke-width="1.0"/>
<circle cx="528.4" cy="774.0" r="2.3" fill="#00007c" stroke="#000" stroke-width="1.0"/>
<circle cx="534.6" cy="780.4" r="2.3" fill="#00007c" stroke="#000" stroke-width="1.0"/>
<circle cx="595.0" cy="767.6" r="2.3" fill="#00007c" stroke="#000" stroke-width="1.0"/>
<circle cx="590.4" cy="772.4" r="2.3" fill="#00007c" stroke="#000" stroke-width="1.0"/>
<circle cx="613.6" cy="783.6" r="2.3" fill="#00007c" stroke="#000" stroke-width="1.0"/>
<circle cx="606.0" cy="788.6" r="2.3" fill="#00007c" stroke="#000" stroke-width="1.0"/>
<circle cx="574.0" cy="788.4" r="2.3" fill="#00007c" stroke="#000" stroke-width="1.0"/>
<circle cx="577.4" cy="796.6" r="2.3" fill="#00007c" stroke="#000" stroke-width="1.0"/>
<circle cx="601.4" cy="801.0" r="2.3" fill="#00007c" stroke="#000" stroke-width="1.0"/>
<circle cx="505.0" cy="800.0" r="2.3" fill="#00007c" stroke="#000" stroke-width="1.0"/>
<circle cx="509.4" cy="800.4" r="2.3" fill="#00007c" stroke="#000" stroke-width="1.0"/>
<circle cx="517.0" cy="800.0" r="2.3" fill="#00007c" stroke="#000" stroke-width="1.0"/>
<circle cx="514.6" cy="806.6" r="2.3" fill="#00007c" stroke="#000" stroke-width="1.0"/>
<circle cx="538.4" cy="806.4" r="2.3" fill="#00007c" stroke="#000" stroke-width="1.0"/>
<circle cx="549.0" cy="803.0" r="2.3" fill="#00007c" stroke="#000" stroke-width="1.0"/>
<circle cx="560.6" cy="802.0" r="2.3" fill="#00007c" stroke="#000" stroke-width="1.0"/>
<circle cx="569.4" cy="809.6" r="2.3" fill="#00007c" stroke="#000" stroke-width="1.0"/>
<circle cx="549.6" cy="811.4" r="2.3" fill="#00007c" stroke="#000" stroke-width="1.0"/>
<circle cx="544.4" cy="815.0" r="2.3" fill="#00007c" stroke="#000" stroke-width="1.0"/>
<circle cx="560.4" cy="813.4" r="2.3" fill="#00007c" stroke="#000" stroke-width="1.0"/>
<circle cx="538.6" cy="817.4" r="2.3" fill="#00007c" stroke="#000" stroke-width="1.0"/>
<circle cx="517.4" cy="817.6" r="2.3" fill="#00007c" stroke="#000" stroke-width="1.0"/>
<circle cx="539.6" cy="824.4" r="2.3" fill="#00007c" stroke="#000" stroke-width="1.0"/>
<circle cx="596.6" cy="834.0" r="2.3" fill="#00007c" stroke="#000" stroke-width="1.0"/>
<circle cx="549.0" cy="843.4" r="2.3" fill="#00007c" stroke="#000" stroke-width="1.0"/>
<circle cx="506.6" cy="843.0" r="2.3" fill="#00007c" stroke="#000" stroke-width="1.0"/>
<circle cx="523.0" cy="852.6" r="2.3" fill="#00007c" stroke="#000" stroke-width="1.0"/>
<circle cx="509.6" cy="857.4" r="2.3" fill="#00007c" stroke="#000" stroke-width="1.0"/>
<circle cx="440.6" cy="815.0" r="2.3" fill="#00007c" stroke="#000" stroke-width="1.0"/>
<circle cx="470.3" cy="824.7" r="2.3" fill="#00007c" stroke="#000" stroke-width="1.0"/>
<circle cx="149.0" cy="703.4" r="2.3" fill="#0c5a1c" stroke="#000" stroke-width="1.0"/>
<circle cx="176.4" cy="710.6" r="2.3" fill="#0c5a1c" stroke="#000" stroke-width="1.0"/>
<circle cx="136.6" cy="747.6" r="2.3" fill="#0c5a1c" stroke="#000" stroke-width="1.0"/>
<circle cx="159.6" cy="743.6" r="2.3" fill="#0c5a1c" stroke="#000" stroke-width="1.0"/>
<circle cx="96.4" cy="757.4" r="2.3" fill="#0c5a1c" stroke="#000" stroke-width="1.0"/>
<circle cx="143.0" cy="764.0" r="2.3" fill="#0c5a1c" stroke="#000" stroke-width="1.0"/>
<circle cx="188.4" cy="743.4" r="2.3" fill="#0c5a1c" stroke="#000" stroke-width="1.0"/>
<circle cx="179.0" cy="817.0" r="2.3" fill="#0c5a1c" stroke="#000" stroke-width="1.0"/>
<circle cx="189.0" cy="817.6" r="2.3" fill="#0c5a1c" stroke="#000" stroke-width="1.0"/>
<circle cx="194.6" cy="817.6" r="2.3" fill="#0c5a1c" stroke="#000" stroke-width="1.0"/>
<circle cx="205.6" cy="829.4" r="2.3" fill="#0c5a1c" stroke="#000" stroke-width="1.0"/>
<circle cx="205.4" cy="843.4" r="2.3" fill="#0c5a1c" stroke="#000" stroke-width="1.0"/>
<circle cx="125.9" cy="779.6" r="2.3" fill="#0c5a1c" stroke="#000" stroke-width="1.0"/>
<circle cx="109.9" cy="820.2" r="2.3" fill="#0c5a1c" stroke="#000" stroke-width="1.0"/>
<circle cx="135.8" cy="828.8" r="2.3" fill="#0c5a1c" stroke="#000" stroke-width="1.0"/>
<circle cx="102.9" cy="835.7" r="2.3" fill="#0c5a1c" stroke="#000" stroke-width="1.0"/>
<circle cx="124.3" cy="847.4" r="2.3" fill="#0c5a1c" stroke="#000" stroke-width="1.0"/>
<circle cx="107.0" cy="850.3" r="2.3" fill="#0c5a1c" stroke="#000" stroke-width="1.0"/>
<circle cx="164.8" cy="820.2" r="2.3" fill="#0c5a1c" stroke="#000" stroke-width="1.0"/>
<circle cx="162.0" cy="852.0" r="2.3" fill="#0c5a1c" stroke="#000" stroke-width="1.0"/>
<circle cx="88.0" cy="826.1" r="2.3" fill="#0c5a1c" stroke="#000" stroke-width="1.0"/>
<circle cx="235.0" cy="727.4" r="2.3" fill="#0c5a1c" stroke="#000" stroke-width="1.0"/>
<circle cx="315.6" cy="770.0" r="2.3" fill="#0c5a1c" stroke="#000" stroke-width="1.0"/>
<circle cx="329.0" cy="768.4" r="2.3" fill="#0c5a1c" stroke="#000" stroke-width="1.0"/>
<circle cx="274.6" cy="783.0" r="2.3" fill="#0c5a1c" stroke="#000" stroke-width="1.0"/>
<circle cx="262.0" cy="782.0" r="2.3" fill="#0c5a1c" stroke="#000" stroke-width="1.0"/>
<circle cx="306.6" cy="786.6" r="2.3" fill="#0c5a1c" stroke="#000" stroke-width="1.0"/>
<circle cx="311.0" cy="790.6" r="2.3" fill="#0c5a1c" stroke="#000" stroke-width="1.0"/>
<circle cx="338.6" cy="796.6" r="2.3" fill="#0c5a1c" stroke="#000" stroke-width="1.0"/>
<circle cx="339.6" cy="801.0" r="2.3" fill="#0c5a1c" stroke="#000" stroke-width="1.0"/>
<circle cx="237.4" cy="797.0" r="2.3" fill="#0c5a1c" stroke="#000" stroke-width="1.0"/>
<circle cx="255.4" cy="806.4" r="2.3" fill="#0c5a1c" stroke="#000" stroke-width="1.0"/>
<circle cx="237.4" cy="815.0" r="2.3" fill="#0c5a1c" stroke="#000" stroke-width="1.0"/>
<circle cx="296.6" cy="816.0" r="2.3" fill="#0c5a1c" stroke="#000" stroke-width="1.0"/>
<circle cx="307.0" cy="814.0" r="2.3" fill="#0c5a1c" stroke="#000" stroke-width="1.0"/>
<circle cx="317.0" cy="840.0" r="2.3" fill="#0c5a1c" stroke="#000" stroke-width="1.0"/>
<circle cx="285.6" cy="852.0" r="2.3" fill="#0c5a1c" stroke="#000" stroke-width="1.0"/>
<circle cx="340.4" cy="849.6" r="2.3" fill="#0c5a1c" stroke="#000" stroke-width="1.0"/>
<circle cx="451.4" cy="681.0" r="2.3" fill="#0c5a1c" stroke="#000" stroke-width="1.0"/>
<circle cx="363.6" cy="696.0" r="2.3" fill="#0c5a1c" stroke="#000" stroke-width="1.0"/>
<circle cx="415.0" cy="690.0" r="2.3" fill="#0c5a1c" stroke="#000" stroke-width="1.0"/>
<circle cx="391.0" cy="711.0" r="2.3" fill="#0c5a1c" stroke="#000" stroke-width="1.0"/>
<circle cx="441.0" cy="714.0" r="2.3" fill="#0c5a1c" stroke="#000" stroke-width="1.0"/>
<circle cx="453.4" cy="745.4" r="2.3" fill="#0c5a1c" stroke="#000" stroke-width="1.0"/>
<circle cx="458.0" cy="804.6" r="2.3" fill="#0c5a1c" stroke="#000" stroke-width="1.0"/>
<circle cx="384.0" cy="812.6" r="2.3" fill="#0c5a1c" stroke="#000" stroke-width="1.0"/>
<circle cx="372.0" cy="822.6" r="2.3" fill="#0c5a1c" stroke="#000" stroke-width="1.0"/>
<circle cx="437.0" cy="822.6" r="2.3" fill="#0c5a1c" stroke="#000" stroke-width="1.0"/>
<circle cx="475.6" cy="819.0" r="2.3" fill="#0c5a1c" stroke="#000" stroke-width="1.0"/>
<circle cx="455.4" cy="843.0" r="2.3" fill="#0c5a1c" stroke="#000" stroke-width="1.0"/>
<circle cx="463.4" cy="845.4" r="2.3" fill="#0c5a1c" stroke="#000" stroke-width="1.0"/>
<circle cx="559.4" cy="779.0" r="2.3" fill="#0c5a1c" stroke="#000" stroke-width="1.0"/>
<circle cx="377.2" cy="661.0" r="8.05" fill="#ffff00" stroke="#000" stroke-width="1.6"/>
<circle cx="189.0" cy="732.0" r="8.05" fill="#ffff00" stroke="#000" stroke-width="1.6"/>
<circle cx="168.8" cy="756.6" r="8.05" fill="#ffff00" stroke="#000" stroke-width="1.6"/>
<circle cx="178.6" cy="803.4" r="8.05" fill="#ffff00" stroke="#000" stroke-width="1.6"/>
<circle cx="177.0" cy="858.0" r="8.05" fill="#ffff00" stroke="#000" stroke-width="1.6"/>
<circle cx="216.0" cy="851.0" r="8.05" fill="#ffff00" stroke="#000" stroke-width="1.6"/>
<circle cx="163.7" cy="794.2" r="8.05" fill="#ffff00" stroke="#000" stroke-width="1.6"/>
<circle cx="158.1" cy="837.4" r="8.05" fill="#ffff00" stroke="#000" stroke-width="1.6"/>
<circle cx="168.6" cy="833.7" r="8.05" fill="#ffff00" stroke="#000" stroke-width="1.6"/>
<circle cx="90.6" cy="847.4" r="8.05" fill="#ffff00" stroke="#000" stroke-width="1.6"/>
<circle cx="292.0" cy="729.6" r="8.05" fill="#ffff00" stroke="#000" stroke-width="1.6"/>
<circle cx="283.6" cy="805.6" r="8.05" fill="#ffff00" stroke="#000" stroke-width="1.6"/>
<circle cx="282.0" cy="826.0" r="8.05" fill="#ffff00" stroke="#000" stroke-width="1.6"/>
<circle cx="232.6" cy="824.4" r="8.05" fill="#ffff00" stroke="#000" stroke-width="1.6"/>
<circle cx="342.6" cy="811.0" r="8.05" fill="#ffff00" stroke="#000" stroke-width="1.6"/>
<circle cx="340.4" cy="832.6" r="8.05" fill="#ffff00" stroke="#000" stroke-width="1.6"/>
<circle cx="343.6" cy="858.6" r="8.05" fill="#ffff00" stroke="#000" stroke-width="1.6"/>
<circle cx="390.6" cy="759.6" r="8.05" fill="#ffff00" stroke="#000" stroke-width="1.6"/>
<circle cx="438.6" cy="837.6" r="8.05" fill="#ffff00" stroke="#000" stroke-width="1.6"/>
<circle cx="562.6" cy="825.0" r="8.05" fill="#ffff00" stroke="#000" stroke-width="1.6"/>
<path d="M86.8 861.5 L86.8 861.4 L86.8 861.3 L86.8 861.2 L86.9 861.1 L86.9 861.0 L86.9 860.8 L87.0 860.7 L87.0 860.6 L87.1 860.5 L87.1 860.4 L87.2 860.3 L87.3 860.2 L87.4 860.1 L87.5 860.0 L87.6 859.9 L87.7 859.7 L87.8 859.6 L87.9 859.5 L88.0 859.4 L88.2 859.3 L88.3 859.2 L88.4 859.1 L88.6 859.0 L88.7 858.9 L88.9 858.8 L89.1 858.6 L89.3 858.5 L89.5 858.4 L89.6 858.3 L89.8 858.2 L90.1 858.1 L90.3 858.0 L90.5 857.9 L90.7 857.8 L90.9 857.7 L91.2 857.5 L91.4 857.4 L91.7 857.3 L91.9 857.2 L92.2 857.1 L92.5 857.0 L92.8 856.9 L93.1 856.8 L93.3 856.7 L93.7 856.6 L94.0 856.5 L94.3 856.3 L94.6 856.2 L94.9 856.1 L95.3 856.0 L95.6 855.9 L95.9 855.8 L96.3 855.7 L96.7 855.6 L97.0 855.5 L97.4 855.4 L97.8 855.2 L98.2 855.1 L98.6 855.0 L99.0 854.9 L99.4 854.8 L99.8 854.7 L100.2 854.6 L100.7 854.5 L101.1 854.4 L101.5 854.3 L102.0 854.1 L102.4 854.0 L102.9 853.9 L103.4 853.8 L103.9 853.7 L104.3 853.6 L104.8 853.5 L105.3 853.4 L105.8 853.3 L106.3 853.2 L106.9 853.1 L107.4 852.9 L107.9 852.8 L108.5 852.7 L109.0 852.6 L109.5 852.5 L110.1 852.4 L110.7 852.3 L111.2 852.2 L111.8 852.1 L112.4 852.0 L113.0 851.8 L113.6 851.7 L114.2 851.6 L114.8 851.5 L115.4 851.4 L116.1 851.3 L116.7 851.2 L117.3 851.1 L118.0 851.0 L118.6 850.9 L119.3 850.7 L120.0 850.6 L120.6 850.5 L121.3 850.4 L122.0 850.3 L122.7 850.2 L123.4 850.1 L124.1 850.0 L124.8 849.9 L125.5 849.8 L126.3 849.6 L127.0 849.5 L127.7 849.4 L128.5 849.3 L129.2 849.2 L130.0 849.1 L130.8 849.0 L131.5 848.9 L132.3 848.8 L133.1 848.7 L133.9 848.6 L134.7 848.4 L135.5 848.3 L136.3 848.2 L137.2 848.1 L138.0 848.0 L138.8 847.9 L139.7 847.8 L140.5 847.7 L141.4 847.6 L142.2 847.5 L143.1 847.3 L144.0 847.2 L144.9 847.1 L145.7 847.0 L146.6 846.9 L147.5 846.8 L148.5 846.7 L149.4 846.6 L150.3 846.5 L151.2 846.4 L152.2 846.2 L153.1 846.1 L154.1 846.0 L155.0 845.9 L156.0 845.8 L157.0 845.7 L157.9 845.6 L158.9 845.5 L159.9 845.4 L160.9 845.3 L161.9 845.1 L162.9 845.0 L163.9 844.9 L165.0 844.8 L166.0 844.7 L167.0 844.6 L168.1 844.5 L169.1 844.4 L170.2 844.3 L171.3 844.2 L172.3 844.1 L173.4 843.9 L174.5 843.8 L175.6 843.7 L176.7 843.6 L177.8 843.5 L178.9 843.4 L180.0 843.3 L181.2 843.2 L182.3 843.1 L183.4 843.0 L184.6 842.8 L185.7 842.7 L186.9 842.6 L188.1 842.5 L189.2 842.4 L190.4 842.3 L191.6 842.2 L192.8 842.1 L194.0 842.0 L195.2 841.9 L196.4 841.7 L197.6 841.6 L198.9 841.5 L200.1 841.4 L201.3 841.3 L202.6 841.2 L203.8 841.1 L205.1 841.0 L206.4 840.9 L207.6 840.8 L208.9 840.6 L210.2 840.5 L211.5 840.4 L212.8 840.3 L214.1 840.2 L215.4 840.1 L216.8 840.0 L218.1 839.9 L219.4 839.8 L220.8 839.7 L222.1 839.6 L223.5 839.4 L224.8 839.3 L226.2 839.2 L227.6 839.1 L229.0 839.0 L230.4 838.9 L231.8 838.8 L233.2 838.7 L234.6 838.6 L236.0 838.5 L237.4 838.3 L238.8 838.2 L240.3 838.1 L241.7 838.0 L243.2 837.9 L244.6 837.8 L246.1 837.7 L247.6 837.6 L249.1 837.5 L250.5 837.4 L252.0 837.2 L253.5 837.1 L255.0 837.0 L256.6 836.9 L258.1 836.8 L259.6 836.7 L261.1 836.6 L262.7 836.5 L264.2 836.4 L265.8 836.3 L267.3 836.2 L268.9 836.0 L270.5 835.9 L272.0 835.8 L273.6 835.7 L275.2 835.6 L276.8 835.5 L278.4 835.4 L280.0 835.3 L281.7 835.2 L283.3 835.1 L284.9 834.9 L286.6 834.8 L288.2 834.7 L289.9 834.6 L291.5 834.5 L293.2 834.4 L294.9 834.3 L296.6 834.2 L298.2 834.1 L299.9 834.0 L301.6 833.8 L303.3 833.7 L305.1 833.6 L306.8 833.5 L308.5 833.4 L310.2 833.3 L312.0 833.2 L313.7 833.1 L315.5 833.0 L317.3 832.9 L319.0 832.7 L320.8 832.6 L322.6 832.5 L324.4 832.4 L326.2 832.3 L328.0 832.2 L329.8 832.1 L331.6 832.0 L333.4 831.9 L335.3 831.8 L337.1 831.7 L338.9 831.5 L340.8 831.4 L342.6 831.3 L344.5 831.2 L346.4 831.1 L348.3 831.0 L350.1 830.9 L352.0 830.8 L353.9 830.7 L355.8 830.6 L357.7 830.4 L359.7 830.3 L361.6 830.2 L363.5 830.1 L365.5 830.0 L367.4 829.9 L369.4 829.8 L371.3 829.7 L373.3 829.6 L375.3 829.5 L377.2 829.3 L379.2 829.2 L381.2 829.1 L383.2 829.0 L385.2 828.9 L387.2 828.8 L389.3 828.7 L391.3 828.6 L393.3 828.5 L395.4 828.4 L397.4 828.2 L399.5 828.1 L401.5 828.0 L403.6 827.9 L405.7 827.8 L407.7 827.7 L409.8 827.6 L411.9 827.5 L414.0 827.4 L416.1 827.3 L418.2 827.2 L420.4 827.0 L422.5 826.9 L424.6 826.8 L426.8 826.7 L428.9 826.6 L431.1 826.5 L433.2 826.4 L435.4 826.3 L437.6 826.2 L439.8 826.1 L441.9 825.9 L444.1 825.8 L446.3 825.7 L448.6 825.6 L450.8 825.5 L453.0 825.4 L455.2 825.3 L457.5 825.2 L459.7 825.1 L461.9 825.0 L464.2 824.8 L466.5 824.7 L468.7 824.6 L471.0 824.5 L473.3 824.4 L475.6 824.3 L477.9 824.2 L480.2 824.1 L482.5 824.0 L484.8 823.9 L487.1 823.8 L489.5 823.6 L491.8 823.5 L494.2 823.4 L496.5 823.3 L498.9 823.2 L501.2 823.1 L503.6 823.0 L506.0 822.9 L508.4 822.8 L510.8 822.7 L513.2 822.5 L515.6 822.4 L518.0 822.3 L520.4 822.2 L522.8 822.1 L525.2 822.0 L527.7 821.9 L530.1 821.8 L532.6 821.7 L535.0 821.6 L537.5 821.4 L540.0 821.3 L542.5 821.2 L545.0 821.1 L547.4 821.0 L549.9 820.9 L552.5 820.8 L555.0 820.7 L557.5 820.6 L560.0 820.5 L562.5 820.3 L565.1 820.2 L567.6 820.1 L570.2 820.0 L572.8 819.9 L575.3 819.8 L577.9 819.7 L580.5 819.6 L583.1 819.5 L585.7 819.4 L588.3 819.3 L590.9 819.1 L593.5 819.0 L596.1 818.9 L598.7 818.8 L601.4 818.7 L604.0 818.6 L606.7 818.5 L609.3 818.4 L612.0 818.3 L614.6 818.2 L617.3 818.0 L620.0 817.9 L622.7 817.8 L625.4 817.7 L628.1 817.6" fill="none" stroke="#1f77b4" stroke-width="1.65" opacity="1"/>
<path d="M86.8 861.5 L86.8 861.3 L86.8 861.1 L86.8 860.9 L86.9 860.7 L86.9 860.5 L86.9 860.3 L87.0 860.1 L87.0 859.9 L87.1 859.7 L87.1 859.5 L87.2 859.3 L87.3 859.1 L87.4 858.9 L87.5 858.7 L87.6 858.5 L87.7 858.3 L87.8 858.1 L87.9 857.9 L88.0 857.7 L88.2 857.5 L88.3 857.3 L88.4 857.1 L88.6 856.9 L88.7 856.7 L88.9 856.5 L89.1 856.3 L89.3 856.1 L89.5 855.9 L89.6 855.7 L89.8 855.5 L90.1 855.3 L90.3 855.1 L90.5 854.9 L90.7 854.7 L90.9 854.5 L91.2 854.3 L91.4 854.1 L91.7 853.9 L91.9 853.7 L92.2 853.5 L92.5 853.3 L92.8 853.1 L93.1 852.9 L93.3 852.7 L93.7 852.5 L94.0 852.3 L94.3 852.1 L94.6 851.9 L94.9 851.7 L95.3 851.5 L95.6 851.3 L95.9 851.1 L96.3 850.9 L96.7 850.7 L97.0 850.5 L97.4 850.3 L97.8 850.1 L98.2 849.9 L98.6 849.7 L99.0 849.5 L99.4 849.3 L99.8 849.1 L100.2 848.9 L100.7 848.7 L101.1 848.5 L101.5 848.3 L102.0 848.1 L102.4 847.9 L102.9 847.7 L103.4 847.5 L103.9 847.3 L104.3 847.1 L104.8 846.9 L105.3 846.7 L105.8 846.5 L106.3 846.3 L106.9 846.1 L107.4 845.9 L107.9 845.7 L108.5 845.5 L109.0 845.3 L109.5 845.1 L110.1 844.9 L110.7 844.7 L111.2 844.5 L111.8 844.3 L112.4 844.1 L113.0 843.9 L113.6 843.7 L114.2 843.5 L114.8 843.3 L115.4 843.1 L116.1 842.9 L116.7 842.7 L117.3 842.5 L118.0 842.3 L118.6 842.1 L119.3 841.9 L120.0 841.7 L120.6 841.5 L121.3 841.3 L122.0 841.1 L122.7 840.9 L123.4 840.7 L124.1 840.5 L124.8 840.3 L125.5 840.1 L126.3 839.9 L127.0 839.7 L127.7 839.5 L128.5 839.3 L129.2 839.1 L130.0 838.9 L130.8 838.7 L131.5 838.5 L132.3 838.3 L133.1 838.1 L133.9 837.9 L134.7 837.7 L135.5 837.5 L136.3 837.3 L137.2 837.1 L138.0 836.9 L138.8 836.7 L139.7 836.5 L140.5 836.3 L141.4 836.1 L142.2 835.9 L143.1 835.7 L144.0 835.5 L144.9 835.3 L145.7 835.1 L146.6 834.9 L147.5 834.7 L148.5 834.5 L149.4 834.3 L150.3 834.1 L151.2 833.9 L152.2 833.7 L153.1 833.5 L154.1 833.3 L155.0 833.0 L156.0 832.8 L157.0 832.6 L157.9 832.4 L158.9 832.2 L159.9 832.0 L160.9 831.8 L161.9 831.6 L162.9 831.4 L163.9 831.2 L165.0 831.0 L166.0 830.8 L167.0 830.6 L168.1 830.4 L169.1 830.2 L170.2 830.0 L171.3 829.8 L172.3 829.6 L173.4 829.4 L174.5 829.2 L175.6 829.0 L176.7 828.8 L177.8 828.6 L178.9 828.4 L180.0 828.2 L181.2 828.0 L182.3 827.8 L183.4 827.6 L184.6 827.4 L185.7 827.2 L186.9 827.0 L188.1 826.8 L189.2 826.6 L190.4 826.4 L191.6 826.2 L192.8 826.0 L194.0 825.8 L195.2 825.6 L196.4 825.4 L197.6 825.2 L198.9 825.0 L200.1 824.8 L201.3 824.6 L202.6 824.4 L203.8 824.2 L205.1 824.0 L206.4 823.8 L207.6 823.6 L208.9 823.4 L210.2 823.2 L211.5 823.0 L212.8 822.8 L214.1 822.6 L215.4 822.4 L216.8 822.2 L218.1 822.0 L219.4 821.8 L220.8 821.6 L222.1 821.4 L223.5 821.2 L224.8 821.0 L226.2 820.8 L227.6 820.6 L229.0 820.4 L230.4 820.2 L231.8 820.0 L233.2 819.8 L234.6 819.6 L236.0 819.4 L237.4 819.2 L238.8 819.0 L240.3 818.8 L241.7 818.6 L243.2 818.4 L244.6 818.2 L246.1 818.0 L247.6 817.8 L249.1 817.6 L250.5 817.4 L252.0 817.2 L253.5 817.0 L255.0 816.8 L256.6 816.6 L258.1 816.4 L259.6 816.2 L261.1 816.0 L262.7 815.8 L264.2 815.6 L265.8 815.4 L267.3 815.2 L268.9 815.0 L270.5 814.8 L272.0 814.6 L273.6 814.4 L275.2 814.2 L276.8 814.0 L278.4 813.8 L280.0 813.6 L281.7 813.4 L283.3 813.2 L284.9 813.0 L286.6 812.8 L288.2 812.6 L289.9 812.4 L291.5 812.2 L293.2 812.0 L294.9 811.8 L296.6 811.6 L298.2 811.4 L299.9 811.2 L301.6 811.0 L303.3 810.8 L305.1 810.6 L306.8 810.4 L308.5 810.2 L310.2 810.0 L312.0 809.8 L313.7 809.6 L315.5 809.4 L317.3 809.2 L319.0 809.0 L320.8 808.8 L322.6 808.6 L324.4 808.4 L326.2 808.2 L328.0 808.0 L329.8 807.8 L331.6 807.6 L333.4 807.4 L335.3 807.2 L337.1 807.0 L338.9 806.8 L340.8 806.6 L342.6 806.4 L344.5 806.2 L346.4 806.0 L348.3 805.8 L350.1 805.6 L352.0 805.4 L353.9 805.2 L355.8 805.0 L357.7 804.8 L359.7 804.6 L361.6 804.4 L363.5 804.2 L365.5 804.0 L367.4 803.8 L369.4 803.6 L371.3 803.4 L373.3 803.2 L375.3 803.0 L377.2 802.8 L379.2 802.6 L381.2 802.4 L383.2 802.2 L385.2 802.0 L387.2 801.8 L389.3 801.6 L391.3 801.4 L393.3 801.2 L395.4 801.0 L397.4 800.8 L399.5 800.6 L401.5 800.4 L403.6 800.2 L405.7 800.0 L407.7 799.8 L409.8 799.6 L411.9 799.4 L414.0 799.2 L416.1 799.0 L418.2 798.8 L420.4 798.6 L422.5 798.4 L424.6 798.2 L426.8 798.0 L428.9 797.8 L431.1 797.6 L433.2 797.4 L435.4 797.2 L437.6 797.0 L439.8 796.8 L441.9 796.6 L444.1 796.4 L446.3 796.2 L448.6 796.0 L450.8 795.8 L453.0 795.6 L455.2 795.4 L457.5 795.2 L459.7 795.0 L461.9 794.8 L464.2 794.6 L466.5 794.4 L468.7 794.2 L471.0 794.0 L473.3 793.8 L475.6 793.6 L477.9 793.4 L480.2 793.2 L482.5 793.0 L484.8 792.8 L487.1 792.6 L489.5 792.4 L491.8 792.2 L494.2 792.0 L496.5 791.8 L498.9 791.6 L501.2 791.4 L503.6 791.2 L506.0 791.0 L508.4 790.8 L510.8 790.6 L513.2 790.4 L515.6 790.2 L518.0 790.0 L520.4 789.8 L522.8 789.6 L525.2 789.4 L527.7 789.2 L530.1 789.0 L532.6 788.8 L535.0 788.6 L537.5 788.4 L540.0 788.2 L542.5 788.0 L545.0 787.8 L547.4 787.6 L549.9 787.4 L552.5 787.2 L555.0 787.0 L557.5 786.8 L560.0 786.6 L562.5 786.4 L565.1 786.2 L567.6 786.0 L570.2 785.8 L572.8 785.6 L575.3 785.4 L577.9 785.2 L580.5 785.0 L583.1 784.8 L585.7 784.6 L588.3 784.4 L590.9 784.2 L593.5 784.0 L596.1 783.8 L598.7 783.6 L601.4 783.4 L604.0 783.2 L606.7 783.0 L609.3 782.8 L612.0 782.6 L614.6 782.4 L617.3 782.2 L620.0 782.0 L622.7 781.8 L625.4 781.6 L628.1 781.4" fill="none" stroke="#ff7f0e" stroke-width="1.65" opacity="1"/>
<path d="M86.8 861.5 L86.8 861.2 L86.8 860.8 L86.8 860.5 L86.9 860.1 L86.9 859.8 L86.9 859.4 L87.0 859.1 L87.0 858.7 L87.1 858.4 L87.1 858.0 L87.2 857.7 L87.3 857.3 L87.4 857.0 L87.5 856.6 L87.6 856.3 L87.7 855.9 L87.8 855.6 L87.9 855.3 L88.0 854.9 L88.2 854.6 L88.3 854.2 L88.4 853.9 L88.6 853.5 L88.7 853.2 L88.9 852.8 L89.1 852.5 L89.3 852.1 L89.5 851.8 L89.6 851.4 L89.8 851.1 L90.1 850.7 L90.3 850.4 L90.5 850.0 L90.7 849.7 L90.9 849.4 L91.2 849.0 L91.4 848.7 L91.7 848.3 L91.9 848.0 L92.2 847.6 L92.5 847.3 L92.8 846.9 L93.1 846.6 L93.3 846.2 L93.7 845.9 L94.0 845.5 L94.3 845.2 L94.6 844.8 L94.9 844.5 L95.3 844.1 L95.6 843.8 L95.9 843.5 L96.3 843.1 L96.7 842.8 L97.0 842.4 L97.4 842.1 L97.8 841.7 L98.2 841.4 L98.6 841.0 L99.0 840.7 L99.4 840.3 L99.8 840.0 L100.2 839.6 L100.7 839.3 L101.1 838.9 L101.5 838.6 L102.0 838.2 L102.4 837.9 L102.9 837.6 L103.4 837.2 L103.9 836.9 L104.3 836.5 L104.8 836.2 L105.3 835.8 L105.8 835.5 L106.3 835.1 L106.9 834.8 L107.4 834.4 L107.9 834.1 L108.5 833.7 L109.0 833.4 L109.5 833.0 L110.1 832.7 L110.7 832.4 L111.2 832.0 L111.8 831.7 L112.4 831.3 L113.0 831.0 L113.6 830.6 L114.2 830.3 L114.8 829.9 L115.4 829.6 L116.1 829.2 L116.7 828.9 L117.3 828.5 L118.0 828.2 L118.6 827.8 L119.3 827.5 L120.0 827.1 L120.6 826.8 L121.3 826.5 L122.0 826.1 L122.7 825.8 L123.4 825.4 L124.1 825.1 L124.8 824.7 L125.5 824.4 L126.3 824.0 L127.0 823.7 L127.7 823.3 L128.5 823.0 L129.2 822.6 L130.0 822.3 L130.8 821.9 L131.5 821.6 L132.3 821.2 L133.1 820.9 L133.9 820.6 L134.7 820.2 L135.5 819.9 L136.3 819.5 L137.2 819.2 L138.0 818.8 L138.8 818.5 L139.7 818.1 L140.5 817.8 L141.4 817.4 L142.2 817.1 L143.1 816.7 L144.0 816.4 L144.9 816.0 L145.7 815.7 L146.6 815.3 L147.5 815.0 L148.5 814.7 L149.4 814.3 L150.3 814.0 L151.2 813.6 L152.2 813.3 L153.1 812.9 L154.1 812.6 L155.0 812.2 L156.0 811.9 L157.0 811.5 L157.9 811.2 L158.9 810.8 L159.9 810.5 L160.9 810.1 L161.9 809.8 L162.9 809.4 L163.9 809.1 L165.0 808.8 L166.0 808.4 L167.0 808.1 L168.1 807.7 L169.1 807.4 L170.2 807.0 L171.3 806.7 L172.3 806.3 L173.4 806.0 L174.5 805.6 L175.6 805.3 L176.7 804.9 L177.8 804.6 L178.9 804.2 L180.0 803.9 L181.2 803.5 L182.3 803.2 L183.4 802.9 L184.6 802.5 L185.7 802.2 L186.9 801.8 L188.1 801.5 L189.2 801.1 L190.4 800.8 L191.6 800.4 L192.8 800.1 L194.0 799.7 L195.2 799.4 L196.4 799.0 L197.6 798.7 L198.9 798.3 L200.1 798.0 L201.3 797.6 L202.6 797.3 L203.8 797.0 L205.1 796.6 L206.4 796.3 L207.6 795.9 L208.9 795.6 L210.2 795.2 L211.5 794.9 L212.8 794.5 L214.1 794.2 L215.4 793.8 L216.8 793.5 L218.1 793.1 L219.4 792.8 L220.8 792.4 L222.1 792.1 L223.5 791.7 L224.8 791.4 L226.2 791.1 L227.6 790.7 L229.0 790.4 L230.4 790.0 L231.8 789.7 L233.2 789.3 L234.6 789.0 L236.0 788.6 L237.4 788.3 L238.8 787.9 L240.3 787.6 L241.7 787.2 L243.2 786.9 L244.6 786.5 L246.1 786.2 L247.6 785.8 L249.1 785.5 L250.5 785.2 L252.0 784.8 L253.5 784.5 L255.0 784.1 L256.6 783.8 L258.1 783.4 L259.6 783.1 L261.1 782.7 L262.7 782.4 L264.2 782.0 L265.8 781.7 L267.3 781.3 L268.9 781.0 L270.5 780.6 L272.0 780.3 L273.6 779.9 L275.2 779.6 L276.8 779.3 L278.4 778.9 L280.0 778.6 L281.7 778.2 L283.3 777.9 L284.9 777.5 L286.6 777.2 L288.2 776.8 L289.9 776.5 L291.5 776.1 L293.2 775.8 L294.9 775.4 L296.6 775.1 L298.2 774.7 L299.9 774.4 L301.6 774.1 L303.3 773.7 L305.1 773.4 L306.8 773.0 L308.5 772.7 L310.2 772.3 L312.0 772.0 L313.7 771.6 L315.5 771.3 L317.3 770.9 L319.0 770.6 L320.8 770.2 L322.6 769.9 L324.4 769.5 L326.2 769.2 L328.0 768.8 L329.8 768.5 L331.6 768.2 L333.4 767.8 L335.3 767.5 L337.1 767.1 L338.9 766.8 L340.8 766.4 L342.6 766.1 L344.5 765.7 L346.4 765.4 L348.3 765.0 L350.1 764.7 L352.0 764.3 L353.9 764.0 L355.8 763.6 L357.7 763.3 L359.7 762.9 L361.6 762.6 L363.5 762.3 L365.5 761.9 L367.4 761.6 L369.4 761.2 L371.3 760.9 L373.3 760.5 L375.3 760.2 L377.2 759.8 L379.2 759.5 L381.2 759.1 L383.2 758.8 L385.2 758.4 L387.2 758.1 L389.3 757.7 L391.3 757.4 L393.3 757.0 L395.4 756.7 L397.4 756.4 L399.5 756.0 L401.5 755.7 L403.6 755.3 L405.7 755.0 L407.7 754.6 L409.8 754.3 L411.9 753.9 L414.0 753.6 L416.1 753.2 L418.2 752.9 L420.4 752.5 L422.5 752.2 L424.6 751.8 L426.8 751.5 L428.9 751.1 L431.1 750.8 L433.2 750.5 L435.4 750.1 L437.6 749.8 L439.8 749.4 L441.9 749.1 L444.1 748.7 L446.3 748.4 L448.6 748.0 L450.8 747.7 L453.0 747.3 L455.2 747.0 L457.5 746.6 L459.7 746.3 L461.9 745.9 L464.2 745.6 L466.5 745.2 L468.7 744.9 L471.0 744.6 L473.3 744.2 L475.6 743.9 L477.9 743.5 L480.2 743.2 L482.5 742.8 L484.8 742.5 L487.1 742.1 L489.5 741.8 L491.8 741.4 L494.2 741.1 L496.5 740.7 L498.9 740.4 L501.2 740.0 L503.6 739.7 L506.0 739.3 L508.4 739.0 L510.8 738.7 L513.2 738.3 L515.6 738.0 L518.0 737.6 L520.4 737.3 L522.8 736.9 L525.2 736.6 L527.7 736.2 L530.1 735.9 L532.6 735.5 L535.0 735.2 L537.5 734.8 L540.0 734.5 L542.5 734.1 L545.0 733.8 L547.4 733.4 L549.9 733.1 L552.5 732.8 L555.0 732.4 L557.5 732.1 L560.0 731.7 L562.5 731.4 L565.1 731.0 L567.6 730.7 L570.2 730.3 L572.8 730.0 L575.3 729.6 L577.9 729.3 L580.5 728.9 L583.1 728.6 L585.7 728.2 L588.3 727.9 L590.9 727.5 L593.5 727.2 L596.1 726.9 L598.7 726.5 L601.4 726.2 L604.0 725.8 L606.7 725.5 L609.3 725.1 L612.0 724.8 L614.6 724.4 L617.3 724.1 L620.0 723.7 L622.7 723.4 L625.4 723.0 L628.1 722.7" fill="none" stroke="#2ca02c" stroke-width="1.65" opacity="1"/>
<path d="M86.8 861.5 L86.8 861.1 L86.8 860.6 L86.8 860.2 L86.9 859.7 L86.9 859.3 L86.9 858.8 L87.0 858.4 L87.0 857.9 L87.1 857.5 L87.1 857.0 L87.2 856.6 L87.3 856.1 L87.4 855.7 L87.5 855.2 L87.6 854.8 L87.7 854.3 L87.8 853.9 L87.9 853.4 L88.0 853.0 L88.2 852.5 L88.3 852.1 L88.4 851.6 L88.6 851.2 L88.7 850.7 L88.9 850.3 L89.1 849.9 L89.3 849.4 L89.5 849.0 L89.6 848.5 L89.8 848.1 L90.1 847.6 L90.3 847.2 L90.5 846.7 L90.7 846.3 L90.9 845.8 L91.2 845.4 L91.4 844.9 L91.7 844.5 L91.9 844.0 L92.2 843.6 L92.5 843.1 L92.8 842.7 L93.1 842.2 L93.3 841.8 L93.7 841.3 L94.0 840.9 L94.3 840.4 L94.6 840.0 L94.9 839.5 L95.3 839.1 L95.6 838.7 L95.9 838.2 L96.3 837.8 L96.7 837.3 L97.0 836.9 L97.4 836.4 L97.8 836.0 L98.2 835.5 L98.6 835.1 L99.0 834.6 L99.4 834.2 L99.8 833.7 L100.2 833.3 L100.7 832.8 L101.1 832.4 L101.5 831.9 L102.0 831.5 L102.4 831.0 L102.9 830.6 L103.4 830.1 L103.9 829.7 L104.3 829.2 L104.8 828.8 L105.3 828.3 L105.8 827.9 L106.3 827.5 L106.9 827.0 L107.4 826.6 L107.9 826.1 L108.5 825.7 L109.0 825.2 L109.5 824.8 L110.1 824.3 L110.7 823.9 L111.2 823.4 L111.8 823.0 L112.4 822.5 L113.0 822.1 L113.6 821.6 L114.2 821.2 L114.8 820.7 L115.4 820.3 L116.1 819.8 L116.7 819.4 L117.3 818.9 L118.0 818.5 L118.6 818.0 L119.3 817.6 L120.0 817.1 L120.6 816.7 L121.3 816.3 L122.0 815.8 L122.7 815.4 L123.4 814.9 L124.1 814.5 L124.8 814.0 L125.5 813.6 L126.3 813.1 L127.0 812.7 L127.7 812.2 L128.5 811.8 L129.2 811.3 L130.0 810.9 L130.8 810.4 L131.5 810.0 L132.3 809.5 L133.1 809.1 L133.9 808.6 L134.7 808.2 L135.5 807.7 L136.3 807.3 L137.2 806.8 L138.0 806.4 L138.8 805.9 L139.7 805.5 L140.5 805.1 L141.4 804.6 L142.2 804.2 L143.1 803.7 L144.0 803.3 L144.9 802.8 L145.7 802.4 L146.6 801.9 L147.5 801.5 L148.5 801.0 L149.4 800.6 L150.3 800.1 L151.2 799.7 L152.2 799.2 L153.1 798.8 L154.1 798.3 L155.0 797.9 L156.0 797.4 L157.0 797.0 L157.9 796.5 L158.9 796.1 L159.9 795.6 L160.9 795.2 L161.9 794.7 L162.9 794.3 L163.9 793.9 L165.0 793.4 L166.0 793.0 L167.0 792.5 L168.1 792.1 L169.1 791.6 L170.2 791.2 L171.3 790.7 L172.3 790.3 L173.4 789.8 L174.5 789.4 L175.6 788.9 L176.7 788.5 L177.8 788.0 L178.9 787.6 L180.0 787.1 L181.2 786.7 L182.3 786.2 L183.4 785.8 L184.6 785.3 L185.7 784.9 L186.9 784.4 L188.1 784.0 L189.2 783.5 L190.4 783.1 L191.6 782.7 L192.8 782.2 L194.0 781.8 L195.2 781.3 L196.4 780.9 L197.6 780.4 L198.9 780.0 L200.1 779.5 L201.3 779.1 L202.6 778.6 L203.8 778.2 L205.1 777.7 L206.4 777.3 L207.6 776.8 L208.9 776.4 L210.2 775.9 L211.5 775.5 L212.8 775.0 L214.1 774.6 L215.4 774.1 L216.8 773.7 L218.1 773.2 L219.4 772.8 L220.8 772.3 L222.1 771.9 L223.5 771.5 L224.8 771.0 L226.2 770.6 L227.6 770.1 L229.0 769.7 L230.4 769.2 L231.8 768.8 L233.2 768.3 L234.6 767.9 L236.0 767.4 L237.4 767.0 L238.8 766.5 L240.3 766.1 L241.7 765.6 L243.2 765.2 L244.6 764.7 L246.1 764.3 L247.6 763.8 L249.1 763.4 L250.5 762.9 L252.0 762.5 L253.5 762.0 L255.0 761.6 L256.6 761.1 L258.1 760.7 L259.6 760.3 L261.1 759.8 L262.7 759.4 L264.2 758.9 L265.8 758.5 L267.3 758.0 L268.9 757.6 L270.5 757.1 L272.0 756.7 L273.6 756.2 L275.2 755.8 L276.8 755.3 L278.4 754.9 L280.0 754.4 L281.7 754.0 L283.3 753.5 L284.9 753.1 L286.6 752.6 L288.2 752.2 L289.9 751.7 L291.5 751.3 L293.2 750.8 L294.9 750.4 L296.6 749.9 L298.2 749.5 L299.9 749.1 L301.6 748.6 L303.3 748.2 L305.1 747.7 L306.8 747.3 L308.5 746.8 L310.2 746.4 L312.0 745.9 L313.7 745.5 L315.5 745.0 L317.3 744.6 L319.0 744.1 L320.8 743.7 L322.6 743.2 L324.4 742.8 L326.2 742.3 L328.0 741.9 L329.8 741.4 L331.6 741.0 L333.4 740.5 L335.3 740.1 L337.1 739.6 L338.9 739.2 L340.8 738.7 L342.6 738.3 L344.5 737.9 L346.4 737.4 L348.3 737.0 L350.1 736.5 L352.0 736.1 L353.9 735.6 L355.8 735.2 L357.7 734.7 L359.7 734.3 L361.6 733.8 L363.5 733.4 L365.5 732.9 L367.4 732.5 L369.4 732.0 L371.3 731.6 L373.3 731.1 L375.3 730.7 L377.2 730.2 L379.2 729.8 L381.2 729.3 L383.2 728.9 L385.2 728.4 L387.2 728.0 L389.3 727.5 L391.3 727.1 L393.3 726.7 L395.4 726.2 L397.4 725.8 L399.5 725.3 L401.5 724.9 L403.6 724.4 L405.7 724.0 L407.7 723.5 L409.8 723.1 L411.9 722.6 L414.0 722.2 L416.1 721.7 L418.2 721.3 L420.4 720.8 L422.5 720.4 L424.6 719.9 L426.8 719.5 L428.9 719.0 L431.1 718.6 L433.2 718.1 L435.4 717.7 L437.6 717.2 L439.8 716.8 L441.9 716.3 L444.1 715.9 L446.3 715.5 L448.6 715.0 L450.8 714.6 L453.0 714.1 L455.2 713.7 L457.5 713.2 L459.7 712.8 L461.9 712.3 L464.2 711.9 L466.5 711.4 L468.7 711.0 L471.0 710.5 L473.3 710.1 L475.6 709.6 L477.9 709.2 L480.2 708.7 L482.5 708.3 L484.8 707.8 L487.1 707.4 L489.5 706.9 L491.8 706.5 L494.2 706.0 L496.5 705.6 L498.9 705.1 L501.2 704.7 L503.6 704.3 L506.0 703.8 L508.4 703.4 L510.8 702.9 L513.2 702.5 L515.6 702.0 L518.0 701.6 L520.4 701.1 L522.8 700.7 L525.2 700.2 L527.7 699.8 L530.1 699.3 L532.6 698.9 L535.0 698.4 L537.5 698.0 L540.0 697.5 L542.5 697.1 L545.0 696.6 L547.4 696.2 L549.9 695.7 L552.5 695.3 L555.0 694.8 L557.5 694.4 L560.0 693.9 L562.5 693.5 L565.1 693.1 L567.6 692.6 L570.2 692.2 L572.8 691.7 L575.3 691.3 L577.9 690.8 L580.5 690.4 L583.1 689.9 L585.7 689.5 L588.3 689.0 L590.9 688.6 L593.5 688.1 L596.1 687.7 L598.7 687.2 L601.4 686.8 L604.0 686.3 L606.7 685.9 L609.3 685.4 L612.0 685.0 L614.6 684.5 L617.3 684.1 L620.0 683.6 L622.7 683.2 L625.4 682.7 L628.1 682.3" fill="none" stroke="#d62728" stroke-width="1.65" opacity="1"/>
<path d="M86.8 861.5 L86.8 860.9 L86.8 860.3 L86.8 859.7 L86.9 859.1 L86.9 858.5 L86.9 857.9 L87.0 857.3 L87.0 856.7 L87.1 856.1 L87.1 855.5 L87.2 854.9 L87.3 854.3 L87.4 853.7 L87.5 853.1 L87.6 852.5 L87.7 851.9 L87.8 851.3 L87.9 850.7 L88.0 850.1 L88.2 849.5 L88.3 848.9 L88.4 848.3 L88.6 847.7 L88.7 847.1 L88.9 846.5 L89.1 845.9 L89.3 845.3 L89.5 844.7 L89.6 844.1 L89.8 843.5 L90.1 842.9 L90.3 842.3 L90.5 841.7 L90.7 841.1 L90.9 840.5 L91.2 839.9 L91.4 839.3 L91.7 838.7 L91.9 838.1 L92.2 837.5 L92.5 836.9 L92.8 836.3 L93.1 835.7 L93.3 835.1 L93.7 834.5 L94.0 833.9 L94.3 833.3 L94.6 832.6 L94.9 832.0 L95.3 831.4 L95.6 830.8 L95.9 830.2 L96.3 829.6 L96.7 829.0 L97.0 828.4 L97.4 827.8 L97.8 827.2 L98.2 826.6 L98.6 826.0 L99.0 825.4 L99.4 824.8 L99.8 824.2 L100.2 823.6 L100.7 823.0 L101.1 822.4 L101.5 821.8 L102.0 821.2 L102.4 820.6 L102.9 820.0 L103.4 819.4 L103.9 818.8 L104.3 818.2 L104.8 817.6 L105.3 817.0 L105.8 816.4 L106.3 815.8 L106.9 815.2 L107.4 814.6 L107.9 814.0 L108.5 813.4 L109.0 812.8 L109.5 812.2 L110.1 811.6 L110.7 811.0 L111.2 810.4 L111.8 809.8 L112.4 809.2 L113.0 808.6 L113.6 808.0 L114.2 807.4 L114.8 806.8 L115.4 806.2 L116.1 805.6 L116.7 805.0 L117.3 804.4 L118.0 803.8 L118.6 803.2 L119.3 802.6 L120.0 802.0 L120.6 801.4 L121.3 800.8 L122.0 800.2 L122.7 799.6 L123.4 799.0 L124.1 798.4 L124.8 797.8 L125.5 797.2 L126.3 796.6 L127.0 796.0 L127.7 795.4 L128.5 794.8 L129.2 794.2 L130.0 793.6 L130.8 793.0 L131.5 792.4 L132.3 791.8 L133.1 791.2 L133.9 790.6 L134.7 790.0 L135.5 789.4 L136.3 788.8 L137.2 788.2 L138.0 787.6 L138.8 787.0 L139.7 786.4 L140.5 785.8 L141.4 785.2 L142.2 784.6 L143.1 784.0 L144.0 783.4 L144.9 782.8 L145.7 782.2 L146.6 781.6 L147.5 781.0 L148.5 780.4 L149.4 779.8 L150.3 779.2 L151.2 778.6 L152.2 778.0 L153.1 777.4 L154.1 776.8 L155.0 776.1 L156.0 775.5 L157.0 774.9 L157.9 774.3 L158.9 773.7 L159.9 773.1 L160.9 772.5 L161.9 771.9 L162.9 771.3 L163.9 770.7 L165.0 770.1 L166.0 769.5 L167.0 768.9 L168.1 768.3 L169.1 767.7 L170.2 767.1 L171.3 766.5 L172.3 765.9 L173.4 765.3 L174.5 764.7 L175.6 764.1 L176.7 763.5 L177.8 762.9 L178.9 762.3 L180.0 761.7 L181.2 761.1 L182.3 760.5 L183.4 759.9 L184.6 759.3 L185.7 758.7 L186.9 758.1 L188.1 757.5 L189.2 756.9 L190.4 756.3 L191.6 755.7 L192.8 755.1 L194.0 754.5 L195.2 753.9 L196.4 753.3 L197.6 752.7 L198.9 752.1 L200.1 751.5 L201.3 750.9 L202.6 750.3 L203.8 749.7 L205.1 749.1 L206.4 748.5 L207.6 747.9 L208.9 747.3 L210.2 746.7 L211.5 746.1 L212.8 745.5 L214.1 744.9 L215.4 744.3 L216.8 743.7 L218.1 743.1 L219.4 742.5 L220.8 741.9 L222.1 741.3 L223.5 740.7 L224.8 740.1 L226.2 739.5 L227.6 738.9 L229.0 738.3 L230.4 737.7 L231.8 737.1 L233.2 736.5 L234.6 735.9 L236.0 735.3 L237.4 734.7 L238.8 734.1 L240.3 733.5 L241.7 732.9 L243.2 732.3 L244.6 731.7 L246.1 731.1 L247.6 730.5 L249.1 729.9 L250.5 729.3 L252.0 728.7 L253.5 728.1 L255.0 727.5 L256.6 726.9 L258.1 726.3 L259.6 725.7 L261.1 725.1 L262.7 724.5 L264.2 723.9 L265.8 723.3 L267.3 722.7 L268.9 722.1 L270.5 721.5 L272.0 720.9 L273.6 720.3 L275.2 719.6 L276.8 719.0 L278.4 718.4 L280.0 717.8 L281.7 717.2 L283.3 716.6 L284.9 716.0 L286.6 715.4 L288.2 714.8 L289.9 714.2 L291.5 713.6 L293.2 713.0 L294.9 712.4 L296.6 711.8 L298.2 711.2 L299.9 710.6 L301.6 710.0 L303.3 709.4 L305.1 708.8 L306.8 708.2 L308.5 707.6 L310.2 707.0 L312.0 706.4 L313.7 705.8 L315.5 705.2 L317.3 704.6 L319.0 704.0 L320.8 703.4 L322.6 702.8 L324.4 702.2 L326.2 701.6 L328.0 701.0 L329.8 700.4 L331.6 699.8 L333.4 699.2 L335.3 698.6 L337.1 698.0 L338.9 697.4 L340.8 696.8 L342.6 696.2 L344.5 695.6 L346.4 695.0 L348.3 694.4 L350.1 693.8 L352.0 693.2 L353.9 692.6 L355.8 692.0 L357.7 691.4 L359.7 690.8 L361.6 690.2 L363.5 689.6 L365.5 689.0 L367.4 688.4 L369.4 687.8 L371.3 687.2 L373.3 686.6 L375.3 686.0 L377.2 685.4 L379.2 684.8 L381.2 684.2 L383.2 683.6 L385.2 683.0 L387.2 682.4 L389.3 681.8 L391.3 681.2 L393.3 680.6 L395.4 680.0 L397.4 679.4 L399.5 678.8 L401.5 678.2 L403.6 677.6 L405.7 677.0 L407.7 676.4 L409.8 675.8 L411.9 675.2 L414.0 674.6 L416.1 674.0 L418.2 673.4 L420.4 672.8 L422.5 672.2 L424.6 671.6 L426.8 671.0 L428.9 670.4 L431.1 669.8 L433.2 669.2 L435.4 668.6 L437.6 668.0 L439.8 667.4 L441.9 666.8 L444.1 666.2 L446.3 665.6 L448.6 665.0 L450.8 664.4 L453.0 663.8 L455.2 663.2 L457.5 662.5 L459.7 661.9 L461.9 661.3 L464.2 660.7 L466.5 660.1 L468.7 659.5 L471.0 658.9 L473.3 658.3 L475.6 657.7 L477.9 657.1 L480.2 656.5 L482.5 655.9 L484.8 655.3 L487.1 654.7 L489.5 654.1 L491.8 653.5 L494.2 652.9 L496.5 652.3 L498.9 651.7 L501.2 651.1 L503.6 650.5 L506.0 649.9 L508.4 649.3 L510.8 648.7 L513.2 648.1 L515.6 647.5 L518.0 646.9 L520.4 646.3 L522.8 645.7 L525.2 645.1 L527.7 644.5 L530.1 643.9 L532.6 643.3 L535.0 642.7 L537.5 642.1 L540.0 641.5 L542.5 640.9 L545.0 640.3 L547.4 639.7 L549.9 639.1 L552.5 638.5 L555.0 637.9 L557.5 637.3 L560.0 636.7 L562.5 636.1 L565.1 635.5 L567.6 634.9 L570.2 634.3 L572.8 633.7 L575.3 633.1 L577.9 632.5 L580.5 631.9 L583.1 631.3 L585.7 630.7 L588.3 630.1 L590.9 629.5 L593.5 628.9 L596.1 628.3 L598.7 627.7 L601.4 627.1 L604.0 626.5 L606.7 625.9 L609.3 625.3 L612.0 624.7 L614.6 624.1 L617.3 623.5 L620.0 622.9 L622.7 622.3 L625.4 621.7 L628.1 621.1" fill="none" stroke="#9467bd" stroke-width="1.65" opacity="1"/>
<path d="M86.8 861.5 L86.8 860.4 L86.8 859.4 L86.8 858.3 L86.9 857.3 L86.9 856.2 L86.9 855.1 L87.0 854.1 L87.0 853.0 L87.1 852.0 L87.1 850.9 L87.2 849.8 L87.3 848.8 L87.4 847.7 L87.5 846.7 L87.6 845.6 L87.7 844.5 L87.8 843.5 L87.9 842.4 L88.0 841.4 L88.2 840.3 L88.3 839.2 L88.4 838.2 L88.6 837.1 L88.7 836.1 L88.9 835.0 L89.1 833.9 L89.3 832.9 L89.5 831.8 L89.6 830.8 L89.8 829.7 L90.1 828.6 L90.3 827.6 L90.5 826.5 L90.7 825.5 L90.9 824.4 L91.2 823.3 L91.4 822.3 L91.7 821.2 L91.9 820.2 L92.2 819.1 L92.5 818.0 L92.8 817.0 L93.1 815.9 L93.3 814.9 L93.7 813.8 L94.0 812.7 L94.3 811.7 L94.6 810.6 L94.9 809.6 L95.3 808.5 L95.6 807.4 L95.9 806.4 L96.3 805.3 L96.7 804.3 L97.0 803.2 L97.4 802.1 L97.8 801.1 L98.2 800.0 L98.6 799.0 L99.0 797.9 L99.4 796.8 L99.8 795.8 L100.2 794.7 L100.7 793.6 L101.1 792.6 L101.5 791.5 L102.0 790.5 L102.4 789.4 L102.9 788.3 L103.4 787.3 L103.9 786.2 L104.3 785.2 L104.8 784.1 L105.3 783.0 L105.8 782.0 L106.3 780.9 L106.9 779.9 L107.4 778.8 L107.9 777.7 L108.5 776.7 L109.0 775.6 L109.5 774.6 L110.1 773.5 L110.7 772.4 L111.2 771.4 L111.8 770.3 L112.4 769.3 L113.0 768.2 L113.6 767.1 L114.2 766.1 L114.8 765.0 L115.4 764.0 L116.1 762.9 L116.7 761.8 L117.3 760.8 L118.0 759.7 L118.6 758.7 L119.3 757.6 L120.0 756.5 L120.6 755.5 L121.3 754.4 L122.0 753.4 L122.7 752.3 L123.4 751.2 L124.1 750.2 L124.8 749.1 L125.5 748.1 L126.3 747.0 L127.0 745.9 L127.7 744.9 L128.5 743.8 L129.2 742.8 L130.0 741.7 L130.8 740.6 L131.5 739.6 L132.3 738.5 L133.1 737.5 L133.9 736.4 L134.7 735.3 L135.5 734.3 L136.3 733.2 L137.2 732.2 L138.0 731.1 L138.8 730.0 L139.7 729.0 L140.5 727.9 L141.4 726.9 L142.2 725.8 L143.1 724.7 L144.0 723.7 L144.9 722.6 L145.7 721.6 L146.6 720.5 L147.5 719.4 L148.5 718.4 L149.4 717.3 L150.3 716.3 L151.2 715.2 L152.2 714.1 L153.1 713.1 L154.1 712.0 L155.0 711.0 L156.0 709.9 L157.0 708.8 L157.9 707.8 L158.9 706.7 L159.9 705.7 L160.9 704.6 L161.9 703.5 L162.9 702.5 L163.9 701.4 L165.0 700.4 L166.0 699.3 L167.0 698.2 L168.1 697.2 L169.1 696.1 L170.2 695.1 L171.3 694.0 L172.3 692.9 L173.4 691.9 L174.5 690.8 L175.6 689.8 L176.7 688.7 L177.8 687.6 L178.9 686.6 L180.0 685.5 L181.2 684.5 L182.3 683.4 L183.4 682.3 L184.6 681.3 L185.7 680.2 L186.9 679.2 L188.1 678.1 L189.2 677.0 L190.4 676.0 L191.6 674.9 L192.8 673.9 L194.0 672.8 L195.2 671.7 L196.4 670.7 L197.6 669.6 L198.9 668.5 L200.1 667.5 L201.3 666.4 L202.6 665.4 L203.8 664.3 L205.1 663.2 L206.4 662.2 L207.6 661.1 L208.9 660.1 L210.2 659.0 L211.5 657.9 L212.8 656.9 L214.1 655.8 L215.4 654.8 L216.8 653.7 L218.1 652.6 L219.4 651.6 L220.8 650.5 L222.1 649.5 L223.5 648.4 L224.8 647.3 L226.2 646.3 L227.6 645.2 L229.0 644.2 L230.4 643.1 L231.8 642.0 L233.2 641.0 L234.6 639.9 L236.0 638.9 L237.4 637.8 L238.8 636.7 L240.3 635.7 L241.7 634.6 L243.2 633.6 L244.6 632.5 L246.1 631.4 L247.6 630.4 L249.1 629.3 L250.5 628.3 L252.0 627.2 L253.5 626.1 L255.0 625.1 L256.6 624.0 L258.1 623.0 L259.6 621.9 L261.1 620.8 L262.7 619.8 L264.2 618.7 L265.8 617.7 L267.3 616.6 L268.9 615.5 L270.5 614.5 L272.0 613.4 L273.6 612.4 L275.2 611.3 L276.8 610.2 L278.4 609.2 L280.0 608.1 L281.7 607.1 L283.3 606.0 L284.9 604.9 L286.6 603.9 L288.2 602.8 L289.9 601.8 L291.5 600.7 L293.2 599.6 L294.9 598.6 L296.6 597.5 L298.2 596.5 L299.9 595.4 L301.6 594.3 L303.3 593.3 L305.1 592.2 L306.8 591.2 L308.5 590.1 L310.2 589.0 L312.0 588.0 L313.7 586.9 L315.5 585.9 L317.3 584.8 L319.0 583.7 L320.8 582.7 L322.6 581.6 L324.4 580.6 L326.2 579.5 L328.0 578.4 L329.8 577.4 L331.6 576.3 L333.4 575.3 L335.3 574.2 L337.1 573.1 L338.9 572.1 L340.8 571.0 L342.6 570.0 L344.5 568.9 L346.4 567.8 L348.3 566.8 L350.1 565.7 L352.0 564.7 L353.9 563.6 L355.8 562.5 L357.7 561.5 L359.7 560.4 L361.6 559.4 L363.5 558.3 L365.5 557.2 L367.4 556.2 L369.4 555.1 L371.3 554.1 L373.3 553.0 L375.3 551.9 L377.2 550.9 L379.2 549.8 L381.2 548.8 L383.2 547.7 L385.2 546.6 L387.2 545.6 L389.3 544.5 L391.3 543.4 L393.3 542.4 L395.4 541.3 L397.4 540.3 L399.5 539.2 L401.5 538.1 L403.6 537.1 L405.7 536.0 L407.7 535.0 L409.8 533.9 L411.9 532.8 L414.0 531.8 L416.1 530.7 L418.2 529.7 L420.4 528.6 L422.5 527.5 L424.6 526.5 L426.8 525.4 L428.9 524.4 L431.1 523.3 L433.2 522.2 L435.4 521.2 L437.6 520.1 L439.8 519.1 L441.9 518.0 L444.1 516.9 L446.3 515.9 L448.6 514.8 L450.8 513.8 L453.0 512.7 L455.2 511.6 L457.5 510.6 L459.7 509.5 L461.9 508.5 L464.2 507.4 L466.5 506.3 L468.7 505.3 L471.0 504.2 L473.3 503.2" fill="none" stroke="#8c564b" stroke-width="1.65" stroke-dasharray="5.5 2.4" opacity="1"/>
<polygon points="161.4,692.9 164.2,701.5 173.3,701.5 165.9,706.9 168.7,715.5 161.4,710.2 154.1,715.5 156.9,706.9 149.5,701.5 158.6,701.5" fill="#ff0000" stroke="#000" stroke-width="1.2" stroke-linejoin="miter"/>
</g>
<rect x="86.8" y="508.7" width="533.9" height="352.8" fill="none" stroke="#505050" stroke-width="1"/>
<line x1="86.8" y1="861.5" x2="86.8" y2="865.0" stroke="#222" stroke-width="0.9"/>
<line x1="175.8" y1="861.5" x2="175.8" y2="865.0" stroke="#222" stroke-width="0.9"/>
<line x1="264.8" y1="861.5" x2="264.8" y2="865.0" stroke="#222" stroke-width="0.9"/>
<line x1="353.7" y1="861.5" x2="353.7" y2="865.0" stroke="#222" stroke-width="0.9"/>
<line x1="442.7" y1="861.5" x2="442.7" y2="865.0" stroke="#222" stroke-width="0.9"/>
<line x1="531.7" y1="861.5" x2="531.7" y2="865.0" stroke="#222" stroke-width="0.9"/>
<line x1="83.3" y1="861.5" x2="86.8" y2="861.5" stroke="#222" stroke-width="0.9"/>
<line x1="83.3" y1="817.4" x2="86.8" y2="817.4" stroke="#222" stroke-width="0.9"/>
<line x1="83.3" y1="773.3" x2="86.8" y2="773.3" stroke="#222" stroke-width="0.9"/>
<line x1="83.3" y1="729.2" x2="86.8" y2="729.2" stroke="#222" stroke-width="0.9"/>
<line x1="83.3" y1="685.1" x2="86.8" y2="685.1" stroke="#222" stroke-width="0.9"/>
<line x1="83.3" y1="641.0" x2="86.8" y2="641.0" stroke="#222" stroke-width="0.9"/>
<line x1="83.3" y1="596.9" x2="86.8" y2="596.9" stroke="#222" stroke-width="0.9"/>
<line x1="83.3" y1="552.8" x2="86.8" y2="552.8" stroke="#222" stroke-width="0.9"/>
<line x1="83.3" y1="508.7" x2="86.8" y2="508.7" stroke="#222" stroke-width="0.9"/>
<text x="86.8" y="877.8" font-size="11.5" text-anchor="middle" fill="#1a1a1a" stroke="#1a1a1a" stroke-width="0.3" font-family="Liberation Sans, sans-serif" textLength="6.8" lengthAdjust="spacingAndGlyphs" >0</text>
<text x="175.8" y="877.8" font-size="11.5" text-anchor="middle" fill="#1a1a1a" stroke="#1a1a1a" stroke-width="0.3" font-family="Liberation Sans, sans-serif" textLength="13.6" lengthAdjust="spacingAndGlyphs" >12</text>
<text x="264.8" y="877.8" font-size="11.5" text-anchor="middle" fill="#1a1a1a" stroke="#1a1a1a" stroke-width="0.3" font-family="Liberation Sans, sans-serif" textLength="13.6" lengthAdjust="spacingAndGlyphs" >24</text>
<text x="353.7" y="877.8" font-size="11.5" text-anchor="middle" fill="#1a1a1a" stroke="#1a1a1a" stroke-width="0.3" font-family="Liberation Sans, sans-serif" textLength="13.6" lengthAdjust="spacingAndGlyphs" >36</text>
<text x="442.7" y="877.8" font-size="11.5" text-anchor="middle" fill="#1a1a1a" stroke="#1a1a1a" stroke-width="0.3" font-family="Liberation Sans, sans-serif" textLength="13.6" lengthAdjust="spacingAndGlyphs" >48</text>
<text x="531.7" y="877.8" font-size="11.5" text-anchor="middle" fill="#1a1a1a" stroke="#1a1a1a" stroke-width="0.3" font-family="Liberation Sans, sans-serif" textLength="13.6" lengthAdjust="spacingAndGlyphs" >60</text>
<text x="78.4" y="865.6" font-size="11.5" text-anchor="end" fill="#1a1a1a" stroke="#1a1a1a" stroke-width="0.3" font-family="Liberation Sans, sans-serif" textLength="6.8" lengthAdjust="spacingAndGlyphs" >0</text>
<text x="78.4" y="821.5" font-size="11.5" text-anchor="end" fill="#1a1a1a" stroke="#1a1a1a" stroke-width="0.3" font-family="Liberation Sans, sans-serif" textLength="6.8" lengthAdjust="spacingAndGlyphs" >1</text>
<text x="78.4" y="777.4" font-size="11.5" text-anchor="end" fill="#1a1a1a" stroke="#1a1a1a" stroke-width="0.3" font-family="Liberation Sans, sans-serif" textLength="6.8" lengthAdjust="spacingAndGlyphs" >2</text>
<text x="78.4" y="733.3" font-size="11.5" text-anchor="end" fill="#1a1a1a" stroke="#1a1a1a" stroke-width="0.3" font-family="Liberation Sans, sans-serif" textLength="6.8" lengthAdjust="spacingAndGlyphs" >3</text>
<text x="78.4" y="689.2" font-size="11.5" text-anchor="end" fill="#1a1a1a" stroke="#1a1a1a" stroke-width="0.3" font-family="Liberation Sans, sans-serif" textLength="6.8" lengthAdjust="spacingAndGlyphs" >4</text>
<text x="78.4" y="645.1" font-size="11.5" text-anchor="end" fill="#1a1a1a" stroke="#1a1a1a" stroke-width="0.3" font-family="Liberation Sans, sans-serif" textLength="6.8" lengthAdjust="spacingAndGlyphs" >5</text>
<text x="78.4" y="601.0" font-size="11.5" text-anchor="end" fill="#1a1a1a" stroke="#1a1a1a" stroke-width="0.3" font-family="Liberation Sans, sans-serif" textLength="6.8" lengthAdjust="spacingAndGlyphs" >6</text>
<text x="78.4" y="556.9" font-size="11.5" text-anchor="end" fill="#1a1a1a" stroke="#1a1a1a" stroke-width="0.3" font-family="Liberation Sans, sans-serif" textLength="6.8" lengthAdjust="spacingAndGlyphs" >7</text>
<text x="78.4" y="512.8" font-size="11.5" text-anchor="end" fill="#1a1a1a" stroke="#1a1a1a" stroke-width="0.3" font-family="Liberation Sans, sans-serif" textLength="6.8" lengthAdjust="spacingAndGlyphs" >8</text>
<text x="353.7" y="896.2" font-size="15.9" text-anchor="middle" fill="#1a1a1a" stroke="#1a1a1a" stroke-width="0.3" font-family="Liberation Sans, sans-serif" textLength="268.6" lengthAdjust="spacingAndGlyphs" >Hours Since 04-03-2024 07:06:44</text>
<text transform="translate(62.6,685) rotate(-90)" font-size="15.9" text-anchor="middle" fill="#1a1a1a" stroke="#1a1a1a" stroke-width="0.3" font-family="Liberation Sans, sans-serif" textLength="291" lengthAdjust="spacingAndGlyphs">Distance from reference Shock (km)</text>
<text x="36.1" y="514.3" font-size="18.5" text-anchor="start" fill="#1a1a1a" stroke="#1a1a1a" stroke-width="0.3" font-family="Liberation Sans, sans-serif" textLength="32.0" lengthAdjust="spacingAndGlyphs" font-style="italic">NW</text>
<text x="35.8" y="876.5" font-size="18.5" text-anchor="start" fill="#1a1a1a" stroke="#1a1a1a" stroke-width="0.3" font-family="Liberation Sans, sans-serif" textLength="23.0" lengthAdjust="spacingAndGlyphs" font-style="italic">SE</text>
<text x="95.3" y="540.3" font-size="19" text-anchor="start" fill="#1a1a1a" stroke="#1a1a1a" stroke-width="0.3" font-family="Liberation Sans, sans-serif" textLength="26.3" lengthAdjust="spacingAndGlyphs" >(b)</text>
<rect x="556.9" y="24.2" width="114.8" height="209.1" rx="2.5" fill="#fff" fill-opacity="0.8" stroke="#ccc" stroke-width="1"/>
<circle cx="571.2" cy="34.4" r="2.15" fill="#fff" stroke="#000" stroke-width="1.3"/>
<text x="590.9" y="37.8" font-size="10" text-anchor="start" fill="#1a1a1a" stroke="#1a1a1a" stroke-width="0.3" font-family="Liberation Sans, sans-serif" textLength="66.0" lengthAdjust="spacingAndGlyphs" >0 ≤ Mag &lt; 1</text>
<circle cx="571.2" cy="50.2" r="2.25" fill="#0000a4" stroke="#000" stroke-width="1.1"/>
<text x="590.9" y="53.6" font-size="10" text-anchor="start" fill="#1a1a1a" stroke="#1a1a1a" stroke-width="0.3" font-family="Liberation Sans, sans-serif" textLength="66.0" lengthAdjust="spacingAndGlyphs" >1 ≤ Mag &lt; 2</text>
<circle cx="571.2" cy="66.1" r="2.25" fill="#167016" stroke="#000" stroke-width="1.1"/>
<text x="590.9" y="69.5" font-size="10" text-anchor="start" fill="#1a1a1a" stroke="#1a1a1a" stroke-width="0.3" font-family="Liberation Sans, sans-serif" textLength="66.0" lengthAdjust="spacingAndGlyphs" >2 ≤ Mag &lt; 3</text>
<circle cx="571.2" cy="81.9" r="8.2" fill="#ffff00" stroke="#000" stroke-width="1.4"/>
<text x="590.9" y="85.3" font-size="10" text-anchor="start" fill="#1a1a1a" stroke="#1a1a1a" stroke-width="0.3" font-family="Liberation Sans, sans-serif" textLength="76.0" lengthAdjust="spacingAndGlyphs" >3 ≤ Mag &lt; 3.7</text>
<polygon points="571.2,84.9 574.1,93.8 583.4,93.8 575.8,99.2 578.7,108.1 571.2,102.6 563.7,108.1 566.6,99.2 559.0,93.8 568.3,93.8" fill="#ff0000" stroke="#000" stroke-width="1.1" stroke-linejoin="miter"/>
<text x="590.9" y="101.1" font-size="10" text-anchor="start" fill="#1a1a1a" stroke="#1a1a1a" stroke-width="0.3" font-family="Liberation Sans, sans-serif" textLength="76.0" lengthAdjust="spacingAndGlyphs" >3.7 ≤ Mag &lt; 4</text>
<line x1="560.4" y1="113.5" x2="582.9" y2="113.5" stroke="#1f77b4" stroke-width="1.5"/>
<text x="594.7" y="117.0" font-size="10" text-anchor="start" fill="#1a1a1a" stroke="#1a1a1a" stroke-width="0.3" font-family="Liberation Sans, sans-serif" textLength="67.0" lengthAdjust="spacingAndGlyphs" >D=0.01 m²/s</text>
<line x1="560.4" y1="129.4" x2="582.9" y2="129.4" stroke="#ff7f0e" stroke-width="1.5"/>
<text x="594.7" y="132.8" font-size="10" text-anchor="start" fill="#1a1a1a" stroke="#1a1a1a" stroke-width="0.3" font-family="Liberation Sans, sans-serif" textLength="60.5" lengthAdjust="spacingAndGlyphs" >D=0.1 m²/s</text>
<line x1="560.4" y1="145.2" x2="582.9" y2="145.2" stroke="#2ca02c" stroke-width="1.5"/>
<text x="594.7" y="148.6" font-size="10" text-anchor="start" fill="#1a1a1a" stroke="#1a1a1a" stroke-width="0.3" font-family="Liberation Sans, sans-serif" textLength="60.5" lengthAdjust="spacingAndGlyphs" >D=0.3 m²/s</text>
<line x1="560.4" y1="161.0" x2="582.9" y2="161.0" stroke="#d62728" stroke-width="1.5"/>
<text x="594.7" y="164.4" font-size="10" text-anchor="start" fill="#1a1a1a" stroke="#1a1a1a" stroke-width="0.3" font-family="Liberation Sans, sans-serif" textLength="50.5" lengthAdjust="spacingAndGlyphs" >D=1 m²/s</text>
<line x1="560.4" y1="176.9" x2="582.9" y2="176.9" stroke="#9467bd" stroke-width="1.5"/>
<text x="594.7" y="180.3" font-size="10" text-anchor="start" fill="#1a1a1a" stroke="#1a1a1a" stroke-width="0.3" font-family="Liberation Sans, sans-serif" textLength="50.5" lengthAdjust="spacingAndGlyphs" >D=3 m²/s</text>
<line x1="560.4" y1="192.7" x2="582.9" y2="192.7" stroke="#8c564b" stroke-width="1.5"/>
<text x="594.7" y="196.1" font-size="10" text-anchor="start" fill="#1a1a1a" stroke="#1a1a1a" stroke-width="0.3" font-family="Liberation Sans, sans-serif" textLength="50.5" lengthAdjust="spacingAndGlyphs" >D=5 m²/s</text>
<line x1="560.4" y1="208.5" x2="582.9" y2="208.5" stroke="#e377c2" stroke-width="1.5"/>
<text x="594.7" y="211.9" font-size="10" text-anchor="start" fill="#1a1a1a" stroke="#1a1a1a" stroke-width="0.3" font-family="Liberation Sans, sans-serif" textLength="50.5" lengthAdjust="spacingAndGlyphs" >D=9 m²/s</text>
<line x1="560.4" y1="224.4" x2="582.9" y2="224.4" stroke="#7f7f7f" stroke-width="1.5" stroke-dasharray="5.5 2.4"/>
<text x="594.7" y="227.8" font-size="10" text-anchor="start" fill="#1a1a1a" stroke="#1a1a1a" stroke-width="0.3" font-family="Liberation Sans, sans-serif" textLength="57.0" lengthAdjust="spacingAndGlyphs" >D=28 m²/s</text>
<rect x="499.4" y="513.6" width="115.2" height="176.6" rx="2.5" fill="#fff" fill-opacity="0.8" stroke="#ccc" stroke-width="1"/>
<circle cx="514.6" cy="523.6" r="2.2" fill="#fff" stroke="#000" stroke-width="1.3"/>
<text x="533.4" y="527.0" font-size="10" text-anchor="start" fill="#1a1a1a" stroke="#1a1a1a" stroke-width="0.3" font-family="Liberation Sans, sans-serif" textLength="66.0" lengthAdjust="spacingAndGlyphs" >0 ≤ Mag &lt; 1</text>
<circle cx="514.6" cy="539.4" r="2.3" fill="#00007c" stroke="#000" stroke-width="1.0"/>
<text x="533.4" y="542.8" font-size="10" text-anchor="start" fill="#1a1a1a" stroke="#1a1a1a" stroke-width="0.3" font-family="Liberation Sans, sans-serif" textLength="66.0" lengthAdjust="spacingAndGlyphs" >1 ≤ Mag &lt; 2</text>
<circle cx="514.6" cy="555.3" r="2.3" fill="#0c5a1c" stroke="#000" stroke-width="1.0"/>
<text x="533.4" y="558.7" font-size="10" text-anchor="start" fill="#1a1a1a" stroke="#1a1a1a" stroke-width="0.3" font-family="Liberation Sans, sans-serif" textLength="66.0" lengthAdjust="spacingAndGlyphs" >2 ≤ Mag &lt; 3</text>
<circle cx="514.6" cy="571.1" r="8.2" fill="#ffff00" stroke="#000" stroke-width="1.4"/>
<text x="533.4" y="574.5" font-size="10" text-anchor="start" fill="#1a1a1a" stroke="#1a1a1a" stroke-width="0.3" font-family="Liberation Sans, sans-serif" textLength="76.0" lengthAdjust="spacingAndGlyphs" >3 ≤ Mag &lt; 3.7</text>
<polygon points="514.6,574.1 517.5,583.0 526.8,583.0 519.2,588.4 522.1,597.3 514.6,591.8 507.1,597.3 510.0,588.4 502.4,583.0 511.7,583.0" fill="#ff0000" stroke="#000" stroke-width="1.1" stroke-linejoin="miter"/>
<text x="533.4" y="590.3" font-size="10" text-anchor="start" fill="#1a1a1a" stroke="#1a1a1a" stroke-width="0.3" font-family="Liberation Sans, sans-serif" textLength="76.0" lengthAdjust="spacingAndGlyphs" >3.7 ≤ Mag &lt; 4</text>
<line x1="502.9" y1="602.8" x2="525.4" y2="602.8" stroke="#1f77b4" stroke-width="1.5"/>
<text x="537.2" y="606.2" font-size="10" text-anchor="start" fill="#1a1a1a" stroke="#1a1a1a" stroke-width="0.3" font-family="Liberation Sans, sans-serif" textLength="60.5" lengthAdjust="spacingAndGlyphs" >D=0.3 m²/s</text>
<line x1="502.9" y1="618.6" x2="525.4" y2="618.6" stroke="#ff7f0e" stroke-width="1.5"/>
<text x="537.2" y="622.0" font-size="10" text-anchor="start" fill="#1a1a1a" stroke="#1a1a1a" stroke-width="0.3" font-family="Liberation Sans, sans-serif" textLength="50.5" lengthAdjust="spacingAndGlyphs" >D=1 m²/s</text>
<line x1="502.9" y1="634.4" x2="525.4" y2="634.4" stroke="#2ca02c" stroke-width="1.5"/>
<text x="537.2" y="637.8" font-size="10" text-anchor="start" fill="#1a1a1a" stroke="#1a1a1a" stroke-width="0.3" font-family="Liberation Sans, sans-serif" textLength="50.5" lengthAdjust="spacingAndGlyphs" >D=3 m²/s</text>
<line x1="502.9" y1="650.2" x2="525.4" y2="650.2" stroke="#d62728" stroke-width="1.5"/>
<text x="537.2" y="653.6" font-size="10" text-anchor="start" fill="#1a1a1a" stroke="#1a1a1a" stroke-width="0.3" font-family="Liberation Sans, sans-serif" textLength="50.5" lengthAdjust="spacingAndGlyphs" >D=5 m²/s</text>
<line x1="502.9" y1="666.1" x2="525.4" y2="666.1" stroke="#9467bd" stroke-width="1.5"/>
<text x="537.2" y="669.5" font-size="10" text-anchor="start" fill="#1a1a1a" stroke="#1a1a1a" stroke-width="0.3" font-family="Liberation Sans, sans-serif" textLength="50.5" lengthAdjust="spacingAndGlyphs" >D=9 m²/s</text>
<line x1="502.9" y1="681.9" x2="525.4" y2="681.9" stroke="#8c564b" stroke-width="1.5" stroke-dasharray="5.5 2.4"/>
<text x="537.2" y="685.3" font-size="10" text-anchor="start" fill="#1a1a1a" stroke="#1a1a1a" stroke-width="0.3" font-family="Liberation Sans, sans-serif" textLength="57.0" lengthAdjust="spacingAndGlyphs" >D=28 m²/s</text>
</svg>
</body></html>
